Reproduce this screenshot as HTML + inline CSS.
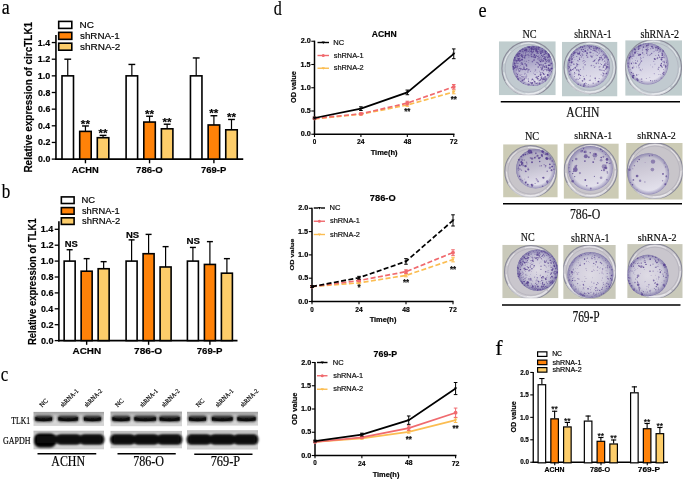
<!DOCTYPE html>
<html><head><meta charset="utf-8"><style>
html,body{margin:0;padding:0;background:#fff;width:685px;height:480px;overflow:hidden}
svg{display:block;will-change:transform}
text{white-space:pre;stroke:#000;stroke-width:0.22px;stroke-opacity:0.8}
</style></head><body>
<svg width="685" height="480" viewBox="0 0 685 480">
<defs>
<filter id="bl1" x="-20%" y="-50%" width="140%" height="200%"><feGaussianBlur stdDeviation="0.9"/></filter>
<filter id="bl2" x="-20%" y="-50%" width="140%" height="200%"><feGaussianBlur stdDeviation="0.5"/></filter>
<filter id="bl3" x="-5%" y="-5%" width="110%" height="110%"><feGaussianBlur stdDeviation="0.35"/></filter>
</defs>
<text x="1.72" y="14.34" font-family="'Liberation Serif', serif" font-weight="normal" font-size="20.83" textLength="7.98" lengthAdjust="spacingAndGlyphs" fill="#000" stroke="#000" stroke-width="0.3">a</text>
<text x="1.70" y="198.34" font-family="'Liberation Serif', serif" font-weight="normal" font-size="21.28" textLength="8.53" lengthAdjust="spacingAndGlyphs" fill="#000" stroke="#000" stroke-width="0.3">b</text>
<text x="0.68" y="381.45" font-family="'Liberation Serif', serif" font-weight="normal" font-size="20.42" textLength="7.46" lengthAdjust="spacingAndGlyphs" fill="#000" stroke="#000" stroke-width="0.3">c</text>
<text x="273.79" y="15.45" font-family="'Liberation Serif', serif" font-weight="normal" font-size="20.50" textLength="8.02" lengthAdjust="spacingAndGlyphs" fill="#000" stroke="#000" stroke-width="0.3">d</text>
<text x="478.47" y="16.53" font-family="'Liberation Serif', serif" font-weight="normal" font-size="21.67" textLength="8.10" lengthAdjust="spacingAndGlyphs" fill="#000" stroke="#000" stroke-width="0.3">e</text>
<text x="495.39" y="355.45" font-family="'Liberation Serif', serif" font-weight="normal" font-size="21.84" textLength="7.37" lengthAdjust="spacingAndGlyphs" fill="#000" stroke="#000" stroke-width="0.3">f</text>
<line x1="55.95" y1="35" x2="55.95" y2="159.9" stroke="#000" stroke-width="1.6"/>
<line x1="55.150000000000006" y1="159.1" x2="243.25" y2="159.1" stroke="#000" stroke-width="1.6"/>
<line x1="51.75" y1="159.10" x2="55.95" y2="159.10" stroke="#000" stroke-width="1.3"/>
<text x="38.05" y="162.11" font-family="'Liberation Sans', sans-serif" font-weight="bold" font-size="8.73" textLength="12.31" lengthAdjust="spacingAndGlyphs" fill="#000">0.0</text>
<line x1="51.75" y1="142.45" x2="55.95" y2="142.45" stroke="#000" stroke-width="1.3"/>
<text x="38.05" y="145.46" font-family="'Liberation Sans', sans-serif" font-weight="bold" font-size="8.73" textLength="12.31" lengthAdjust="spacingAndGlyphs" fill="#000">0.2</text>
<line x1="51.75" y1="125.80" x2="55.95" y2="125.80" stroke="#000" stroke-width="1.3"/>
<text x="38.06" y="128.81" font-family="'Liberation Sans', sans-serif" font-weight="bold" font-size="8.73" textLength="11.99" lengthAdjust="spacingAndGlyphs" fill="#000">0.4</text>
<line x1="51.75" y1="109.15" x2="55.95" y2="109.15" stroke="#000" stroke-width="1.3"/>
<text x="38.05" y="112.16" font-family="'Liberation Sans', sans-serif" font-weight="bold" font-size="8.73" textLength="12.26" lengthAdjust="spacingAndGlyphs" fill="#000">0.6</text>
<line x1="51.75" y1="92.50" x2="55.95" y2="92.50" stroke="#000" stroke-width="1.3"/>
<text x="38.05" y="95.51" font-family="'Liberation Sans', sans-serif" font-weight="bold" font-size="8.73" textLength="12.22" lengthAdjust="spacingAndGlyphs" fill="#000">0.8</text>
<line x1="51.75" y1="75.85" x2="55.95" y2="75.85" stroke="#000" stroke-width="1.3"/>
<text x="37.86" y="78.86" font-family="'Liberation Sans', sans-serif" font-weight="bold" font-size="8.73" textLength="12.50" lengthAdjust="spacingAndGlyphs" fill="#000">1.0</text>
<line x1="51.75" y1="59.20" x2="55.95" y2="59.20" stroke="#000" stroke-width="1.3"/>
<text x="37.86" y="62.30" font-family="'Liberation Sans', sans-serif" font-weight="bold" font-size="8.86" textLength="12.50" lengthAdjust="spacingAndGlyphs" fill="#000">1.2</text>
<line x1="51.75" y1="42.55" x2="55.95" y2="42.55" stroke="#000" stroke-width="1.3"/>
<text x="37.87" y="45.65" font-family="'Liberation Sans', sans-serif" font-weight="bold" font-size="8.99" textLength="12.17" lengthAdjust="spacingAndGlyphs" fill="#000">1.4</text>
<line x1="67.75" y1="75.85" x2="67.75" y2="59.20" stroke="#000" stroke-width="1.2"/>
<line x1="64.35" y1="59.20" x2="71.15" y2="59.20" stroke="#000" stroke-width="1.4"/>
<rect x="62.00" y="75.85" width="11.50" height="83.25" fill="#fff" stroke="#000" stroke-width="1.6"/>
<line x1="85.45" y1="131.38" x2="85.45" y2="125.97" stroke="#000" stroke-width="1.2"/>
<line x1="82.05" y1="125.97" x2="88.85" y2="125.97" stroke="#000" stroke-width="1.4"/>
<rect x="79.70" y="131.38" width="11.50" height="27.72" fill="#ff8208" stroke="#000" stroke-width="1.6"/>
<text x="80.89" y="127.70" font-family="'Liberation Sans', sans-serif" font-weight="bold" font-size="11.35" textLength="9.10" lengthAdjust="spacingAndGlyphs" fill="#000">**</text>
<line x1="103.05" y1="137.70" x2="103.05" y2="135.37" stroke="#000" stroke-width="1.2"/>
<line x1="99.65" y1="135.37" x2="106.45" y2="135.37" stroke="#000" stroke-width="1.4"/>
<rect x="97.30" y="137.70" width="11.50" height="21.40" fill="#fdcd6a" stroke="#000" stroke-width="1.6"/>
<text x="98.49" y="137.11" font-family="'Liberation Sans', sans-serif" font-weight="bold" font-size="11.35" textLength="9.10" lengthAdjust="spacingAndGlyphs" fill="#000">**</text>
<line x1="85.45" y1="159.1" x2="85.45" y2="163.29999999999998" stroke="#000" stroke-width="1.4"/>
<line x1="131.85" y1="75.85" x2="131.85" y2="64.44" stroke="#000" stroke-width="1.2"/>
<line x1="128.45" y1="64.44" x2="135.25" y2="64.44" stroke="#000" stroke-width="1.4"/>
<rect x="126.10" y="75.85" width="11.50" height="83.25" fill="#fff" stroke="#000" stroke-width="1.6"/>
<line x1="149.55" y1="122.05" x2="149.55" y2="116.23" stroke="#000" stroke-width="1.2"/>
<line x1="146.15" y1="116.23" x2="152.95" y2="116.23" stroke="#000" stroke-width="1.4"/>
<rect x="143.80" y="122.05" width="11.50" height="37.05" fill="#ff8208" stroke="#000" stroke-width="1.6"/>
<text x="144.99" y="117.96" font-family="'Liberation Sans', sans-serif" font-weight="bold" font-size="11.35" textLength="9.10" lengthAdjust="spacingAndGlyphs" fill="#000">**</text>
<line x1="167.15" y1="128.80" x2="167.15" y2="124.22" stroke="#000" stroke-width="1.2"/>
<line x1="163.75" y1="124.22" x2="170.55" y2="124.22" stroke="#000" stroke-width="1.4"/>
<rect x="161.40" y="128.80" width="11.50" height="30.30" fill="#fdcd6a" stroke="#000" stroke-width="1.6"/>
<text x="162.59" y="125.95" font-family="'Liberation Sans', sans-serif" font-weight="bold" font-size="11.35" textLength="9.10" lengthAdjust="spacingAndGlyphs" fill="#000">**</text>
<line x1="149.55" y1="159.1" x2="149.55" y2="163.29999999999998" stroke="#000" stroke-width="1.4"/>
<line x1="196.20" y1="75.85" x2="196.20" y2="57.95" stroke="#000" stroke-width="1.2"/>
<line x1="192.80" y1="57.95" x2="199.60" y2="57.95" stroke="#000" stroke-width="1.4"/>
<rect x="190.45" y="75.85" width="11.50" height="83.25" fill="#fff" stroke="#000" stroke-width="1.6"/>
<line x1="213.90" y1="124.97" x2="213.90" y2="115.73" stroke="#000" stroke-width="1.2"/>
<line x1="210.50" y1="115.73" x2="217.30" y2="115.73" stroke="#000" stroke-width="1.4"/>
<rect x="208.15" y="124.97" width="11.50" height="34.13" fill="#ff8208" stroke="#000" stroke-width="1.6"/>
<text x="209.34" y="117.46" font-family="'Liberation Sans', sans-serif" font-weight="bold" font-size="11.35" textLength="9.10" lengthAdjust="spacingAndGlyphs" fill="#000">**</text>
<line x1="231.50" y1="129.80" x2="231.50" y2="119.47" stroke="#000" stroke-width="1.2"/>
<line x1="228.10" y1="119.47" x2="234.90" y2="119.47" stroke="#000" stroke-width="1.4"/>
<rect x="225.75" y="129.80" width="11.50" height="29.30" fill="#fdcd6a" stroke="#000" stroke-width="1.6"/>
<text x="226.94" y="121.21" font-family="'Liberation Sans', sans-serif" font-weight="bold" font-size="11.35" textLength="9.10" lengthAdjust="spacingAndGlyphs" fill="#000">**</text>
<line x1="213.90" y1="159.1" x2="213.90" y2="163.29999999999998" stroke="#000" stroke-width="1.4"/>
<text x="71.74" y="172.69" font-family="'Liberation Sans', sans-serif" font-weight="bold" font-size="9.24" textLength="26.93" lengthAdjust="spacingAndGlyphs" fill="#000">ACHN</text>
<text x="136.09" y="172.68" font-family="'Liberation Sans', sans-serif" font-weight="bold" font-size="9.59" textLength="26.62" lengthAdjust="spacingAndGlyphs" fill="#000">786-O</text>
<text x="201.09" y="172.68" font-family="'Liberation Sans', sans-serif" font-weight="bold" font-size="9.59" textLength="25.26" lengthAdjust="spacingAndGlyphs" fill="#000">769-P</text>
<text transform="translate(31.90,172.55) rotate(-90)" font-family="'Liberation Sans', sans-serif" font-weight="bold" font-size="10.58" textLength="150.62" lengthAdjust="spacingAndGlyphs" fill="#000">Relative expression of circTLK1</text>
<rect x="58.699999999999996" y="21.40" width="13.10" height="7.00" fill="#fff" stroke="#000" stroke-width="1.6"/>
<rect x="58.699999999999996" y="32.35" width="13.10" height="7.00" fill="#ff8208" stroke="#000" stroke-width="1.6"/>
<rect x="58.699999999999996" y="43.20" width="13.10" height="7.00" fill="#fdcd6a" stroke="#000" stroke-width="1.6"/>
<text x="79.50" y="28.11" font-family="'Liberation Sans', sans-serif" font-weight="normal" font-size="9.30" textLength="14.39" lengthAdjust="spacingAndGlyphs" fill="#000">NC</text>
<text x="80.01" y="39.10" font-family="'Liberation Sans', sans-serif" font-weight="normal" font-size="9.52" textLength="39.75" lengthAdjust="spacingAndGlyphs" fill="#000">shRNA-1</text>
<text x="80.00" y="49.85" font-family="'Liberation Sans', sans-serif" font-weight="normal" font-size="9.59" textLength="40.41" lengthAdjust="spacingAndGlyphs" fill="#000">shRNA-2</text>
<line x1="58.9" y1="221.25" x2="58.9" y2="341.40000000000003" stroke="#000" stroke-width="1.6"/>
<line x1="58.1" y1="340.6" x2="237.5" y2="340.6" stroke="#000" stroke-width="1.6"/>
<line x1="54.699999999999996" y1="340.60" x2="58.9" y2="340.60" stroke="#000" stroke-width="1.3"/>
<text x="40.94" y="343.52" font-family="'Liberation Sans', sans-serif" font-weight="bold" font-size="8.45" textLength="12.63" lengthAdjust="spacingAndGlyphs" fill="#000">0.0</text>
<line x1="54.699999999999996" y1="324.70" x2="58.9" y2="324.70" stroke="#000" stroke-width="1.3"/>
<text x="40.94" y="327.62" font-family="'Liberation Sans', sans-serif" font-weight="bold" font-size="8.45" textLength="12.63" lengthAdjust="spacingAndGlyphs" fill="#000">0.2</text>
<line x1="54.699999999999996" y1="308.80" x2="58.9" y2="308.80" stroke="#000" stroke-width="1.3"/>
<text x="40.95" y="311.72" font-family="'Liberation Sans', sans-serif" font-weight="bold" font-size="8.45" textLength="12.30" lengthAdjust="spacingAndGlyphs" fill="#000">0.4</text>
<line x1="54.699999999999996" y1="292.90" x2="58.9" y2="292.90" stroke="#000" stroke-width="1.3"/>
<text x="40.94" y="295.82" font-family="'Liberation Sans', sans-serif" font-weight="bold" font-size="8.45" textLength="12.58" lengthAdjust="spacingAndGlyphs" fill="#000">0.6</text>
<line x1="54.699999999999996" y1="277.00" x2="58.9" y2="277.00" stroke="#000" stroke-width="1.3"/>
<text x="40.94" y="279.92" font-family="'Liberation Sans', sans-serif" font-weight="bold" font-size="8.45" textLength="12.53" lengthAdjust="spacingAndGlyphs" fill="#000">0.8</text>
<line x1="54.699999999999996" y1="261.10" x2="58.9" y2="261.10" stroke="#000" stroke-width="1.3"/>
<text x="40.75" y="264.02" font-family="'Liberation Sans', sans-serif" font-weight="bold" font-size="8.45" textLength="12.82" lengthAdjust="spacingAndGlyphs" fill="#000">1.0</text>
<line x1="54.699999999999996" y1="245.20" x2="58.9" y2="245.20" stroke="#000" stroke-width="1.3"/>
<text x="40.75" y="248.20" font-family="'Liberation Sans', sans-serif" font-weight="bold" font-size="8.57" textLength="12.82" lengthAdjust="spacingAndGlyphs" fill="#000">1.2</text>
<line x1="54.699999999999996" y1="229.30" x2="58.9" y2="229.30" stroke="#000" stroke-width="1.3"/>
<text x="40.76" y="232.30" font-family="'Liberation Sans', sans-serif" font-weight="bold" font-size="8.70" textLength="12.49" lengthAdjust="spacingAndGlyphs" fill="#000">1.4</text>
<line x1="69.65" y1="261.10" x2="69.65" y2="249.73" stroke="#000" stroke-width="1.2"/>
<line x1="66.65" y1="249.73" x2="72.65" y2="249.73" stroke="#000" stroke-width="1.4"/>
<rect x="64.15" y="261.10" width="11.00" height="79.50" fill="#fff" stroke="#000" stroke-width="1.6"/>
<line x1="86.65" y1="271.20" x2="86.65" y2="258.64" stroke="#000" stroke-width="1.2"/>
<line x1="83.65" y1="258.64" x2="89.65" y2="258.64" stroke="#000" stroke-width="1.4"/>
<rect x="81.15" y="271.20" width="11.00" height="69.40" fill="#ff8208" stroke="#000" stroke-width="1.6"/>
<line x1="103.65" y1="268.73" x2="103.65" y2="261.66" stroke="#000" stroke-width="1.2"/>
<line x1="100.65" y1="261.66" x2="106.65" y2="261.66" stroke="#000" stroke-width="1.4"/>
<rect x="98.15" y="268.73" width="11.00" height="71.87" fill="#fdcd6a" stroke="#000" stroke-width="1.6"/>
<line x1="86.65" y1="340.6" x2="86.65" y2="344.8" stroke="#000" stroke-width="1.4"/>
<line x1="131.60" y1="261.10" x2="131.60" y2="239.87" stroke="#000" stroke-width="1.2"/>
<line x1="128.60" y1="239.87" x2="134.60" y2="239.87" stroke="#000" stroke-width="1.4"/>
<rect x="126.10" y="261.10" width="11.00" height="79.50" fill="#fff" stroke="#000" stroke-width="1.6"/>
<line x1="148.60" y1="253.71" x2="148.60" y2="234.39" stroke="#000" stroke-width="1.2"/>
<line x1="145.60" y1="234.39" x2="151.60" y2="234.39" stroke="#000" stroke-width="1.4"/>
<rect x="143.10" y="253.71" width="11.00" height="86.89" fill="#ff8208" stroke="#000" stroke-width="1.6"/>
<line x1="165.60" y1="266.98" x2="165.60" y2="246.63" stroke="#000" stroke-width="1.2"/>
<line x1="162.60" y1="246.63" x2="168.60" y2="246.63" stroke="#000" stroke-width="1.4"/>
<rect x="160.10" y="266.98" width="11.00" height="73.62" fill="#fdcd6a" stroke="#000" stroke-width="1.6"/>
<line x1="148.60" y1="340.6" x2="148.60" y2="344.8" stroke="#000" stroke-width="1.4"/>
<line x1="192.90" y1="261.10" x2="192.90" y2="247.43" stroke="#000" stroke-width="1.2"/>
<line x1="189.90" y1="247.43" x2="195.90" y2="247.43" stroke="#000" stroke-width="1.4"/>
<rect x="187.40" y="261.10" width="11.00" height="79.50" fill="#fff" stroke="#000" stroke-width="1.6"/>
<line x1="209.90" y1="264.44" x2="209.90" y2="241.62" stroke="#000" stroke-width="1.2"/>
<line x1="206.90" y1="241.62" x2="212.90" y2="241.62" stroke="#000" stroke-width="1.4"/>
<rect x="204.40" y="264.44" width="11.00" height="76.16" fill="#ff8208" stroke="#000" stroke-width="1.6"/>
<line x1="226.90" y1="273.18" x2="226.90" y2="258.64" stroke="#000" stroke-width="1.2"/>
<line x1="223.90" y1="258.64" x2="229.90" y2="258.64" stroke="#000" stroke-width="1.4"/>
<rect x="221.40" y="273.18" width="11.00" height="67.42" fill="#fdcd6a" stroke="#000" stroke-width="1.6"/>
<line x1="209.90" y1="340.6" x2="209.90" y2="344.8" stroke="#000" stroke-width="1.4"/>
<text x="64.69" y="247.31" font-family="'Liberation Sans', sans-serif" font-weight="bold" font-size="8.59" textLength="13.08" lengthAdjust="spacingAndGlyphs" fill="#000">NS</text>
<text x="126.03" y="237.51" font-family="'Liberation Sans', sans-serif" font-weight="bold" font-size="9.44" textLength="13.19" lengthAdjust="spacingAndGlyphs" fill="#000">NS</text>
<text x="186.52" y="244.01" font-family="'Liberation Sans', sans-serif" font-weight="bold" font-size="9.44" textLength="13.46" lengthAdjust="spacingAndGlyphs" fill="#000">NS</text>
<text x="72.47" y="354.09" font-family="'Liberation Sans', sans-serif" font-weight="bold" font-size="9.38" textLength="28.74" lengthAdjust="spacingAndGlyphs" fill="#000">ACHN</text>
<text x="134.06" y="354.09" font-family="'Liberation Sans', sans-serif" font-weight="bold" font-size="9.38" textLength="28.17" lengthAdjust="spacingAndGlyphs" fill="#000">786-O</text>
<text x="196.73" y="354.09" font-family="'Liberation Sans', sans-serif" font-weight="bold" font-size="9.38" textLength="25.77" lengthAdjust="spacingAndGlyphs" fill="#000">769-P</text>
<text transform="translate(35.80,345.01) rotate(-90)" font-family="'Liberation Sans', sans-serif" font-weight="bold" font-size="10.43" textLength="126.68" lengthAdjust="spacingAndGlyphs" fill="#000">Relative expression of TLK1</text>
<rect x="61.349999999999994" y="196.90" width="12.75" height="6.60" fill="#fff" stroke="#000" stroke-width="1.6"/>
<rect x="61.349999999999994" y="207.60" width="12.75" height="6.60" fill="#ff8208" stroke="#000" stroke-width="1.6"/>
<rect x="61.349999999999994" y="217.80" width="12.75" height="6.60" fill="#fdcd6a" stroke="#000" stroke-width="1.6"/>
<text x="81.50" y="203.07" font-family="'Liberation Sans', sans-serif" font-weight="normal" font-size="8.17" textLength="13.63" lengthAdjust="spacingAndGlyphs" fill="#000">NC</text>
<text x="81.97" y="213.67" font-family="'Liberation Sans', sans-serif" font-weight="normal" font-size="8.44" textLength="37.71" lengthAdjust="spacingAndGlyphs" fill="#000">shRNA-1</text>
<text x="81.97" y="224.16" font-family="'Liberation Sans', sans-serif" font-weight="normal" font-size="8.84" textLength="38.27" lengthAdjust="spacingAndGlyphs" fill="#000">shRNA-2</text>
<defs><linearGradient id="gbt" x1="0" y1="0" x2="0" y2="1"><stop offset="0" stop-color="#9e9e9e"/><stop offset="0.3" stop-color="#c6c6c6"/><stop offset="0.7" stop-color="#d9d9d9"/><stop offset="1" stop-color="#d3d3d3"/></linearGradient><linearGradient id="gbg" x1="0" y1="0" x2="0" y2="1"><stop offset="0" stop-color="#bdbdbd"/><stop offset="0.25" stop-color="#d0d0d0"/><stop offset="0.8" stop-color="#d8d8d8"/><stop offset="1" stop-color="#cdcdcd"/></linearGradient><filter id="bb" x="-10%" y="-60%" width="120%" height="220%"><feGaussianBlur stdDeviation="0.8"/></filter><filter id="bb2" x="-10%" y="-60%" width="120%" height="220%"><feGaussianBlur stdDeviation="0.6"/></filter></defs>
<rect x="33.5" y="411.9" width="70.5" height="14.00" fill="url(#gbt)"/>
<rect x="33.5" y="430.7" width="70.5" height="18.60" fill="url(#gbg)"/>
<rect x="34.40" y="415.4" width="18.60" height="6.3" rx="3" fill="#2a2a2a" filter="url(#bb)"/>
<path d="M35.40,417.2 Q43.70,419.6 52.00,417.2 L52.00,420.6 Q43.70,422.0 35.40,420.6 Z" fill="#0c0c0c" filter="url(#bb2)"/>
<rect x="57.50" y="415.4" width="21.25" height="6.3" rx="3" fill="#2a2a2a" filter="url(#bb)"/>
<path d="M58.50,417.2 Q68.12,419.6 77.75,417.2 L77.75,420.6 Q68.12,422.0 58.50,420.6 Z" fill="#0c0c0c" filter="url(#bb2)"/>
<rect x="83.00" y="415.4" width="18.90" height="6.3" rx="3" fill="#2a2a2a" filter="url(#bb)"/>
<path d="M84.00,417.2 Q92.45,419.6 100.90,417.2 L100.90,420.6 Q92.45,422.0 84.00,420.6 Z" fill="#0c0c0c" filter="url(#bb2)"/>
<rect x="34.10" y="433.6" width="21.90" height="13.8" rx="5.5" fill="#050505" filter="url(#bb)"/>
<rect x="56.60" y="434.4" width="24.30" height="10.2" rx="4.5" fill="#080808" filter="url(#bb)"/>
<rect x="80.10" y="434.4" width="24.30" height="10.2" rx="4.5" fill="#080808" filter="url(#bb)"/>
<rect x="36.50" y="435.6" width="64.50" height="7.6" fill="#0a0a0a" filter="url(#bb)"/>
<rect x="110.5" y="411.6" width="71.5" height="14.60" fill="url(#gbt)"/>
<rect x="110.5" y="430.9" width="71.5" height="17.40" fill="url(#gbg)"/>
<rect x="111.50" y="415.4" width="19.10" height="6.3" rx="3" fill="#2a2a2a" filter="url(#bb)"/>
<path d="M112.50,417.2 Q121.05,419.6 129.60,417.2 L129.60,420.6 Q121.05,422.0 112.50,420.6 Z" fill="#0c0c0c" filter="url(#bb2)"/>
<rect x="133.50" y="415.4" width="23.40" height="6.3" rx="3" fill="#2a2a2a" filter="url(#bb)"/>
<path d="M134.50,417.2 Q145.20,419.6 155.90,417.2 L155.90,420.6 Q145.20,422.0 134.50,420.6 Z" fill="#0c0c0c" filter="url(#bb2)"/>
<rect x="158.75" y="415.4" width="21.85" height="6.3" rx="3" fill="#2a2a2a" filter="url(#bb)"/>
<path d="M159.75,417.2 Q169.68,419.6 179.60,417.2 L179.60,420.6 Q169.68,422.0 159.75,420.6 Z" fill="#0c0c0c" filter="url(#bb2)"/>
<rect x="110.10" y="434.4" width="24.63" height="10.2" rx="4.5" fill="#080808" filter="url(#bb)"/>
<rect x="133.93" y="434.4" width="24.63" height="10.2" rx="4.5" fill="#080808" filter="url(#bb)"/>
<rect x="157.77" y="434.4" width="24.63" height="10.2" rx="4.5" fill="#080808" filter="url(#bb)"/>
<rect x="113.50" y="435.6" width="65.50" height="7.6" fill="#0a0a0a" filter="url(#bb)"/>
<rect x="187.0" y="411.8" width="71.0" height="13.80" fill="url(#gbt)"/>
<rect x="187.0" y="430.2" width="71.0" height="19.30" fill="url(#gbg)"/>
<rect x="188.00" y="415.4" width="19.00" height="6.3" rx="3" fill="#2a2a2a" filter="url(#bb)"/>
<path d="M189.00,417.2 Q197.50,419.6 206.00,417.2 L206.00,420.6 Q197.50,422.0 189.00,420.6 Z" fill="#0c0c0c" filter="url(#bb2)"/>
<rect x="211.00" y="415.4" width="22.50" height="6.3" rx="3" fill="#2a2a2a" filter="url(#bb)"/>
<path d="M212.00,417.2 Q222.25,419.6 232.50,417.2 L232.50,420.6 Q222.25,422.0 212.00,420.6 Z" fill="#0c0c0c" filter="url(#bb2)"/>
<rect x="236.50" y="415.4" width="20.00" height="6.3" rx="3" fill="#2a2a2a" filter="url(#bb)"/>
<path d="M237.50,417.2 Q246.50,419.6 255.50,417.2 L255.50,420.6 Q246.50,422.0 237.50,420.6 Z" fill="#0c0c0c" filter="url(#bb2)"/>
<rect x="186.60" y="434.4" width="24.47" height="10.2" rx="4.5" fill="#080808" filter="url(#bb)"/>
<rect x="210.27" y="434.4" width="24.47" height="10.2" rx="4.5" fill="#080808" filter="url(#bb)"/>
<rect x="233.93" y="434.4" width="24.47" height="10.2" rx="4.5" fill="#080808" filter="url(#bb)"/>
<rect x="190.00" y="435.6" width="65.00" height="7.6" fill="#0a0a0a" filter="url(#bb)"/>
<text x="11.32" y="424.28" font-family="'Liberation Serif', serif" font-weight="normal" font-size="9.94" textLength="18.92" lengthAdjust="spacingAndGlyphs" fill="#000">TLK1</text>
<text x="2.90" y="444.07" font-family="'Liberation Serif', serif" font-weight="normal" font-size="10.99" textLength="27.58" lengthAdjust="spacingAndGlyphs" fill="#000">GAPDH</text>
<line x1="37.5" y1="453.75" x2="96.25" y2="453.75" stroke="#000" stroke-width="1.3"/>
<line x1="117.5" y1="453.75" x2="175.75" y2="453.75" stroke="#000" stroke-width="1.3"/>
<line x1="194.25" y1="454.25" x2="252.5" y2="454.25" stroke="#000" stroke-width="1.3"/>
<text x="51.35" y="465.89" font-family="'Liberation Serif', serif" font-weight="normal" font-size="14.27" textLength="33.71" lengthAdjust="spacingAndGlyphs" fill="#000">ACHN</text>
<text x="133.19" y="465.89" font-family="'Liberation Serif', serif" font-weight="normal" font-size="14.16" textLength="30.83" lengthAdjust="spacingAndGlyphs" fill="#000">786-O</text>
<text x="210.66" y="466.14" font-family="'Liberation Serif', serif" font-weight="normal" font-size="13.52" textLength="29.60" lengthAdjust="spacingAndGlyphs" fill="#000">769-P</text>
<text transform="translate(42.03,407.5) rotate(-45)" font-family="Liberation Serif, serif" font-size="6.5" textLength="9.0" lengthAdjust="spacingAndGlyphs" fill="#000" stroke="#000" stroke-width="0.18">NC</text>
<text transform="translate(62.87,407.5) rotate(-45)" font-family="Liberation Serif, serif" font-size="6.5" textLength="22.6" lengthAdjust="spacingAndGlyphs" fill="#000" stroke="#000" stroke-width="0.18">shRNA-1</text>
<text transform="translate(86.67,407.5) rotate(-45)" font-family="Liberation Serif, serif" font-size="6.5" textLength="22.6" lengthAdjust="spacingAndGlyphs" fill="#000" stroke="#000" stroke-width="0.18">shRNA-2</text>
<text transform="translate(117.73,407.5) rotate(-45)" font-family="Liberation Serif, serif" font-size="6.5" textLength="9.0" lengthAdjust="spacingAndGlyphs" fill="#000" stroke="#000" stroke-width="0.18">NC</text>
<text transform="translate(142.27,407.5) rotate(-45)" font-family="Liberation Serif, serif" font-size="6.5" textLength="22.6" lengthAdjust="spacingAndGlyphs" fill="#000" stroke="#000" stroke-width="0.18">shRNA-1</text>
<text transform="translate(164.07,407.5) rotate(-45)" font-family="Liberation Serif, serif" font-size="6.5" textLength="22.6" lengthAdjust="spacingAndGlyphs" fill="#000" stroke="#000" stroke-width="0.18">shRNA-2</text>
<text transform="translate(198.43,407.5) rotate(-45)" font-family="Liberation Serif, serif" font-size="6.5" textLength="9.0" lengthAdjust="spacingAndGlyphs" fill="#000" stroke="#000" stroke-width="0.18">NC</text>
<text transform="translate(217.87,407.5) rotate(-45)" font-family="Liberation Serif, serif" font-size="6.5" textLength="22.6" lengthAdjust="spacingAndGlyphs" fill="#000" stroke="#000" stroke-width="0.18">shRNA-1</text>
<text transform="translate(242.87,407.5) rotate(-45)" font-family="Liberation Serif, serif" font-size="6.5" textLength="22.6" lengthAdjust="spacingAndGlyphs" fill="#000" stroke="#000" stroke-width="0.18">shRNA-2</text>
<line x1="314.5" y1="40.65" x2="314.5" y2="135.0" stroke="#000" stroke-width="1.5"/>
<line x1="313.75" y1="134.25" x2="454.5" y2="134.25" stroke="#000" stroke-width="1.6"/>
<line x1="311.3" y1="134.25" x2="314.5" y2="134.25" stroke="#000" stroke-width="1.1"/>
<text x="300.66" y="136.39" font-family="'Liberation Sans', sans-serif" font-weight="bold" font-size="6.34" textLength="10.08" lengthAdjust="spacingAndGlyphs" fill="#000">0.0</text>
<line x1="311.3" y1="111.00" x2="314.5" y2="111.00" stroke="#000" stroke-width="1.1"/>
<text x="300.66" y="113.14" font-family="'Liberation Sans', sans-serif" font-weight="bold" font-size="6.34" textLength="9.97" lengthAdjust="spacingAndGlyphs" fill="#000">0.5</text>
<line x1="311.3" y1="87.75" x2="314.5" y2="87.75" stroke="#000" stroke-width="1.1"/>
<text x="300.51" y="89.89" font-family="'Liberation Sans', sans-serif" font-weight="bold" font-size="6.34" textLength="10.24" lengthAdjust="spacingAndGlyphs" fill="#000">1.0</text>
<line x1="311.3" y1="64.50" x2="314.5" y2="64.50" stroke="#000" stroke-width="1.1"/>
<text x="300.51" y="66.64" font-family="'Liberation Sans', sans-serif" font-weight="bold" font-size="6.43" textLength="10.12" lengthAdjust="spacingAndGlyphs" fill="#000">1.5</text>
<line x1="311.3" y1="41.25" x2="314.5" y2="41.25" stroke="#000" stroke-width="1.1"/>
<text x="300.70" y="43.39" font-family="'Liberation Sans', sans-serif" font-weight="bold" font-size="6.34" textLength="10.04" lengthAdjust="spacingAndGlyphs" fill="#000">2.0</text>
<line x1="314.50" y1="134.25" x2="314.50" y2="137.05" stroke="#000" stroke-width="1.1"/>
<text x="312.75" y="144.03" font-family="'Liberation Sans', sans-serif" font-weight="bold" font-size="6.76" textLength="3.51" lengthAdjust="spacingAndGlyphs" fill="#000">0</text>
<line x1="360.92" y1="134.25" x2="360.92" y2="137.05" stroke="#000" stroke-width="1.1"/>
<text x="357.08" y="144.10" font-family="'Liberation Sans', sans-serif" font-weight="bold" font-size="6.86" textLength="7.48" lengthAdjust="spacingAndGlyphs" fill="#000">24</text>
<line x1="407.33" y1="134.25" x2="407.33" y2="137.05" stroke="#000" stroke-width="1.1"/>
<text x="403.63" y="144.03" font-family="'Liberation Sans', sans-serif" font-weight="bold" font-size="6.76" textLength="7.52" lengthAdjust="spacingAndGlyphs" fill="#000">48</text>
<line x1="453.75" y1="134.25" x2="453.75" y2="137.05" stroke="#000" stroke-width="1.1"/>
<text x="449.87" y="144.10" font-family="'Liberation Sans', sans-serif" font-weight="bold" font-size="6.86" textLength="7.78" lengthAdjust="spacingAndGlyphs" fill="#000">72</text>
<text x="371.75" y="36.69" font-family="'Liberation Sans', sans-serif" font-weight="bold" font-size="9.24" textLength="24.87" lengthAdjust="spacingAndGlyphs" fill="#000">ACHN</text>
<text x="370.64" y="154.94" font-family="'Liberation Sans', sans-serif" font-weight="bold" font-size="7.55" textLength="26.99" lengthAdjust="spacingAndGlyphs" fill="#000">Time(h)</text>
<text transform="translate(296.46,103.07) rotate(-90)" font-family="'Liberation Sans', sans-serif" font-weight="bold" font-size="6.88" textLength="31.86" lengthAdjust="spacingAndGlyphs" fill="#000">OD value</text>
<polyline points="314.50,118.91 360.92,114.25 407.33,104.95 453.75,91.94" fill="none" stroke="#fbbd52" stroke-width="1.7" stroke-dasharray="5,2.4"/>
<path d="M312.90,117.91 L316.10,117.91 L314.50,120.31Z" fill="#fbbd52"/>
<line x1="360.92" y1="113.33" x2="360.92" y2="115.19" stroke="#fbbd52" stroke-width="1.0"/>
<line x1="359.12" y1="113.33" x2="362.72" y2="113.33" stroke="#fbbd52" stroke-width="1.0"/>
<line x1="359.12" y1="115.19" x2="362.72" y2="115.19" stroke="#fbbd52" stroke-width="1.0"/>
<path d="M359.32,113.25 L362.52,113.25 L360.92,115.66Z" fill="#fbbd52"/>
<line x1="407.33" y1="103.56" x2="407.33" y2="106.35" stroke="#fbbd52" stroke-width="1.0"/>
<line x1="405.53" y1="103.56" x2="409.13" y2="103.56" stroke="#fbbd52" stroke-width="1.0"/>
<line x1="405.53" y1="106.35" x2="409.13" y2="106.35" stroke="#fbbd52" stroke-width="1.0"/>
<path d="M405.73,103.95 L408.93,103.95 L407.33,106.36Z" fill="#fbbd52"/>
<line x1="453.75" y1="90.07" x2="453.75" y2="93.80" stroke="#fbbd52" stroke-width="1.0"/>
<line x1="451.95" y1="90.07" x2="455.55" y2="90.07" stroke="#fbbd52" stroke-width="1.0"/>
<line x1="451.95" y1="93.80" x2="455.55" y2="93.80" stroke="#fbbd52" stroke-width="1.0"/>
<path d="M452.15,90.94 L455.35,90.94 L453.75,93.34Z" fill="#fbbd52"/>
<polyline points="314.50,118.44 360.92,113.79 407.33,103.09 453.75,86.82" fill="none" stroke="#f06a6e" stroke-width="1.7" stroke-dasharray="5,2.4"/>
<circle cx="314.50" cy="118.44" r="1.9" fill="#f06a6e"/>
<line x1="360.92" y1="112.86" x2="360.92" y2="114.72" stroke="#f06a6e" stroke-width="1.0"/>
<line x1="359.12" y1="112.86" x2="362.72" y2="112.86" stroke="#f06a6e" stroke-width="1.0"/>
<line x1="359.12" y1="114.72" x2="362.72" y2="114.72" stroke="#f06a6e" stroke-width="1.0"/>
<circle cx="360.92" cy="113.79" r="1.9" fill="#f06a6e"/>
<line x1="407.33" y1="101.23" x2="407.33" y2="104.95" stroke="#f06a6e" stroke-width="1.0"/>
<line x1="405.53" y1="101.23" x2="409.13" y2="101.23" stroke="#f06a6e" stroke-width="1.0"/>
<line x1="405.53" y1="104.95" x2="409.13" y2="104.95" stroke="#f06a6e" stroke-width="1.0"/>
<circle cx="407.33" cy="103.09" r="1.9" fill="#f06a6e"/>
<line x1="453.75" y1="84.50" x2="453.75" y2="89.15" stroke="#f06a6e" stroke-width="1.0"/>
<line x1="451.95" y1="84.50" x2="455.55" y2="84.50" stroke="#f06a6e" stroke-width="1.0"/>
<line x1="451.95" y1="89.15" x2="455.55" y2="89.15" stroke="#f06a6e" stroke-width="1.0"/>
<circle cx="453.75" cy="86.82" r="1.9" fill="#f06a6e"/>
<polyline points="314.50,117.97 360.92,108.67 407.33,92.40 453.75,53.81" fill="none" stroke="#000" stroke-width="1.7"/>
<line x1="314.50" y1="117.05" x2="314.50" y2="118.91" stroke="#000" stroke-width="1.0"/>
<line x1="312.70" y1="117.05" x2="316.30" y2="117.05" stroke="#000" stroke-width="1.0"/>
<line x1="312.70" y1="118.91" x2="316.30" y2="118.91" stroke="#000" stroke-width="1.0"/>
<path d="M312.90,116.97 L316.10,116.97 L314.50,119.38Z" fill="#000"/>
<line x1="360.92" y1="106.81" x2="360.92" y2="110.53" stroke="#000" stroke-width="1.0"/>
<line x1="359.12" y1="106.81" x2="362.72" y2="106.81" stroke="#000" stroke-width="1.0"/>
<line x1="359.12" y1="110.53" x2="362.72" y2="110.53" stroke="#000" stroke-width="1.0"/>
<path d="M359.32,107.67 L362.52,107.67 L360.92,110.08Z" fill="#000"/>
<line x1="407.33" y1="90.07" x2="407.33" y2="94.72" stroke="#000" stroke-width="1.0"/>
<line x1="405.53" y1="90.07" x2="409.13" y2="90.07" stroke="#000" stroke-width="1.0"/>
<line x1="405.53" y1="94.72" x2="409.13" y2="94.72" stroke="#000" stroke-width="1.0"/>
<path d="M405.73,91.40 L408.93,91.40 L407.33,93.80Z" fill="#000"/>
<line x1="453.75" y1="48.92" x2="453.75" y2="58.69" stroke="#000" stroke-width="1.0"/>
<line x1="451.95" y1="48.92" x2="455.55" y2="48.92" stroke="#000" stroke-width="1.0"/>
<line x1="451.95" y1="58.69" x2="455.55" y2="58.69" stroke="#000" stroke-width="1.0"/>
<path d="M452.15,52.81 L455.35,52.81 L453.75,55.21Z" fill="#000"/>
<text x="404.24" y="113.93" font-family="'Liberation Sans', sans-serif" font-weight="bold" font-size="8.38" textLength="6.17" lengthAdjust="spacingAndGlyphs" fill="#111">**</text>
<text x="450.66" y="101.68" font-family="'Liberation Sans', sans-serif" font-weight="bold" font-size="8.38" textLength="6.17" lengthAdjust="spacingAndGlyphs" fill="#111">**</text>
<line x1="317.5" y1="42.5" x2="329.0" y2="42.5" stroke="#000" stroke-width="1.4"/>
<path d="M321.65,41.50 L324.85,41.50 L323.25,43.90Z" fill="#000"/>
<text x="333.35" y="44.63" font-family="'Liberation Sans', sans-serif" font-weight="normal" font-size="7.46" textLength="10.90" lengthAdjust="spacingAndGlyphs" fill="#111">NC</text>
<line x1="317.5" y1="55.5" x2="329.0" y2="55.5" stroke="#f06a6e" stroke-width="1.4"/>
<circle cx="323.25" cy="55.5" r="1.5" fill="#f06a6e"/>
<text x="333.73" y="57.63" font-family="'Liberation Sans', sans-serif" font-weight="normal" font-size="7.21" textLength="29.97" lengthAdjust="spacingAndGlyphs" fill="#111">shRNA-1</text>
<line x1="317.5" y1="68.25" x2="329.0" y2="68.25" stroke="#fbbd52" stroke-width="1.4"/>
<path d="M321.65,67.25 L324.85,67.25 L323.25,69.65Z" fill="#fbbd52"/>
<text x="333.73" y="70.38" font-family="'Liberation Sans', sans-serif" font-weight="normal" font-size="7.21" textLength="30.00" lengthAdjust="spacingAndGlyphs" fill="#111">shRNA-2</text>
<line x1="312.0" y1="207.70" x2="312.0" y2="302.25" stroke="#000" stroke-width="1.5"/>
<line x1="311.25" y1="301.5" x2="453.5" y2="301.5" stroke="#000" stroke-width="1.6"/>
<line x1="308.8" y1="301.50" x2="312.0" y2="301.50" stroke="#000" stroke-width="1.1"/>
<text x="298.16" y="303.64" font-family="'Liberation Sans', sans-serif" font-weight="bold" font-size="6.34" textLength="10.08" lengthAdjust="spacingAndGlyphs" fill="#000">0.0</text>
<line x1="308.8" y1="278.20" x2="312.0" y2="278.20" stroke="#000" stroke-width="1.1"/>
<text x="298.16" y="280.34" font-family="'Liberation Sans', sans-serif" font-weight="bold" font-size="6.34" textLength="9.97" lengthAdjust="spacingAndGlyphs" fill="#000">0.5</text>
<line x1="308.8" y1="254.90" x2="312.0" y2="254.90" stroke="#000" stroke-width="1.1"/>
<text x="298.01" y="257.04" font-family="'Liberation Sans', sans-serif" font-weight="bold" font-size="6.34" textLength="10.24" lengthAdjust="spacingAndGlyphs" fill="#000">1.0</text>
<line x1="308.8" y1="231.60" x2="312.0" y2="231.60" stroke="#000" stroke-width="1.1"/>
<text x="298.01" y="233.74" font-family="'Liberation Sans', sans-serif" font-weight="bold" font-size="6.43" textLength="10.12" lengthAdjust="spacingAndGlyphs" fill="#000">1.5</text>
<line x1="308.8" y1="208.30" x2="312.0" y2="208.30" stroke="#000" stroke-width="1.1"/>
<text x="298.20" y="210.44" font-family="'Liberation Sans', sans-serif" font-weight="bold" font-size="6.34" textLength="10.04" lengthAdjust="spacingAndGlyphs" fill="#000">2.0</text>
<line x1="312.00" y1="301.5" x2="312.00" y2="304.3" stroke="#000" stroke-width="1.1"/>
<text x="310.25" y="311.63" font-family="'Liberation Sans', sans-serif" font-weight="bold" font-size="6.76" textLength="3.51" lengthAdjust="spacingAndGlyphs" fill="#000">0</text>
<line x1="359.00" y1="301.5" x2="359.00" y2="304.3" stroke="#000" stroke-width="1.1"/>
<text x="355.16" y="311.70" font-family="'Liberation Sans', sans-serif" font-weight="bold" font-size="6.86" textLength="7.48" lengthAdjust="spacingAndGlyphs" fill="#000">24</text>
<line x1="406.00" y1="301.5" x2="406.00" y2="304.3" stroke="#000" stroke-width="1.1"/>
<text x="402.30" y="311.63" font-family="'Liberation Sans', sans-serif" font-weight="bold" font-size="6.76" textLength="7.52" lengthAdjust="spacingAndGlyphs" fill="#000">48</text>
<line x1="453.00" y1="301.5" x2="453.00" y2="304.3" stroke="#000" stroke-width="1.1"/>
<text x="449.12" y="311.70" font-family="'Liberation Sans', sans-serif" font-weight="bold" font-size="6.86" textLength="7.78" lengthAdjust="spacingAndGlyphs" fill="#000">72</text>
<text x="369.85" y="201.19" font-family="'Liberation Sans', sans-serif" font-weight="bold" font-size="8.54" textLength="25.84" lengthAdjust="spacingAndGlyphs" fill="#000">786-O</text>
<text x="369.65" y="322.11" font-family="'Liberation Sans', sans-serif" font-weight="bold" font-size="6.75" textLength="26.74" lengthAdjust="spacingAndGlyphs" fill="#000">Time(h)</text>
<text transform="translate(294.22,270.57) rotate(-90)" font-family="'Liberation Sans', sans-serif" font-weight="bold" font-size="6.20" textLength="31.86" lengthAdjust="spacingAndGlyphs" fill="#000">OD value</text>
<polyline points="312.00,286.59 359.00,282.86 406.00,275.40 453.00,259.56" fill="none" stroke="#fbbd52" stroke-width="1.7" stroke-dasharray="5,2.4"/>
<path d="M310.40,285.59 L313.60,285.59 L312.00,287.99Z" fill="#fbbd52"/>
<line x1="359.00" y1="281.93" x2="359.00" y2="283.79" stroke="#fbbd52" stroke-width="1.0"/>
<line x1="357.20" y1="281.93" x2="360.80" y2="281.93" stroke="#fbbd52" stroke-width="1.0"/>
<line x1="357.20" y1="283.79" x2="360.80" y2="283.79" stroke="#fbbd52" stroke-width="1.0"/>
<path d="M357.40,281.86 L360.60,281.86 L359.00,284.26Z" fill="#fbbd52"/>
<line x1="406.00" y1="274.01" x2="406.00" y2="276.80" stroke="#fbbd52" stroke-width="1.0"/>
<line x1="404.20" y1="274.01" x2="407.80" y2="274.01" stroke="#fbbd52" stroke-width="1.0"/>
<line x1="404.20" y1="276.80" x2="407.80" y2="276.80" stroke="#fbbd52" stroke-width="1.0"/>
<path d="M404.40,274.40 L407.60,274.40 L406.00,276.80Z" fill="#fbbd52"/>
<line x1="453.00" y1="257.23" x2="453.00" y2="261.89" stroke="#fbbd52" stroke-width="1.0"/>
<line x1="451.20" y1="257.23" x2="454.80" y2="257.23" stroke="#fbbd52" stroke-width="1.0"/>
<line x1="451.20" y1="261.89" x2="454.80" y2="261.89" stroke="#fbbd52" stroke-width="1.0"/>
<path d="M451.40,258.56 L454.60,258.56 L453.00,260.96Z" fill="#fbbd52"/>
<polyline points="312.00,286.59 359.00,280.53 406.00,271.68 453.00,252.57" fill="none" stroke="#f06a6e" stroke-width="1.7" stroke-dasharray="5,2.4"/>
<circle cx="312.00" cy="286.59" r="1.9" fill="#f06a6e"/>
<line x1="359.00" y1="279.60" x2="359.00" y2="281.46" stroke="#f06a6e" stroke-width="1.0"/>
<line x1="357.20" y1="279.60" x2="360.80" y2="279.60" stroke="#f06a6e" stroke-width="1.0"/>
<line x1="357.20" y1="281.46" x2="360.80" y2="281.46" stroke="#f06a6e" stroke-width="1.0"/>
<circle cx="359.00" cy="280.53" r="1.9" fill="#f06a6e"/>
<line x1="406.00" y1="269.81" x2="406.00" y2="273.54" stroke="#f06a6e" stroke-width="1.0"/>
<line x1="404.20" y1="269.81" x2="407.80" y2="269.81" stroke="#f06a6e" stroke-width="1.0"/>
<line x1="404.20" y1="273.54" x2="407.80" y2="273.54" stroke="#f06a6e" stroke-width="1.0"/>
<circle cx="406.00" cy="271.68" r="1.9" fill="#f06a6e"/>
<line x1="453.00" y1="249.77" x2="453.00" y2="255.37" stroke="#f06a6e" stroke-width="1.0"/>
<line x1="451.20" y1="249.77" x2="454.80" y2="249.77" stroke="#f06a6e" stroke-width="1.0"/>
<line x1="451.20" y1="255.37" x2="454.80" y2="255.37" stroke="#f06a6e" stroke-width="1.0"/>
<circle cx="453.00" cy="252.57" r="1.9" fill="#f06a6e"/>
<polyline points="312.00,286.59 359.00,277.73 406.00,261.42 453.00,220.42" fill="none" stroke="#000" stroke-width="1.7" stroke-dasharray="5,2.4"/>
<line x1="312.00" y1="285.66" x2="312.00" y2="287.52" stroke="#000" stroke-width="1.0"/>
<line x1="310.20" y1="285.66" x2="313.80" y2="285.66" stroke="#000" stroke-width="1.0"/>
<line x1="310.20" y1="287.52" x2="313.80" y2="287.52" stroke="#000" stroke-width="1.0"/>
<path d="M310.40,285.59 L313.60,285.59 L312.00,287.99Z" fill="#000"/>
<line x1="359.00" y1="276.34" x2="359.00" y2="279.13" stroke="#000" stroke-width="1.0"/>
<line x1="357.20" y1="276.34" x2="360.80" y2="276.34" stroke="#000" stroke-width="1.0"/>
<line x1="357.20" y1="279.13" x2="360.80" y2="279.13" stroke="#000" stroke-width="1.0"/>
<path d="M357.40,276.73 L360.60,276.73 L359.00,279.13Z" fill="#000"/>
<line x1="406.00" y1="258.63" x2="406.00" y2="264.22" stroke="#000" stroke-width="1.0"/>
<line x1="404.20" y1="258.63" x2="407.80" y2="258.63" stroke="#000" stroke-width="1.0"/>
<line x1="404.20" y1="264.22" x2="407.80" y2="264.22" stroke="#000" stroke-width="1.0"/>
<path d="M404.40,260.42 L407.60,260.42 L406.00,262.82Z" fill="#000"/>
<line x1="453.00" y1="214.82" x2="453.00" y2="226.01" stroke="#000" stroke-width="1.0"/>
<line x1="451.20" y1="214.82" x2="454.80" y2="214.82" stroke="#000" stroke-width="1.0"/>
<line x1="451.20" y1="226.01" x2="454.80" y2="226.01" stroke="#000" stroke-width="1.0"/>
<path d="M451.40,219.42 L454.60,219.42 L453.00,221.82Z" fill="#000"/>
<text x="357.41" y="289.53" font-family="'Liberation Sans', sans-serif" font-weight="bold" font-size="8.38" textLength="3.17" lengthAdjust="spacingAndGlyphs" fill="#111">*</text>
<text x="402.91" y="284.68" font-family="'Liberation Sans', sans-serif" font-weight="bold" font-size="8.38" textLength="6.17" lengthAdjust="spacingAndGlyphs" fill="#111">**</text>
<text x="449.91" y="272.18" font-family="'Liberation Sans', sans-serif" font-weight="bold" font-size="8.38" textLength="6.17" lengthAdjust="spacingAndGlyphs" fill="#111">**</text>
<line x1="313.75" y1="208" x2="318.18" y2="208" stroke="#000" stroke-width="1.4"/>
<line x1="320.57" y1="208" x2="325.0" y2="208" stroke="#000" stroke-width="1.4"/>
<path d="M317.77,207.00 L320.98,207.00 L319.38,209.40Z" fill="#000"/>
<text x="329.60" y="210.13" font-family="'Liberation Sans', sans-serif" font-weight="normal" font-size="7.46" textLength="10.90" lengthAdjust="spacingAndGlyphs" fill="#111">NC</text>
<line x1="313.75" y1="221.25" x2="325.0" y2="221.25" stroke="#f06a6e" stroke-width="1.4"/>
<circle cx="319.38" cy="221.25" r="1.5" fill="#f06a6e"/>
<text x="329.98" y="223.38" font-family="'Liberation Sans', sans-serif" font-weight="normal" font-size="7.21" textLength="29.97" lengthAdjust="spacingAndGlyphs" fill="#111">shRNA-1</text>
<line x1="313.75" y1="234.5" x2="325.0" y2="234.5" stroke="#fbbd52" stroke-width="1.4"/>
<path d="M317.77,233.50 L320.98,233.50 L319.38,235.90Z" fill="#fbbd52"/>
<text x="329.98" y="236.63" font-family="'Liberation Sans', sans-serif" font-weight="normal" font-size="7.21" textLength="30.00" lengthAdjust="spacingAndGlyphs" fill="#111">shRNA-2</text>
<line x1="315.0" y1="361.90" x2="315.0" y2="456.25" stroke="#000" stroke-width="1.5"/>
<line x1="314.25" y1="455.5" x2="456.5" y2="455.5" stroke="#000" stroke-width="1.6"/>
<line x1="311.8" y1="455.50" x2="315.0" y2="455.50" stroke="#000" stroke-width="1.1"/>
<text x="301.16" y="457.64" font-family="'Liberation Sans', sans-serif" font-weight="bold" font-size="6.34" textLength="10.08" lengthAdjust="spacingAndGlyphs" fill="#000">0.0</text>
<line x1="311.8" y1="432.25" x2="315.0" y2="432.25" stroke="#000" stroke-width="1.1"/>
<text x="301.16" y="434.39" font-family="'Liberation Sans', sans-serif" font-weight="bold" font-size="6.34" textLength="9.97" lengthAdjust="spacingAndGlyphs" fill="#000">0.5</text>
<line x1="311.8" y1="409.00" x2="315.0" y2="409.00" stroke="#000" stroke-width="1.1"/>
<text x="301.01" y="411.14" font-family="'Liberation Sans', sans-serif" font-weight="bold" font-size="6.34" textLength="10.24" lengthAdjust="spacingAndGlyphs" fill="#000">1.0</text>
<line x1="311.8" y1="385.75" x2="315.0" y2="385.75" stroke="#000" stroke-width="1.1"/>
<text x="301.01" y="387.89" font-family="'Liberation Sans', sans-serif" font-weight="bold" font-size="6.43" textLength="10.12" lengthAdjust="spacingAndGlyphs" fill="#000">1.5</text>
<line x1="311.8" y1="362.50" x2="315.0" y2="362.50" stroke="#000" stroke-width="1.1"/>
<text x="301.20" y="364.64" font-family="'Liberation Sans', sans-serif" font-weight="bold" font-size="6.34" textLength="10.04" lengthAdjust="spacingAndGlyphs" fill="#000">2.0</text>
<line x1="315.00" y1="455.5" x2="315.00" y2="458.3" stroke="#000" stroke-width="1.1"/>
<text x="313.25" y="465.43" font-family="'Liberation Sans', sans-serif" font-weight="bold" font-size="6.76" textLength="3.51" lengthAdjust="spacingAndGlyphs" fill="#000">0</text>
<line x1="361.87" y1="455.5" x2="361.87" y2="458.3" stroke="#000" stroke-width="1.1"/>
<text x="358.03" y="465.50" font-family="'Liberation Sans', sans-serif" font-weight="bold" font-size="6.86" textLength="7.48" lengthAdjust="spacingAndGlyphs" fill="#000">24</text>
<line x1="408.73" y1="455.5" x2="408.73" y2="458.3" stroke="#000" stroke-width="1.1"/>
<text x="405.03" y="465.43" font-family="'Liberation Sans', sans-serif" font-weight="bold" font-size="6.76" textLength="7.52" lengthAdjust="spacingAndGlyphs" fill="#000">48</text>
<line x1="455.60" y1="455.5" x2="455.60" y2="458.3" stroke="#000" stroke-width="1.1"/>
<text x="451.72" y="465.50" font-family="'Liberation Sans', sans-serif" font-weight="bold" font-size="6.86" textLength="7.78" lengthAdjust="spacingAndGlyphs" fill="#000">72</text>
<text x="373.62" y="357.20" font-family="'Liberation Sans', sans-serif" font-weight="bold" font-size="8.18" textLength="23.46" lengthAdjust="spacingAndGlyphs" fill="#000">769-P</text>
<text x="372.65" y="476.67" font-family="'Liberation Sans', sans-serif" font-weight="bold" font-size="6.48" textLength="26.74" lengthAdjust="spacingAndGlyphs" fill="#000">Time(h)</text>
<text transform="translate(297.21,425.08) rotate(-90)" font-family="'Liberation Sans', sans-serif" font-weight="bold" font-size="6.88" textLength="32.62" lengthAdjust="spacingAndGlyphs" fill="#000">OD value</text>
<polyline points="315.00,442.01 361.87,438.30 408.73,431.79 455.60,420.16" fill="none" stroke="#fbbd52" stroke-width="1.7"/>
<path d="M313.40,441.01 L316.60,441.01 L315.00,443.41Z" fill="#fbbd52"/>
<line x1="361.87" y1="437.37" x2="361.87" y2="439.23" stroke="#fbbd52" stroke-width="1.0"/>
<line x1="360.07" y1="437.37" x2="363.67" y2="437.37" stroke="#fbbd52" stroke-width="1.0"/>
<line x1="360.07" y1="439.23" x2="363.67" y2="439.23" stroke="#fbbd52" stroke-width="1.0"/>
<path d="M360.27,437.30 L363.47,437.30 L361.87,439.69Z" fill="#fbbd52"/>
<line x1="408.73" y1="430.39" x2="408.73" y2="433.18" stroke="#fbbd52" stroke-width="1.0"/>
<line x1="406.93" y1="430.39" x2="410.53" y2="430.39" stroke="#fbbd52" stroke-width="1.0"/>
<line x1="406.93" y1="433.18" x2="410.53" y2="433.18" stroke="#fbbd52" stroke-width="1.0"/>
<path d="M407.13,430.79 L410.33,430.79 L408.73,433.19Z" fill="#fbbd52"/>
<line x1="455.60" y1="417.83" x2="455.60" y2="422.49" stroke="#fbbd52" stroke-width="1.0"/>
<line x1="453.80" y1="417.83" x2="457.40" y2="417.83" stroke="#fbbd52" stroke-width="1.0"/>
<line x1="453.80" y1="422.49" x2="457.40" y2="422.49" stroke="#fbbd52" stroke-width="1.0"/>
<path d="M454.00,419.16 L457.20,419.16 L455.60,421.56Z" fill="#fbbd52"/>
<polyline points="315.00,442.01 361.87,437.37 408.73,428.06 455.60,412.72" fill="none" stroke="#f06a6e" stroke-width="1.7"/>
<circle cx="315.00" cy="442.01" r="1.9" fill="#f06a6e"/>
<line x1="361.87" y1="436.44" x2="361.87" y2="438.30" stroke="#f06a6e" stroke-width="1.0"/>
<line x1="360.07" y1="436.44" x2="363.67" y2="436.44" stroke="#f06a6e" stroke-width="1.0"/>
<line x1="360.07" y1="438.30" x2="363.67" y2="438.30" stroke="#f06a6e" stroke-width="1.0"/>
<circle cx="361.87" cy="437.37" r="1.9" fill="#f06a6e"/>
<line x1="408.73" y1="425.74" x2="408.73" y2="430.39" stroke="#f06a6e" stroke-width="1.0"/>
<line x1="406.93" y1="425.74" x2="410.53" y2="425.74" stroke="#f06a6e" stroke-width="1.0"/>
<line x1="406.93" y1="430.39" x2="410.53" y2="430.39" stroke="#f06a6e" stroke-width="1.0"/>
<circle cx="408.73" cy="428.06" r="1.9" fill="#f06a6e"/>
<line x1="455.60" y1="408.07" x2="455.60" y2="417.37" stroke="#f06a6e" stroke-width="1.0"/>
<line x1="453.80" y1="408.07" x2="457.40" y2="408.07" stroke="#f06a6e" stroke-width="1.0"/>
<line x1="453.80" y1="417.37" x2="457.40" y2="417.37" stroke="#f06a6e" stroke-width="1.0"/>
<circle cx="455.60" cy="412.72" r="1.9" fill="#f06a6e"/>
<polyline points="315.00,441.08 361.87,434.57 408.73,420.16 455.60,388.54" fill="none" stroke="#000" stroke-width="1.7"/>
<line x1="315.00" y1="440.15" x2="315.00" y2="442.01" stroke="#000" stroke-width="1.0"/>
<line x1="313.20" y1="440.15" x2="316.80" y2="440.15" stroke="#000" stroke-width="1.0"/>
<line x1="313.20" y1="442.01" x2="316.80" y2="442.01" stroke="#000" stroke-width="1.0"/>
<path d="M313.40,440.08 L316.60,440.08 L315.00,442.48Z" fill="#000"/>
<line x1="361.87" y1="433.18" x2="361.87" y2="435.97" stroke="#000" stroke-width="1.0"/>
<line x1="360.07" y1="433.18" x2="363.67" y2="433.18" stroke="#000" stroke-width="1.0"/>
<line x1="360.07" y1="435.97" x2="363.67" y2="435.97" stroke="#000" stroke-width="1.0"/>
<path d="M360.27,433.57 L363.47,433.57 L361.87,435.97Z" fill="#000"/>
<line x1="408.73" y1="415.98" x2="408.73" y2="424.35" stroke="#000" stroke-width="1.0"/>
<line x1="406.93" y1="415.98" x2="410.53" y2="415.98" stroke="#000" stroke-width="1.0"/>
<line x1="406.93" y1="424.35" x2="410.53" y2="424.35" stroke="#000" stroke-width="1.0"/>
<path d="M407.13,419.16 L410.33,419.16 L408.73,421.56Z" fill="#000"/>
<line x1="455.60" y1="382.50" x2="455.60" y2="394.58" stroke="#000" stroke-width="1.0"/>
<line x1="453.80" y1="382.50" x2="457.40" y2="382.50" stroke="#000" stroke-width="1.0"/>
<line x1="453.80" y1="394.58" x2="457.40" y2="394.58" stroke="#000" stroke-width="1.0"/>
<path d="M454.00,387.54 L457.20,387.54 L455.60,389.94Z" fill="#000"/>
<text x="405.64" y="441.93" font-family="'Liberation Sans', sans-serif" font-weight="bold" font-size="8.38" textLength="6.17" lengthAdjust="spacingAndGlyphs" fill="#111">**</text>
<text x="452.51" y="431.03" font-family="'Liberation Sans', sans-serif" font-weight="bold" font-size="8.38" textLength="6.17" lengthAdjust="spacingAndGlyphs" fill="#111">**</text>
<line x1="317.0" y1="362.5" x2="327.5" y2="362.5" stroke="#000" stroke-width="1.4"/>
<path d="M320.65,361.50 L323.85,361.50 L322.25,363.90Z" fill="#000"/>
<text x="332.85" y="364.63" font-family="'Liberation Sans', sans-serif" font-weight="normal" font-size="7.46" textLength="10.90" lengthAdjust="spacingAndGlyphs" fill="#111">NC</text>
<line x1="317.0" y1="375.75" x2="327.5" y2="375.75" stroke="#f06a6e" stroke-width="1.4"/>
<circle cx="322.25" cy="375.75" r="1.5" fill="#f06a6e"/>
<text x="333.23" y="377.88" font-family="'Liberation Sans', sans-serif" font-weight="normal" font-size="7.21" textLength="29.97" lengthAdjust="spacingAndGlyphs" fill="#111">shRNA-1</text>
<line x1="317.0" y1="389.25" x2="327.5" y2="389.25" stroke="#fbbd52" stroke-width="1.4"/>
<path d="M320.65,388.25 L323.85,388.25 L322.25,390.65Z" fill="#fbbd52"/>
<text x="333.23" y="391.38" font-family="'Liberation Sans', sans-serif" font-weight="normal" font-size="7.21" textLength="30.00" lengthAdjust="spacingAndGlyphs" fill="#111">shRNA-2</text>
<defs><filter id="sat" x="0" y="0" width="100%" height="100%"><feColorMatrix type="saturate" values="0.78"/></filter></defs>
<clipPath id="cp0"><rect x="498.9" y="41.25" width="56.85" height="54.00"/></clipPath>
<linearGradient id="dg0" x1="0" y1="0" x2="0.25" y2="1"><stop offset="0" stop-color="#8a80bc"/><stop offset="0.5" stop-color="#aca6d0"/><stop offset="1" stop-color="#e4e2f0"/></linearGradient>
<radialGradient id="dr0" cx="0.5" cy="0.5" r="0.5"><stop offset="0.8" stop-color="#7a6fb0" stop-opacity="0"/><stop offset="0.96" stop-color="#7a6fb0" stop-opacity="0.55"/><stop offset="1" stop-color="#6a5fa4" stop-opacity="0.8"/></radialGradient>
<g clip-path="url(#cp0)" filter="url(#sat)">
<rect x="498.9" y="41.25" width="56.85" height="54.00" fill="#bdcecf"/>
<circle cx="528.90" cy="68.40" r="27.0" fill="#bfcad2" stroke="#8a8a9c" stroke-width="1.1"/>
<circle cx="528.90" cy="68.40" r="25.3" fill="none" stroke="#f0f0f4" stroke-width="1.0" opacity="0.75" stroke-dasharray="20,9,14,12"/>
<circle cx="528.90" cy="68.40" r="23.8" fill="none" stroke="#9a98aa" stroke-width="0.6" opacity="0.6"/>
<path d="M505.95,80.55 A24.5,24.5 0 0 0 545.10,87.84" fill="none" stroke="#f4f4f8" stroke-width="2.2" opacity="0.55" filter="url(#bl2)"/>
<circle cx="532.60" cy="65.90" r="20.2" fill="url(#dg0)"/>
<circle cx="532.60" cy="65.90" r="20.2" fill="url(#dr0)"/>
<g fill="#54369a" filter="url(#bl3)"><circle cx="518.1" cy="60.2" r="0.90" fill-opacity="0.65"/><circle cx="539.6" cy="83.5" r="0.90" fill-opacity="0.73"/><circle cx="536.1" cy="56.9" r="0.35" fill-opacity="0.72"/><circle cx="518.3" cy="70.3" r="0.45" fill-opacity="0.73"/><circle cx="517.2" cy="54.7" r="0.90" fill-opacity="0.60"/><circle cx="546.3" cy="66.3" r="0.40" fill-opacity="0.66"/><circle cx="546.1" cy="65.7" r="0.40" fill-opacity="0.77"/><circle cx="533.5" cy="57.0" r="0.75" fill-opacity="0.50"/><circle cx="536.6" cy="83.1" r="0.35" fill-opacity="0.66"/><circle cx="535.7" cy="48.9" r="0.55" fill-opacity="0.60"/><circle cx="546.5" cy="67.2" r="0.75" fill-opacity="0.79"/><circle cx="535.1" cy="57.8" r="0.45" fill-opacity="0.76"/><circle cx="520.6" cy="65.2" r="0.45" fill-opacity="0.64"/><circle cx="520.9" cy="75.0" r="0.35" fill-opacity="0.57"/><circle cx="539.1" cy="47.4" r="0.55" fill-opacity="0.90"/><circle cx="534.9" cy="71.5" r="0.40" fill-opacity="0.47"/><circle cx="522.2" cy="69.9" r="0.35" fill-opacity="0.80"/><circle cx="524.3" cy="61.1" r="0.50" fill-opacity="0.46"/><circle cx="522.0" cy="55.7" r="0.45" fill-opacity="0.88"/><circle cx="518.4" cy="58.7" r="0.75" fill-opacity="0.53"/><circle cx="542.1" cy="59.8" r="0.50" fill-opacity="0.78"/><circle cx="524.7" cy="57.6" r="0.50" fill-opacity="0.76"/><circle cx="517.8" cy="67.5" r="0.40" fill-opacity="0.64"/><circle cx="542.3" cy="68.3" r="0.55" fill-opacity="0.56"/><circle cx="531.8" cy="83.7" r="0.90" fill-opacity="0.58"/><circle cx="530.4" cy="54.4" r="0.40" fill-opacity="0.51"/><circle cx="523.6" cy="52.9" r="0.40" fill-opacity="0.58"/><circle cx="524.6" cy="74.5" r="0.45" fill-opacity="0.49"/><circle cx="522.2" cy="69.3" r="0.65" fill-opacity="0.75"/><circle cx="517.3" cy="56.9" r="0.45" fill-opacity="0.72"/><circle cx="513.5" cy="68.9" r="0.65" fill-opacity="0.77"/><circle cx="552.0" cy="68.5" r="0.40" fill-opacity="0.67"/><circle cx="525.0" cy="82.3" r="0.40" fill-opacity="0.65"/><circle cx="546.7" cy="69.9" r="0.45" fill-opacity="0.81"/><circle cx="521.1" cy="81.4" r="0.40" fill-opacity="0.84"/><circle cx="536.4" cy="51.2" r="0.90" fill-opacity="0.71"/><circle cx="519.9" cy="77.5" r="0.40" fill-opacity="0.49"/><circle cx="549.9" cy="65.2" r="0.75" fill-opacity="0.78"/><circle cx="531.2" cy="51.1" r="0.90" fill-opacity="0.65"/><circle cx="548.8" cy="75.3" r="0.35" fill-opacity="0.59"/><circle cx="542.0" cy="67.2" r="0.40" fill-opacity="0.67"/><circle cx="547.6" cy="57.7" r="0.55" fill-opacity="0.85"/><circle cx="541.7" cy="77.4" r="0.45" fill-opacity="0.79"/><circle cx="545.6" cy="59.8" r="0.90" fill-opacity="0.85"/><circle cx="525.5" cy="53.7" r="0.50" fill-opacity="0.74"/><circle cx="533.1" cy="47.4" r="0.50" fill-opacity="0.85"/><circle cx="519.7" cy="58.5" r="0.65" fill-opacity="0.54"/><circle cx="526.2" cy="74.6" r="0.35" fill-opacity="0.77"/><circle cx="521.9" cy="55.1" r="0.90" fill-opacity="0.75"/><circle cx="542.4" cy="50.9" r="0.90" fill-opacity="0.59"/><circle cx="529.3" cy="84.3" r="0.55" fill-opacity="0.71"/><circle cx="536.2" cy="52.5" r="0.35" fill-opacity="0.74"/><circle cx="538.2" cy="79.9" r="0.55" fill-opacity="0.56"/><circle cx="543.1" cy="69.1" r="0.40" fill-opacity="0.65"/><circle cx="522.9" cy="51.6" r="0.65" fill-opacity="0.88"/><circle cx="544.4" cy="66.7" r="0.90" fill-opacity="0.69"/><circle cx="533.7" cy="73.1" r="0.45" fill-opacity="0.63"/><circle cx="547.9" cy="55.6" r="0.40" fill-opacity="0.63"/><circle cx="541.8" cy="58.0" r="0.35" fill-opacity="0.62"/><circle cx="544.7" cy="54.4" r="0.65" fill-opacity="0.66"/><circle cx="537.5" cy="82.6" r="0.40" fill-opacity="0.55"/><circle cx="551.6" cy="63.6" r="0.55" fill-opacity="0.69"/><circle cx="524.7" cy="82.6" r="0.35" fill-opacity="0.61"/><circle cx="523.9" cy="69.3" r="0.75" fill-opacity="0.80"/><circle cx="548.3" cy="68.7" r="0.40" fill-opacity="0.64"/><circle cx="525.5" cy="64.4" r="0.45" fill-opacity="0.66"/><circle cx="548.7" cy="54.3" r="0.90" fill-opacity="0.88"/><circle cx="547.8" cy="60.9" r="0.40" fill-opacity="0.79"/><circle cx="518.2" cy="60.3" r="0.45" fill-opacity="0.69"/><circle cx="515.1" cy="59.0" r="0.55" fill-opacity="0.75"/><circle cx="546.0" cy="51.7" r="0.50" fill-opacity="0.59"/><circle cx="522.0" cy="62.8" r="0.55" fill-opacity="0.71"/><circle cx="520.7" cy="63.2" r="0.35" fill-opacity="0.72"/><circle cx="539.2" cy="64.6" r="0.75" fill-opacity="0.69"/><circle cx="543.1" cy="61.0" r="0.90" fill-opacity="0.64"/><circle cx="549.9" cy="56.9" r="0.55" fill-opacity="0.56"/><circle cx="524.0" cy="79.4" r="0.90" fill-opacity="0.69"/><circle cx="528.7" cy="53.3" r="0.35" fill-opacity="0.47"/><circle cx="543.9" cy="66.7" r="0.55" fill-opacity="0.59"/><circle cx="522.0" cy="56.0" r="0.40" fill-opacity="0.67"/><circle cx="542.7" cy="52.4" r="0.55" fill-opacity="0.77"/><circle cx="545.5" cy="53.6" r="0.35" fill-opacity="0.62"/><circle cx="517.7" cy="63.1" r="0.45" fill-opacity="0.69"/><circle cx="514.1" cy="61.9" r="0.50" fill-opacity="0.69"/><circle cx="518.2" cy="53.7" r="0.45" fill-opacity="0.55"/><circle cx="539.3" cy="49.1" r="0.45" fill-opacity="0.59"/><circle cx="545.0" cy="59.4" r="0.50" fill-opacity="0.80"/><circle cx="542.5" cy="72.8" r="0.45" fill-opacity="0.78"/><circle cx="543.4" cy="73.5" r="0.75" fill-opacity="0.69"/><circle cx="538.0" cy="82.9" r="0.35" fill-opacity="0.49"/><circle cx="522.1" cy="78.9" r="0.65" fill-opacity="0.50"/><circle cx="533.4" cy="49.8" r="0.50" fill-opacity="0.81"/><circle cx="548.3" cy="68.3" r="0.90" fill-opacity="0.52"/><circle cx="536.0" cy="77.3" r="0.55" fill-opacity="0.87"/><circle cx="541.6" cy="69.6" r="0.90" fill-opacity="0.48"/><circle cx="517.3" cy="54.1" r="0.40" fill-opacity="0.68"/><circle cx="537.0" cy="62.4" r="0.75" fill-opacity="0.71"/><circle cx="522.2" cy="59.8" r="0.65" fill-opacity="0.81"/><circle cx="543.8" cy="58.9" r="0.45" fill-opacity="0.82"/><circle cx="544.6" cy="56.8" r="0.65" fill-opacity="0.80"/><circle cx="517.4" cy="76.1" r="0.40" fill-opacity="0.81"/><circle cx="543.7" cy="74.1" r="0.35" fill-opacity="0.55"/><circle cx="522.8" cy="49.1" r="0.65" fill-opacity="0.55"/><circle cx="516.4" cy="66.1" r="0.50" fill-opacity="0.77"/><circle cx="550.7" cy="63.6" r="0.35" fill-opacity="0.50"/><circle cx="533.7" cy="49.8" r="0.75" fill-opacity="0.45"/><circle cx="516.1" cy="60.6" r="0.35" fill-opacity="0.62"/><circle cx="518.0" cy="78.7" r="0.90" fill-opacity="0.69"/><circle cx="516.3" cy="67.6" r="0.55" fill-opacity="0.70"/><circle cx="529.8" cy="52.6" r="0.55" fill-opacity="0.46"/><circle cx="516.9" cy="56.5" r="0.45" fill-opacity="0.63"/><circle cx="519.5" cy="58.5" r="0.65" fill-opacity="0.48"/><circle cx="529.3" cy="46.8" r="0.90" fill-opacity="0.51"/><circle cx="533.2" cy="85.4" r="0.35" fill-opacity="0.73"/><circle cx="517.9" cy="74.1" r="0.45" fill-opacity="0.88"/><circle cx="536.7" cy="47.2" r="0.65" fill-opacity="0.57"/><circle cx="529.9" cy="49.0" r="0.50" fill-opacity="0.73"/><circle cx="549.6" cy="56.0" r="0.35" fill-opacity="0.73"/><circle cx="548.1" cy="56.4" r="0.45" fill-opacity="0.70"/><circle cx="525.7" cy="76.2" r="0.40" fill-opacity="0.81"/><circle cx="539.4" cy="51.9" r="0.50" fill-opacity="0.65"/><circle cx="538.4" cy="56.2" r="0.65" fill-opacity="0.58"/><circle cx="541.0" cy="49.7" r="0.45" fill-opacity="0.64"/><circle cx="544.6" cy="74.3" r="0.40" fill-opacity="0.69"/><circle cx="518.6" cy="59.5" r="0.90" fill-opacity="0.58"/><circle cx="526.4" cy="49.0" r="0.55" fill-opacity="0.85"/><circle cx="525.7" cy="55.4" r="0.65" fill-opacity="0.61"/><circle cx="530.0" cy="55.8" r="0.55" fill-opacity="0.65"/><circle cx="546.4" cy="59.9" r="0.50" fill-opacity="0.49"/><circle cx="551.1" cy="68.7" r="0.75" fill-opacity="0.71"/><circle cx="531.3" cy="47.5" r="0.65" fill-opacity="0.81"/><circle cx="541.1" cy="51.8" r="0.45" fill-opacity="0.53"/><circle cx="546.0" cy="53.5" r="0.55" fill-opacity="0.82"/><circle cx="546.2" cy="67.8" r="0.75" fill-opacity="0.48"/><circle cx="536.5" cy="49.9" r="0.40" fill-opacity="0.60"/><circle cx="528.8" cy="60.5" r="0.40" fill-opacity="0.79"/><circle cx="514.5" cy="63.4" r="0.90" fill-opacity="0.63"/><circle cx="546.6" cy="63.1" r="0.45" fill-opacity="0.67"/><circle cx="529.6" cy="49.7" r="0.35" fill-opacity="0.63"/><circle cx="523.3" cy="49.7" r="0.35" fill-opacity="0.81"/><circle cx="546.9" cy="53.8" r="0.35" fill-opacity="0.69"/><circle cx="538.4" cy="49.0" r="0.75" fill-opacity="0.87"/><circle cx="525.6" cy="50.1" r="0.65" fill-opacity="0.54"/><circle cx="528.6" cy="80.7" r="0.35" fill-opacity="0.66"/><circle cx="549.0" cy="55.8" r="0.90" fill-opacity="0.46"/><circle cx="537.5" cy="50.8" r="0.65" fill-opacity="0.50"/><circle cx="517.8" cy="55.8" r="0.50" fill-opacity="0.65"/><circle cx="516.9" cy="76.9" r="0.55" fill-opacity="0.73"/><circle cx="514.1" cy="59.8" r="0.55" fill-opacity="0.67"/><circle cx="547.1" cy="61.8" r="0.40" fill-opacity="0.67"/><circle cx="544.6" cy="69.8" r="0.45" fill-opacity="0.81"/><circle cx="518.0" cy="63.3" r="0.55" fill-opacity="0.80"/><circle cx="540.1" cy="62.0" r="0.35" fill-opacity="0.84"/><circle cx="543.4" cy="55.1" r="0.75" fill-opacity="0.52"/><circle cx="531.8" cy="80.0" r="0.45" fill-opacity="0.74"/><circle cx="534.0" cy="54.8" r="0.35" fill-opacity="0.54"/><circle cx="521.7" cy="56.3" r="0.40" fill-opacity="0.85"/><circle cx="548.0" cy="74.7" r="0.55" fill-opacity="0.46"/><circle cx="536.8" cy="77.1" r="0.90" fill-opacity="0.54"/><circle cx="516.3" cy="63.3" r="0.45" fill-opacity="0.88"/><circle cx="549.2" cy="65.6" r="0.40" fill-opacity="0.61"/><circle cx="548.0" cy="62.7" r="0.40" fill-opacity="0.74"/><circle cx="528.8" cy="69.6" r="0.90" fill-opacity="0.56"/><circle cx="538.6" cy="47.1" r="0.50" fill-opacity="0.86"/><circle cx="524.8" cy="57.8" r="0.55" fill-opacity="0.88"/><circle cx="515.5" cy="59.7" r="0.40" fill-opacity="0.57"/><circle cx="531.2" cy="53.8" r="0.65" fill-opacity="0.59"/><circle cx="519.4" cy="68.4" r="0.65" fill-opacity="0.65"/><circle cx="544.5" cy="74.8" r="0.45" fill-opacity="0.75"/><circle cx="516.9" cy="55.6" r="0.40" fill-opacity="0.50"/><circle cx="539.7" cy="65.3" r="0.75" fill-opacity="0.63"/><circle cx="540.5" cy="61.6" r="0.75" fill-opacity="0.87"/><circle cx="515.0" cy="67.8" r="0.75" fill-opacity="0.73"/><circle cx="519.0" cy="54.2" r="0.65" fill-opacity="0.89"/><circle cx="522.7" cy="50.3" r="0.35" fill-opacity="0.57"/><circle cx="543.6" cy="74.1" r="0.55" fill-opacity="0.79"/><circle cx="514.3" cy="60.2" r="0.65" fill-opacity="0.73"/><circle cx="518.1" cy="58.6" r="0.50" fill-opacity="0.89"/><circle cx="529.1" cy="50.1" r="0.50" fill-opacity="0.71"/><circle cx="529.0" cy="60.3" r="0.40" fill-opacity="0.51"/><circle cx="539.3" cy="59.0" r="0.55" fill-opacity="0.66"/><circle cx="543.0" cy="64.2" r="0.45" fill-opacity="0.56"/><circle cx="516.6" cy="61.1" r="0.40" fill-opacity="0.70"/><circle cx="543.8" cy="58.7" r="0.65" fill-opacity="0.72"/><circle cx="537.4" cy="56.5" r="0.55" fill-opacity="0.76"/><circle cx="533.4" cy="51.3" r="0.65" fill-opacity="0.82"/><circle cx="521.2" cy="62.4" r="0.40" fill-opacity="0.65"/><circle cx="535.7" cy="51.1" r="0.45" fill-opacity="0.59"/><circle cx="531.2" cy="48.4" r="0.75" fill-opacity="0.73"/><circle cx="534.0" cy="48.6" r="0.45" fill-opacity="0.54"/><circle cx="520.5" cy="60.4" r="0.65" fill-opacity="0.47"/><circle cx="529.3" cy="47.8" r="0.45" fill-opacity="0.63"/><circle cx="549.0" cy="55.9" r="0.75" fill-opacity="0.79"/><circle cx="548.5" cy="65.4" r="0.75" fill-opacity="0.82"/><circle cx="540.4" cy="72.8" r="0.65" fill-opacity="0.69"/><circle cx="545.3" cy="57.2" r="0.65" fill-opacity="0.86"/><circle cx="522.4" cy="56.7" r="0.75" fill-opacity="0.78"/><circle cx="532.8" cy="48.9" r="0.55" fill-opacity="0.85"/><circle cx="533.3" cy="84.9" r="0.50" fill-opacity="0.68"/><circle cx="546.8" cy="70.7" r="0.50" fill-opacity="0.70"/><circle cx="548.8" cy="59.5" r="0.40" fill-opacity="0.90"/><circle cx="545.1" cy="52.9" r="0.65" fill-opacity="0.84"/><circle cx="537.8" cy="51.5" r="0.50" fill-opacity="0.74"/><circle cx="543.7" cy="77.8" r="0.90" fill-opacity="0.45"/><circle cx="539.4" cy="60.6" r="0.75" fill-opacity="0.51"/><circle cx="534.4" cy="55.0" r="0.90" fill-opacity="0.85"/><circle cx="540.4" cy="56.4" r="0.35" fill-opacity="0.54"/><circle cx="541.1" cy="57.9" r="0.50" fill-opacity="0.69"/><circle cx="544.8" cy="61.9" r="0.35" fill-opacity="0.74"/><circle cx="538.3" cy="53.3" r="0.55" fill-opacity="0.84"/><circle cx="544.4" cy="79.3" r="0.90" fill-opacity="0.64"/><circle cx="540.1" cy="57.0" r="0.40" fill-opacity="0.77"/><circle cx="537.0" cy="49.0" r="0.65" fill-opacity="0.81"/><circle cx="548.2" cy="53.9" r="0.45" fill-opacity="0.75"/><circle cx="524.0" cy="55.5" r="0.40" fill-opacity="0.66"/><circle cx="540.5" cy="61.4" r="0.40" fill-opacity="0.69"/><circle cx="526.3" cy="61.3" r="0.55" fill-opacity="0.69"/><circle cx="518.7" cy="59.5" r="0.45" fill-opacity="0.58"/><circle cx="539.0" cy="81.1" r="0.35" fill-opacity="0.73"/><circle cx="516.0" cy="56.1" r="0.35" fill-opacity="0.87"/><circle cx="539.5" cy="80.4" r="0.65" fill-opacity="0.59"/><circle cx="548.2" cy="69.1" r="0.55" fill-opacity="0.68"/><circle cx="525.0" cy="48.7" r="0.45" fill-opacity="0.72"/><circle cx="515.8" cy="60.7" r="0.55" fill-opacity="0.80"/><circle cx="521.6" cy="59.8" r="0.90" fill-opacity="0.57"/><circle cx="544.7" cy="63.7" r="0.35" fill-opacity="0.71"/><circle cx="526.7" cy="66.0" r="0.75" fill-opacity="0.68"/><circle cx="543.8" cy="51.8" r="0.35" fill-opacity="0.48"/><circle cx="515.1" cy="57.8" r="0.50" fill-opacity="0.73"/><circle cx="525.2" cy="69.6" r="0.65" fill-opacity="0.82"/><circle cx="536.1" cy="48.2" r="0.90" fill-opacity="0.49"/><circle cx="528.4" cy="55.3" r="0.90" fill-opacity="0.48"/><circle cx="550.8" cy="64.3" r="0.45" fill-opacity="0.79"/><circle cx="548.8" cy="64.4" r="0.35" fill-opacity="0.56"/><circle cx="539.8" cy="65.7" r="0.50" fill-opacity="0.58"/><circle cx="539.0" cy="57.7" r="0.75" fill-opacity="0.66"/><circle cx="517.5" cy="53.3" r="0.35" fill-opacity="0.52"/><circle cx="549.4" cy="65.3" r="0.65" fill-opacity="0.71"/><circle cx="547.0" cy="53.1" r="0.45" fill-opacity="0.66"/><circle cx="540.9" cy="53.4" r="0.75" fill-opacity="0.62"/><circle cx="525.6" cy="69.8" r="0.50" fill-opacity="0.53"/><circle cx="520.4" cy="68.4" r="0.55" fill-opacity="0.66"/><circle cx="521.4" cy="54.5" r="0.45" fill-opacity="0.84"/><circle cx="545.9" cy="59.0" r="0.50" fill-opacity="0.57"/><circle cx="540.9" cy="77.9" r="0.65" fill-opacity="0.51"/><circle cx="539.5" cy="55.0" r="0.40" fill-opacity="0.46"/><circle cx="523.9" cy="82.9" r="0.35" fill-opacity="0.59"/><circle cx="515.6" cy="67.1" r="0.50" fill-opacity="0.52"/><circle cx="549.2" cy="69.3" r="0.55" fill-opacity="0.63"/><circle cx="527.1" cy="51.0" r="0.55" fill-opacity="0.59"/><circle cx="521.4" cy="76.8" r="0.55" fill-opacity="0.69"/><circle cx="543.5" cy="79.1" r="0.90" fill-opacity="0.70"/><circle cx="551.0" cy="63.1" r="0.55" fill-opacity="0.75"/><circle cx="537.9" cy="58.9" r="0.65" fill-opacity="0.75"/><circle cx="545.8" cy="51.5" r="0.50" fill-opacity="0.80"/><circle cx="536.6" cy="53.3" r="0.40" fill-opacity="0.63"/><circle cx="517.7" cy="68.2" r="0.45" fill-opacity="0.61"/><circle cx="514.9" cy="63.6" r="0.65" fill-opacity="0.86"/><circle cx="514.2" cy="68.4" r="0.55" fill-opacity="0.77"/><circle cx="527.5" cy="50.1" r="0.35" fill-opacity="0.86"/><circle cx="541.4" cy="60.3" r="0.75" fill-opacity="0.57"/><circle cx="541.0" cy="53.8" r="0.55" fill-opacity="0.66"/><circle cx="543.8" cy="56.8" r="0.55" fill-opacity="0.57"/><circle cx="549.0" cy="61.1" r="0.65" fill-opacity="0.46"/><circle cx="524.9" cy="63.8" r="0.75" fill-opacity="0.48"/><circle cx="524.0" cy="67.9" r="0.90" fill-opacity="0.62"/><circle cx="527.2" cy="54.4" r="0.50" fill-opacity="0.68"/><circle cx="551.8" cy="63.5" r="0.35" fill-opacity="0.56"/><circle cx="523.2" cy="52.9" r="0.40" fill-opacity="0.73"/><circle cx="540.7" cy="51.4" r="0.65" fill-opacity="0.57"/><circle cx="542.6" cy="67.1" r="0.50" fill-opacity="0.76"/><circle cx="549.8" cy="61.9" r="0.45" fill-opacity="0.52"/><circle cx="515.5" cy="66.9" r="0.55" fill-opacity="0.62"/><circle cx="532.5" cy="52.3" r="0.90" fill-opacity="0.56"/><circle cx="539.7" cy="71.2" r="0.40" fill-opacity="0.83"/><circle cx="525.6" cy="51.3" r="0.35" fill-opacity="0.52"/><circle cx="545.6" cy="52.1" r="0.35" fill-opacity="0.61"/><circle cx="531.6" cy="50.9" r="0.75" fill-opacity="0.56"/><circle cx="521.0" cy="78.7" r="0.45" fill-opacity="0.60"/><circle cx="542.6" cy="50.7" r="0.45" fill-opacity="0.71"/><circle cx="528.5" cy="51.2" r="0.55" fill-opacity="0.81"/><circle cx="525.0" cy="73.3" r="0.50" fill-opacity="0.74"/><circle cx="513.3" cy="69.4" r="0.45" fill-opacity="0.57"/><circle cx="532.4" cy="79.3" r="0.75" fill-opacity="0.87"/><circle cx="551.4" cy="71.8" r="0.40" fill-opacity="0.84"/><circle cx="517.3" cy="76.4" r="0.90" fill-opacity="0.53"/><circle cx="524.4" cy="69.2" r="0.55" fill-opacity="0.55"/><circle cx="525.0" cy="51.0" r="0.50" fill-opacity="0.70"/><circle cx="541.9" cy="61.8" r="0.55" fill-opacity="0.85"/><circle cx="541.5" cy="78.5" r="0.55" fill-opacity="0.70"/><circle cx="524.8" cy="58.1" r="0.55" fill-opacity="0.59"/><circle cx="535.4" cy="74.8" r="0.35" fill-opacity="0.52"/><circle cx="532.9" cy="61.4" r="0.40" fill-opacity="0.45"/><circle cx="541.7" cy="76.9" r="0.75" fill-opacity="0.67"/><circle cx="537.9" cy="51.7" r="0.75" fill-opacity="0.70"/><circle cx="523.3" cy="57.5" r="0.55" fill-opacity="0.57"/><circle cx="545.4" cy="51.3" r="0.90" fill-opacity="0.71"/><circle cx="551.2" cy="71.6" r="0.45" fill-opacity="0.69"/><circle cx="513.3" cy="66.5" r="0.55" fill-opacity="0.81"/><circle cx="534.7" cy="47.3" r="0.40" fill-opacity="0.87"/><circle cx="541.1" cy="52.5" r="0.75" fill-opacity="0.56"/><circle cx="551.6" cy="68.7" r="0.45" fill-opacity="0.55"/><circle cx="522.4" cy="76.8" r="0.65" fill-opacity="0.73"/><circle cx="518.1" cy="56.2" r="0.55" fill-opacity="0.60"/><circle cx="537.0" cy="83.5" r="0.55" fill-opacity="0.76"/><circle cx="548.3" cy="61.0" r="0.50" fill-opacity="0.46"/><circle cx="543.3" cy="70.7" r="0.65" fill-opacity="0.64"/><circle cx="549.3" cy="60.2" r="0.65" fill-opacity="0.85"/><circle cx="514.5" cy="63.0" r="0.35" fill-opacity="0.52"/><circle cx="520.1" cy="77.9" r="0.50" fill-opacity="0.73"/><circle cx="519.2" cy="71.2" r="0.75" fill-opacity="0.68"/><circle cx="545.2" cy="76.9" r="0.90" fill-opacity="0.65"/><circle cx="540.8" cy="52.4" r="0.50" fill-opacity="0.62"/><circle cx="548.5" cy="70.3" r="0.90" fill-opacity="0.65"/><circle cx="518.6" cy="56.4" r="0.65" fill-opacity="0.52"/><circle cx="548.4" cy="65.2" r="0.65" fill-opacity="0.53"/><circle cx="517.7" cy="60.9" r="0.35" fill-opacity="0.84"/><circle cx="543.2" cy="65.2" r="0.90" fill-opacity="0.50"/><circle cx="543.2" cy="60.4" r="0.45" fill-opacity="0.82"/><circle cx="514.2" cy="64.6" r="0.55" fill-opacity="0.48"/><circle cx="528.1" cy="47.5" r="0.55" fill-opacity="0.68"/><circle cx="517.3" cy="67.0" r="0.50" fill-opacity="0.48"/><circle cx="536.4" cy="49.8" r="0.90" fill-opacity="0.84"/><circle cx="523.6" cy="66.1" r="0.35" fill-opacity="0.80"/><circle cx="546.3" cy="56.7" r="0.45" fill-opacity="0.82"/><circle cx="526.7" cy="76.1" r="0.50" fill-opacity="0.83"/><circle cx="518.6" cy="53.3" r="0.90" fill-opacity="0.48"/><circle cx="537.9" cy="84.9" r="0.50" fill-opacity="0.70"/><circle cx="518.3" cy="79.6" r="0.65" fill-opacity="0.83"/><circle cx="522.0" cy="49.6" r="0.50" fill-opacity="0.76"/><circle cx="540.8" cy="74.4" r="0.90" fill-opacity="0.47"/><circle cx="535.0" cy="74.4" r="0.55" fill-opacity="0.80"/><circle cx="521.4" cy="56.3" r="0.55" fill-opacity="0.66"/><circle cx="547.7" cy="60.1" r="0.65" fill-opacity="0.68"/><circle cx="517.4" cy="66.6" r="0.40" fill-opacity="0.58"/><circle cx="528.3" cy="84.4" r="0.90" fill-opacity="0.55"/><circle cx="524.6" cy="56.2" r="0.65" fill-opacity="0.64"/><circle cx="520.0" cy="70.8" r="0.55" fill-opacity="0.75"/><circle cx="528.5" cy="62.5" r="0.35" fill-opacity="0.64"/><circle cx="541.1" cy="59.3" r="0.55" fill-opacity="0.62"/><circle cx="543.4" cy="74.0" r="0.40" fill-opacity="0.70"/><circle cx="540.5" cy="59.9" r="0.40" fill-opacity="0.81"/><circle cx="538.2" cy="67.0" r="0.65" fill-opacity="0.90"/><circle cx="545.6" cy="52.6" r="0.45" fill-opacity="0.66"/><circle cx="518.4" cy="69.1" r="0.65" fill-opacity="0.67"/><circle cx="534.1" cy="59.9" r="0.75" fill-opacity="0.82"/><circle cx="527.3" cy="49.3" r="0.35" fill-opacity="0.48"/><circle cx="519.8" cy="75.0" r="0.50" fill-opacity="0.68"/><circle cx="515.8" cy="66.2" r="0.45" fill-opacity="0.68"/><circle cx="535.3" cy="56.5" r="0.35" fill-opacity="0.53"/><circle cx="520.2" cy="53.8" r="0.55" fill-opacity="0.75"/><circle cx="513.3" cy="69.1" r="0.40" fill-opacity="0.64"/><circle cx="546.4" cy="53.3" r="0.40" fill-opacity="0.61"/><circle cx="516.5" cy="62.5" r="0.40" fill-opacity="0.80"/><circle cx="542.3" cy="65.8" r="0.40" fill-opacity="0.48"/><circle cx="525.9" cy="54.9" r="0.55" fill-opacity="0.58"/><circle cx="516.5" cy="70.1" r="0.40" fill-opacity="0.81"/><circle cx="542.6" cy="78.6" r="0.45" fill-opacity="0.63"/><circle cx="543.8" cy="53.0" r="0.40" fill-opacity="0.64"/><circle cx="535.5" cy="70.1" r="0.75" fill-opacity="0.52"/><circle cx="548.7" cy="68.8" r="0.40" fill-opacity="0.67"/><circle cx="514.0" cy="60.7" r="0.35" fill-opacity="0.63"/><circle cx="517.3" cy="74.4" r="0.50" fill-opacity="0.74"/><circle cx="550.6" cy="59.6" r="0.40" fill-opacity="0.63"/><circle cx="531.7" cy="52.1" r="0.55" fill-opacity="0.55"/><circle cx="535.0" cy="56.8" r="0.75" fill-opacity="0.61"/><circle cx="534.6" cy="81.7" r="0.90" fill-opacity="0.78"/><circle cx="520.3" cy="57.8" r="0.40" fill-opacity="0.45"/><circle cx="549.0" cy="61.8" r="0.65" fill-opacity="0.88"/><circle cx="542.1" cy="50.9" r="0.50" fill-opacity="0.72"/><circle cx="533.0" cy="49.7" r="0.35" fill-opacity="0.84"/><circle cx="522.1" cy="59.3" r="0.75" fill-opacity="0.74"/><circle cx="545.0" cy="73.8" r="0.40" fill-opacity="0.49"/><circle cx="542.3" cy="48.7" r="0.65" fill-opacity="0.46"/><circle cx="546.1" cy="65.9" r="0.90" fill-opacity="0.47"/><circle cx="516.3" cy="60.4" r="0.65" fill-opacity="0.74"/><circle cx="538.4" cy="63.4" r="0.50" fill-opacity="0.71"/><circle cx="532.3" cy="61.7" r="0.75" fill-opacity="0.60"/><circle cx="547.3" cy="57.0" r="0.40" fill-opacity="0.53"/><circle cx="528.9" cy="57.3" r="0.45" fill-opacity="0.62"/><circle cx="531.2" cy="51.9" r="0.40" fill-opacity="0.83"/><circle cx="520.5" cy="81.3" r="0.40" fill-opacity="0.77"/><circle cx="527.2" cy="51.9" r="0.40" fill-opacity="0.87"/><circle cx="546.0" cy="79.0" r="0.90" fill-opacity="0.63"/><circle cx="550.0" cy="57.8" r="0.50" fill-opacity="0.75"/><circle cx="513.3" cy="66.7" r="0.75" fill-opacity="0.68"/><circle cx="517.5" cy="61.0" r="0.45" fill-opacity="0.80"/><circle cx="546.7" cy="67.2" r="0.45" fill-opacity="0.74"/><circle cx="537.4" cy="51.9" r="0.75" fill-opacity="0.65"/><circle cx="516.2" cy="69.9" r="0.45" fill-opacity="0.67"/><circle cx="523.3" cy="83.3" r="0.50" fill-opacity="0.73"/><circle cx="538.9" cy="47.6" r="0.55" fill-opacity="0.62"/><circle cx="516.3" cy="73.2" r="0.45" fill-opacity="0.89"/><circle cx="532.9" cy="53.1" r="0.40" fill-opacity="0.76"/><circle cx="542.0" cy="78.9" r="0.65" fill-opacity="0.71"/><circle cx="534.4" cy="46.5" r="0.55" fill-opacity="0.49"/><circle cx="519.9" cy="55.5" r="0.40" fill-opacity="0.52"/><circle cx="538.5" cy="76.4" r="0.65" fill-opacity="0.76"/><circle cx="546.5" cy="61.5" r="0.55" fill-opacity="0.72"/><circle cx="551.2" cy="63.8" r="0.40" fill-opacity="0.56"/><circle cx="526.6" cy="64.5" r="0.55" fill-opacity="0.75"/><circle cx="520.0" cy="60.8" r="0.55" fill-opacity="0.67"/><circle cx="543.9" cy="54.4" r="0.45" fill-opacity="0.82"/><circle cx="542.2" cy="81.7" r="0.55" fill-opacity="0.59"/><circle cx="535.5" cy="50.8" r="0.50" fill-opacity="0.67"/><circle cx="530.4" cy="83.1" r="0.50" fill-opacity="0.48"/><circle cx="517.9" cy="58.4" r="0.40" fill-opacity="0.59"/><circle cx="535.7" cy="64.5" r="0.40" fill-opacity="0.54"/><circle cx="522.7" cy="49.1" r="0.45" fill-opacity="0.46"/><circle cx="549.2" cy="64.1" r="0.40" fill-opacity="0.65"/><circle cx="547.7" cy="75.0" r="0.90" fill-opacity="0.87"/><circle cx="528.4" cy="54.6" r="0.35" fill-opacity="0.70"/><circle cx="514.4" cy="58.5" r="0.45" fill-opacity="0.85"/><circle cx="521.7" cy="63.0" r="0.45" fill-opacity="0.84"/><circle cx="551.8" cy="68.4" r="0.90" fill-opacity="0.81"/><circle cx="514.8" cy="57.3" r="0.65" fill-opacity="0.87"/><circle cx="523.2" cy="64.8" r="0.35" fill-opacity="0.50"/><circle cx="528.3" cy="79.0" r="0.75" fill-opacity="0.46"/><circle cx="525.5" cy="48.6" r="0.40" fill-opacity="0.45"/><circle cx="535.0" cy="57.4" r="0.75" fill-opacity="0.83"/><circle cx="533.3" cy="60.3" r="0.55" fill-opacity="0.47"/><circle cx="530.1" cy="51.4" r="0.65" fill-opacity="0.65"/><circle cx="542.0" cy="57.2" r="0.45" fill-opacity="0.54"/><circle cx="520.8" cy="69.6" r="0.50" fill-opacity="0.80"/><circle cx="533.6" cy="80.1" r="0.55" fill-opacity="0.72"/><circle cx="517.6" cy="58.4" r="0.35" fill-opacity="0.53"/><circle cx="524.3" cy="49.9" r="0.50" fill-opacity="0.69"/><circle cx="533.4" cy="56.7" r="0.50" fill-opacity="0.65"/><circle cx="525.3" cy="63.2" r="0.45" fill-opacity="0.62"/><circle cx="544.9" cy="58.2" r="0.75" fill-opacity="0.90"/><circle cx="525.3" cy="52.5" r="0.50" fill-opacity="0.60"/><circle cx="531.7" cy="49.0" r="0.90" fill-opacity="0.89"/><circle cx="536.2" cy="55.6" r="0.65" fill-opacity="0.88"/><circle cx="540.5" cy="75.0" r="0.90" fill-opacity="0.62"/><circle cx="548.6" cy="57.6" r="0.45" fill-opacity="0.87"/><circle cx="522.2" cy="64.1" r="0.90" fill-opacity="0.79"/><circle cx="548.0" cy="60.6" r="0.40" fill-opacity="0.74"/><circle cx="537.7" cy="63.2" r="0.45" fill-opacity="0.52"/><circle cx="519.7" cy="60.0" r="0.55" fill-opacity="0.67"/><circle cx="517.0" cy="54.9" r="0.65" fill-opacity="0.72"/><circle cx="551.9" cy="63.2" r="0.35" fill-opacity="0.65"/><circle cx="516.4" cy="61.4" r="0.55" fill-opacity="0.52"/><circle cx="531.6" cy="54.2" r="0.50" fill-opacity="0.88"/><circle cx="526.8" cy="68.9" r="0.90" fill-opacity="0.73"/><circle cx="541.1" cy="67.2" r="0.65" fill-opacity="0.46"/><circle cx="546.0" cy="69.5" r="0.55" fill-opacity="0.83"/><circle cx="526.3" cy="50.5" r="0.55" fill-opacity="0.73"/><circle cx="523.9" cy="76.9" r="0.75" fill-opacity="0.64"/><circle cx="531.9" cy="82.8" r="0.90" fill-opacity="0.56"/><circle cx="544.3" cy="50.4" r="0.45" fill-opacity="0.66"/><circle cx="547.2" cy="57.8" r="0.45" fill-opacity="0.87"/><circle cx="519.4" cy="61.2" r="0.75" fill-opacity="0.52"/><circle cx="522.5" cy="80.4" r="0.90" fill-opacity="0.79"/><circle cx="521.8" cy="50.9" r="0.35" fill-opacity="0.75"/><circle cx="517.6" cy="66.1" r="0.90" fill-opacity="0.48"/><circle cx="523.6" cy="55.1" r="0.35" fill-opacity="0.74"/><circle cx="535.5" cy="56.9" r="0.50" fill-opacity="0.71"/><circle cx="547.1" cy="69.8" r="0.50" fill-opacity="0.86"/><circle cx="518.2" cy="73.1" r="0.40" fill-opacity="0.67"/><circle cx="528.6" cy="81.3" r="0.65" fill-opacity="0.87"/><circle cx="526.2" cy="49.8" r="0.90" fill-opacity="0.81"/><circle cx="549.7" cy="56.1" r="0.50" fill-opacity="0.81"/><circle cx="539.1" cy="49.3" r="0.45" fill-opacity="0.50"/><circle cx="529.1" cy="50.5" r="0.35" fill-opacity="0.86"/><circle cx="526.2" cy="65.4" r="0.65" fill-opacity="0.66"/><circle cx="524.8" cy="50.4" r="0.75" fill-opacity="0.87"/><circle cx="548.5" cy="72.7" r="0.40" fill-opacity="0.57"/><circle cx="535.3" cy="49.0" r="0.55" fill-opacity="0.89"/><circle cx="544.7" cy="78.1" r="0.35" fill-opacity="0.65"/><circle cx="520.7" cy="75.2" r="0.35" fill-opacity="0.71"/><circle cx="520.1" cy="51.0" r="0.90" fill-opacity="0.55"/><circle cx="549.9" cy="70.2" r="0.90" fill-opacity="0.81"/><circle cx="525.4" cy="55.4" r="0.40" fill-opacity="0.76"/><circle cx="525.4" cy="56.3" r="0.40" fill-opacity="0.60"/><circle cx="549.0" cy="55.7" r="0.55" fill-opacity="0.69"/><circle cx="549.5" cy="71.4" r="0.50" fill-opacity="0.58"/><circle cx="524.6" cy="78.6" r="0.55" fill-opacity="0.69"/><circle cx="520.1" cy="50.9" r="0.75" fill-opacity="0.55"/><circle cx="537.4" cy="47.2" r="0.40" fill-opacity="0.50"/><circle cx="526.5" cy="51.7" r="0.55" fill-opacity="0.71"/><circle cx="547.8" cy="67.1" r="0.40" fill-opacity="0.54"/><circle cx="530.3" cy="82.3" r="0.65" fill-opacity="0.57"/><circle cx="541.0" cy="64.6" r="0.90" fill-opacity="0.54"/><circle cx="543.4" cy="58.5" r="0.40" fill-opacity="0.45"/><circle cx="520.8" cy="55.5" r="0.45" fill-opacity="0.90"/><circle cx="536.1" cy="50.2" r="0.50" fill-opacity="0.63"/><circle cx="525.3" cy="50.1" r="0.75" fill-opacity="0.47"/><circle cx="548.3" cy="67.6" r="0.40" fill-opacity="0.78"/><circle cx="519.4" cy="53.6" r="0.50" fill-opacity="0.88"/><circle cx="513.8" cy="67.5" r="0.65" fill-opacity="0.87"/><circle cx="529.2" cy="47.5" r="0.75" fill-opacity="0.78"/><circle cx="544.9" cy="67.7" r="0.55" fill-opacity="0.73"/><circle cx="531.7" cy="56.4" r="0.90" fill-opacity="0.75"/><circle cx="515.0" cy="65.4" r="0.75" fill-opacity="0.85"/><circle cx="518.7" cy="56.1" r="0.90" fill-opacity="0.65"/><circle cx="535.2" cy="83.1" r="0.65" fill-opacity="0.70"/><circle cx="540.6" cy="53.3" r="0.65" fill-opacity="0.79"/><circle cx="522.6" cy="57.3" r="0.50" fill-opacity="0.84"/><circle cx="545.9" cy="62.1" r="0.75" fill-opacity="0.48"/><circle cx="539.9" cy="50.7" r="0.75" fill-opacity="0.48"/><circle cx="528.0" cy="46.8" r="0.65" fill-opacity="0.79"/><circle cx="532.4" cy="82.7" r="0.75" fill-opacity="0.69"/><circle cx="545.5" cy="80.8" r="0.65" fill-opacity="0.81"/><circle cx="548.6" cy="68.1" r="0.65" fill-opacity="0.69"/><circle cx="540.6" cy="79.8" r="0.90" fill-opacity="0.75"/><circle cx="537.3" cy="53.1" r="0.75" fill-opacity="0.75"/><circle cx="542.0" cy="68.8" r="0.90" fill-opacity="0.69"/><circle cx="514.7" cy="57.6" r="0.55" fill-opacity="0.61"/><circle cx="526.1" cy="49.4" r="0.50" fill-opacity="0.62"/><circle cx="528.0" cy="70.5" r="0.45" fill-opacity="0.80"/><circle cx="541.3" cy="51.1" r="0.50" fill-opacity="0.54"/><circle cx="538.2" cy="62.4" r="0.35" fill-opacity="0.78"/><circle cx="519.3" cy="66.8" r="0.35" fill-opacity="0.75"/><circle cx="526.0" cy="77.9" r="0.65" fill-opacity="0.76"/><circle cx="542.9" cy="56.0" r="0.50" fill-opacity="0.83"/><circle cx="550.1" cy="69.0" r="0.55" fill-opacity="0.72"/><circle cx="542.7" cy="79.8" r="0.65" fill-opacity="0.80"/><circle cx="534.1" cy="49.0" r="0.90" fill-opacity="0.61"/><circle cx="536.4" cy="83.3" r="0.50" fill-opacity="0.67"/><circle cx="524.1" cy="66.3" r="0.35" fill-opacity="0.83"/><circle cx="534.5" cy="47.9" r="0.35" fill-opacity="0.49"/><circle cx="527.9" cy="72.1" r="0.75" fill-opacity="0.48"/><circle cx="542.5" cy="67.2" r="0.45" fill-opacity="0.70"/><circle cx="537.0" cy="72.2" r="0.35" fill-opacity="0.66"/><circle cx="520.0" cy="60.8" r="0.65" fill-opacity="0.56"/><circle cx="535.8" cy="64.2" r="0.55" fill-opacity="0.57"/><circle cx="530.5" cy="71.2" r="0.55" fill-opacity="0.53"/><circle cx="542.0" cy="72.4" r="0.50" fill-opacity="0.59"/><circle cx="533.1" cy="46.8" r="0.90" fill-opacity="0.76"/><circle cx="516.8" cy="69.1" r="0.50" fill-opacity="0.58"/><circle cx="521.9" cy="74.6" r="0.35" fill-opacity="0.73"/><circle cx="537.5" cy="78.6" r="0.90" fill-opacity="0.76"/><circle cx="544.7" cy="54.6" r="0.50" fill-opacity="0.48"/><circle cx="545.4" cy="63.5" r="0.75" fill-opacity="0.68"/><circle cx="541.6" cy="55.3" r="0.65" fill-opacity="0.90"/><circle cx="541.7" cy="65.5" r="0.35" fill-opacity="0.84"/><circle cx="528.5" cy="47.8" r="0.40" fill-opacity="0.65"/><circle cx="548.3" cy="53.9" r="0.35" fill-opacity="0.71"/><circle cx="521.2" cy="68.5" r="0.50" fill-opacity="0.75"/><circle cx="520.0" cy="59.2" r="0.35" fill-opacity="0.46"/><circle cx="548.6" cy="57.7" r="0.40" fill-opacity="0.56"/><circle cx="538.8" cy="78.4" r="0.40" fill-opacity="0.89"/><circle cx="537.1" cy="76.9" r="0.50" fill-opacity="0.79"/><circle cx="540.8" cy="67.7" r="0.45" fill-opacity="0.81"/><circle cx="531.5" cy="48.7" r="0.90" fill-opacity="0.74"/><circle cx="539.3" cy="47.4" r="0.45" fill-opacity="0.59"/><circle cx="542.9" cy="66.3" r="0.35" fill-opacity="0.84"/><circle cx="542.6" cy="56.4" r="0.55" fill-opacity="0.62"/><circle cx="517.6" cy="74.7" r="0.35" fill-opacity="0.56"/></g>
</g>
<clipPath id="cp1"><rect x="561.9" y="41.75" width="55.60" height="54.75"/></clipPath>
<linearGradient id="dg1" x1="0" y1="0" x2="0.25" y2="1"><stop offset="0" stop-color="#aaa6d0"/><stop offset="0.5" stop-color="#cdcae4"/><stop offset="1" stop-color="#e4e2f0"/></linearGradient>
<radialGradient id="dr1" cx="0.5" cy="0.5" r="0.5"><stop offset="0.8" stop-color="#7a6fb0" stop-opacity="0"/><stop offset="0.96" stop-color="#7a6fb0" stop-opacity="0.55"/><stop offset="1" stop-color="#6a5fa4" stop-opacity="0.8"/></radialGradient>
<g clip-path="url(#cp1)" filter="url(#sat)">
<rect x="561.9" y="41.75" width="55.60" height="54.75" fill="#bdcecf"/>
<circle cx="590.00" cy="67.60" r="26.0" fill="#bfcad2" stroke="#8a8a9c" stroke-width="1.1"/>
<circle cx="590.00" cy="67.60" r="24.3" fill="none" stroke="#f0f0f4" stroke-width="1.0" opacity="0.75" stroke-dasharray="20,9,14,12"/>
<circle cx="590.00" cy="67.60" r="22.8" fill="none" stroke="#9a98aa" stroke-width="0.6" opacity="0.6"/>
<path d="M567.90,79.30 A23.5,23.5 0 0 0 605.60,86.32" fill="none" stroke="#f4f4f8" stroke-width="2.2" opacity="0.55" filter="url(#bl2)"/>
<circle cx="588.60" cy="66.20" r="21.3" fill="url(#dg1)"/>
<circle cx="588.60" cy="66.20" r="21.3" fill="url(#dr1)"/>
<g fill="#54369a" filter="url(#bl3)"><circle cx="601.0" cy="59.2" r="0.38" fill-opacity="0.48"/><circle cx="582.5" cy="47.3" r="0.71" fill-opacity="0.87"/><circle cx="603.4" cy="66.9" r="0.71" fill-opacity="0.67"/><circle cx="573.2" cy="63.2" r="0.33" fill-opacity="0.50"/><circle cx="576.7" cy="56.5" r="0.62" fill-opacity="0.63"/><circle cx="575.9" cy="50.1" r="0.43" fill-opacity="0.54"/><circle cx="585.6" cy="61.6" r="0.47" fill-opacity="0.65"/><circle cx="580.6" cy="75.3" r="0.62" fill-opacity="0.82"/><circle cx="593.7" cy="61.2" r="0.71" fill-opacity="0.52"/><circle cx="595.4" cy="46.6" r="0.38" fill-opacity="0.55"/><circle cx="576.7" cy="70.0" r="0.71" fill-opacity="0.54"/><circle cx="571.0" cy="65.3" r="0.71" fill-opacity="0.45"/><circle cx="603.2" cy="65.1" r="0.33" fill-opacity="0.54"/><circle cx="603.6" cy="67.1" r="0.71" fill-opacity="0.58"/><circle cx="581.3" cy="53.9" r="0.43" fill-opacity="0.62"/><circle cx="575.5" cy="79.7" r="0.33" fill-opacity="0.57"/><circle cx="589.1" cy="80.7" r="0.38" fill-opacity="0.76"/><circle cx="590.5" cy="46.4" r="0.38" fill-opacity="0.70"/><circle cx="579.1" cy="71.8" r="0.52" fill-opacity="0.90"/><circle cx="577.6" cy="49.8" r="0.43" fill-opacity="0.57"/><circle cx="602.9" cy="75.3" r="0.33" fill-opacity="0.65"/><circle cx="593.2" cy="83.3" r="0.71" fill-opacity="0.54"/><circle cx="598.8" cy="53.4" r="0.33" fill-opacity="0.57"/><circle cx="583.3" cy="51.7" r="0.47" fill-opacity="0.69"/><circle cx="578.4" cy="75.7" r="0.33" fill-opacity="0.50"/><circle cx="575.6" cy="52.8" r="0.52" fill-opacity="0.66"/><circle cx="605.4" cy="69.1" r="0.71" fill-opacity="0.77"/><circle cx="575.2" cy="67.8" r="0.85" fill-opacity="0.84"/><circle cx="582.5" cy="80.8" r="0.85" fill-opacity="0.69"/><circle cx="604.1" cy="57.0" r="0.47" fill-opacity="0.51"/><circle cx="581.5" cy="49.8" r="0.71" fill-opacity="0.64"/><circle cx="587.1" cy="53.7" r="0.62" fill-opacity="0.89"/><circle cx="596.1" cy="51.4" r="0.52" fill-opacity="0.70"/><circle cx="606.6" cy="69.1" r="0.47" fill-opacity="0.50"/><circle cx="599.3" cy="52.0" r="0.43" fill-opacity="0.69"/><circle cx="579.6" cy="59.4" r="0.62" fill-opacity="0.86"/><circle cx="579.5" cy="53.7" r="0.62" fill-opacity="0.85"/><circle cx="573.4" cy="57.6" r="0.33" fill-opacity="0.75"/><circle cx="583.8" cy="86.4" r="0.71" fill-opacity="0.66"/><circle cx="583.3" cy="67.0" r="0.52" fill-opacity="0.67"/><circle cx="598.6" cy="63.6" r="0.52" fill-opacity="0.48"/><circle cx="580.5" cy="47.2" r="0.71" fill-opacity="0.76"/><circle cx="570.2" cy="62.3" r="0.43" fill-opacity="0.65"/><circle cx="581.7" cy="56.7" r="0.52" fill-opacity="0.62"/><circle cx="568.6" cy="68.4" r="0.43" fill-opacity="0.52"/><circle cx="596.4" cy="58.6" r="0.38" fill-opacity="0.70"/><circle cx="605.9" cy="63.6" r="0.62" fill-opacity="0.66"/><circle cx="593.7" cy="46.6" r="0.47" fill-opacity="0.82"/><circle cx="575.9" cy="73.4" r="0.38" fill-opacity="0.64"/><circle cx="577.0" cy="69.3" r="0.43" fill-opacity="0.59"/><circle cx="604.2" cy="55.4" r="0.33" fill-opacity="0.82"/><circle cx="596.2" cy="54.9" r="0.52" fill-opacity="0.56"/><circle cx="589.7" cy="47.1" r="0.62" fill-opacity="0.75"/><circle cx="607.1" cy="58.5" r="0.47" fill-opacity="0.66"/><circle cx="568.9" cy="66.7" r="0.85" fill-opacity="0.61"/><circle cx="595.5" cy="80.0" r="0.47" fill-opacity="0.51"/><circle cx="573.3" cy="55.4" r="0.71" fill-opacity="0.63"/><circle cx="579.3" cy="53.9" r="0.62" fill-opacity="0.66"/><circle cx="586.6" cy="83.6" r="0.43" fill-opacity="0.83"/><circle cx="578.8" cy="53.9" r="0.52" fill-opacity="0.62"/><circle cx="605.9" cy="62.8" r="0.43" fill-opacity="0.86"/><circle cx="581.1" cy="57.3" r="0.38" fill-opacity="0.69"/><circle cx="569.3" cy="67.5" r="0.38" fill-opacity="0.84"/><circle cx="573.5" cy="68.7" r="0.47" fill-opacity="0.81"/><circle cx="595.6" cy="47.0" r="0.52" fill-opacity="0.78"/><circle cx="583.9" cy="60.6" r="0.62" fill-opacity="0.67"/><circle cx="583.8" cy="68.9" r="0.38" fill-opacity="0.81"/><circle cx="606.5" cy="67.9" r="0.85" fill-opacity="0.66"/><circle cx="589.4" cy="48.1" r="0.38" fill-opacity="0.51"/><circle cx="605.1" cy="76.7" r="0.38" fill-opacity="0.68"/><circle cx="579.4" cy="57.9" r="0.52" fill-opacity="0.90"/><circle cx="602.7" cy="55.5" r="0.38" fill-opacity="0.79"/><circle cx="570.6" cy="69.3" r="0.62" fill-opacity="0.75"/><circle cx="576.8" cy="63.9" r="0.71" fill-opacity="0.81"/><circle cx="603.7" cy="54.5" r="0.85" fill-opacity="0.49"/><circle cx="599.8" cy="69.6" r="0.43" fill-opacity="0.88"/><circle cx="577.7" cy="60.7" r="0.62" fill-opacity="0.50"/><circle cx="601.5" cy="57.4" r="0.47" fill-opacity="0.48"/><circle cx="590.3" cy="52.2" r="0.43" fill-opacity="0.64"/><circle cx="582.3" cy="53.8" r="0.38" fill-opacity="0.70"/><circle cx="572.3" cy="58.9" r="0.85" fill-opacity="0.45"/><circle cx="599.2" cy="48.3" r="0.71" fill-opacity="0.73"/><circle cx="579.7" cy="52.1" r="0.85" fill-opacity="0.53"/><circle cx="596.6" cy="48.7" r="0.47" fill-opacity="0.74"/><circle cx="574.7" cy="73.0" r="0.38" fill-opacity="0.86"/><circle cx="580.5" cy="55.3" r="0.62" fill-opacity="0.65"/><circle cx="572.4" cy="69.5" r="0.62" fill-opacity="0.81"/><circle cx="604.8" cy="61.1" r="0.62" fill-opacity="0.89"/><circle cx="604.4" cy="58.6" r="0.38" fill-opacity="0.85"/><circle cx="606.7" cy="73.2" r="0.71" fill-opacity="0.60"/><circle cx="596.1" cy="83.9" r="0.38" fill-opacity="0.54"/><circle cx="573.3" cy="69.1" r="0.38" fill-opacity="0.78"/><circle cx="593.1" cy="50.2" r="0.52" fill-opacity="0.87"/><circle cx="602.9" cy="75.9" r="0.62" fill-opacity="0.54"/><circle cx="597.3" cy="52.4" r="0.62" fill-opacity="0.54"/><circle cx="602.0" cy="51.1" r="0.33" fill-opacity="0.47"/><circle cx="571.6" cy="54.7" r="0.71" fill-opacity="0.48"/><circle cx="587.0" cy="52.6" r="0.62" fill-opacity="0.65"/><circle cx="591.2" cy="49.5" r="0.52" fill-opacity="0.64"/><circle cx="574.5" cy="76.4" r="0.52" fill-opacity="0.62"/><circle cx="604.4" cy="70.8" r="0.71" fill-opacity="0.49"/><circle cx="606.7" cy="67.1" r="0.52" fill-opacity="0.52"/><circle cx="593.1" cy="53.4" r="0.33" fill-opacity="0.78"/><circle cx="595.8" cy="66.5" r="0.43" fill-opacity="0.46"/><circle cx="590.9" cy="56.0" r="0.85" fill-opacity="0.49"/><circle cx="581.9" cy="46.6" r="0.43" fill-opacity="0.75"/><circle cx="572.4" cy="62.8" r="0.33" fill-opacity="0.82"/><circle cx="569.4" cy="61.7" r="0.33" fill-opacity="0.72"/><circle cx="600.0" cy="66.7" r="0.43" fill-opacity="0.85"/><circle cx="599.8" cy="57.7" r="0.85" fill-opacity="0.50"/><circle cx="596.3" cy="49.7" r="0.71" fill-opacity="0.45"/><circle cx="587.2" cy="52.9" r="0.52" fill-opacity="0.88"/><circle cx="573.1" cy="70.0" r="0.33" fill-opacity="0.71"/><circle cx="595.2" cy="78.3" r="0.71" fill-opacity="0.87"/><circle cx="578.1" cy="69.9" r="0.52" fill-opacity="0.70"/><circle cx="571.7" cy="63.5" r="0.43" fill-opacity="0.72"/><circle cx="607.2" cy="57.6" r="0.47" fill-opacity="0.77"/><circle cx="599.6" cy="59.5" r="0.85" fill-opacity="0.72"/><circle cx="603.8" cy="65.4" r="0.52" fill-opacity="0.74"/><circle cx="598.9" cy="61.5" r="0.33" fill-opacity="0.75"/><circle cx="569.5" cy="60.2" r="0.85" fill-opacity="0.89"/><circle cx="584.3" cy="46.0" r="0.85" fill-opacity="0.51"/><circle cx="601.4" cy="57.9" r="0.52" fill-opacity="0.88"/><circle cx="583.1" cy="49.1" r="0.43" fill-opacity="0.52"/><circle cx="608.2" cy="59.8" r="0.71" fill-opacity="0.83"/><circle cx="570.6" cy="58.2" r="0.38" fill-opacity="0.85"/><circle cx="587.8" cy="45.8" r="0.33" fill-opacity="0.47"/><circle cx="587.5" cy="57.2" r="0.85" fill-opacity="0.47"/><circle cx="581.8" cy="49.8" r="0.47" fill-opacity="0.75"/><circle cx="576.0" cy="80.0" r="0.38" fill-opacity="0.79"/><circle cx="585.2" cy="51.0" r="0.71" fill-opacity="0.66"/><circle cx="576.2" cy="70.1" r="0.38" fill-opacity="0.52"/><circle cx="606.8" cy="56.1" r="0.47" fill-opacity="0.51"/><circle cx="597.4" cy="47.5" r="0.43" fill-opacity="0.75"/><circle cx="593.0" cy="61.4" r="0.43" fill-opacity="0.78"/><circle cx="583.7" cy="58.1" r="0.33" fill-opacity="0.83"/><circle cx="603.6" cy="73.7" r="0.85" fill-opacity="0.66"/><circle cx="584.2" cy="62.3" r="0.43" fill-opacity="0.84"/><circle cx="574.6" cy="52.3" r="0.85" fill-opacity="0.72"/><circle cx="591.4" cy="46.5" r="0.47" fill-opacity="0.66"/><circle cx="579.7" cy="78.2" r="0.71" fill-opacity="0.59"/><circle cx="595.1" cy="59.7" r="0.52" fill-opacity="0.78"/><circle cx="603.3" cy="70.5" r="0.47" fill-opacity="0.71"/><circle cx="582.5" cy="51.3" r="0.62" fill-opacity="0.67"/><circle cx="591.1" cy="46.7" r="0.43" fill-opacity="0.84"/><circle cx="598.8" cy="50.0" r="0.43" fill-opacity="0.82"/><circle cx="578.7" cy="70.3" r="0.85" fill-opacity="0.51"/><circle cx="568.0" cy="64.9" r="0.52" fill-opacity="0.48"/><circle cx="595.7" cy="51.5" r="0.33" fill-opacity="0.57"/><circle cx="584.3" cy="78.7" r="0.62" fill-opacity="0.83"/><circle cx="569.4" cy="58.3" r="0.47" fill-opacity="0.85"/><circle cx="588.2" cy="86.6" r="0.38" fill-opacity="0.72"/><circle cx="569.1" cy="68.4" r="0.43" fill-opacity="0.55"/><circle cx="572.3" cy="56.6" r="0.43" fill-opacity="0.48"/><circle cx="597.0" cy="47.9" r="0.85" fill-opacity="0.84"/><circle cx="606.9" cy="66.7" r="0.85" fill-opacity="0.76"/><circle cx="586.6" cy="55.4" r="0.71" fill-opacity="0.60"/><circle cx="571.6" cy="57.0" r="0.71" fill-opacity="0.68"/><circle cx="601.5" cy="51.3" r="0.52" fill-opacity="0.61"/><circle cx="591.4" cy="65.5" r="0.85" fill-opacity="0.48"/><circle cx="600.1" cy="69.9" r="0.62" fill-opacity="0.73"/><circle cx="580.6" cy="85.1" r="0.71" fill-opacity="0.50"/><circle cx="583.0" cy="61.6" r="0.33" fill-opacity="0.56"/><circle cx="583.7" cy="76.3" r="0.47" fill-opacity="0.56"/><circle cx="600.3" cy="63.7" r="0.38" fill-opacity="0.87"/><circle cx="594.5" cy="60.7" r="0.62" fill-opacity="0.84"/><circle cx="607.8" cy="71.9" r="0.47" fill-opacity="0.73"/><circle cx="580.4" cy="69.4" r="0.52" fill-opacity="0.65"/><circle cx="578.7" cy="61.0" r="0.52" fill-opacity="0.45"/><circle cx="571.6" cy="62.2" r="0.85" fill-opacity="0.88"/><circle cx="585.3" cy="82.6" r="0.38" fill-opacity="0.68"/><circle cx="598.3" cy="54.6" r="0.38" fill-opacity="0.47"/><circle cx="570.9" cy="70.4" r="0.71" fill-opacity="0.89"/><circle cx="606.1" cy="65.7" r="0.47" fill-opacity="0.51"/><circle cx="591.9" cy="56.8" r="0.85" fill-opacity="0.64"/><circle cx="609.1" cy="68.1" r="0.52" fill-opacity="0.51"/><circle cx="577.5" cy="52.2" r="0.43" fill-opacity="0.71"/><circle cx="598.4" cy="81.5" r="0.85" fill-opacity="0.85"/><circle cx="576.0" cy="66.8" r="0.47" fill-opacity="0.59"/><circle cx="607.5" cy="62.1" r="0.52" fill-opacity="0.79"/><circle cx="606.4" cy="56.9" r="0.52" fill-opacity="0.59"/><circle cx="606.0" cy="64.9" r="0.43" fill-opacity="0.70"/><circle cx="577.0" cy="79.1" r="0.71" fill-opacity="0.67"/><circle cx="593.4" cy="49.9" r="0.38" fill-opacity="0.71"/><circle cx="599.1" cy="78.5" r="0.38" fill-opacity="0.84"/><circle cx="571.5" cy="56.1" r="0.33" fill-opacity="0.46"/><circle cx="601.1" cy="74.8" r="0.43" fill-opacity="0.72"/><circle cx="601.9" cy="70.2" r="0.62" fill-opacity="0.63"/><circle cx="594.5" cy="67.3" r="0.71" fill-opacity="0.52"/><circle cx="583.3" cy="63.4" r="0.47" fill-opacity="0.53"/><circle cx="601.4" cy="64.4" r="0.52" fill-opacity="0.78"/><circle cx="595.7" cy="48.5" r="0.47" fill-opacity="0.85"/><circle cx="603.2" cy="61.9" r="0.33" fill-opacity="0.57"/><circle cx="582.5" cy="61.1" r="0.47" fill-opacity="0.48"/><circle cx="582.6" cy="55.0" r="0.85" fill-opacity="0.57"/><circle cx="602.6" cy="59.9" r="0.43" fill-opacity="0.72"/><circle cx="573.9" cy="52.0" r="0.62" fill-opacity="0.50"/><circle cx="584.8" cy="83.7" r="0.71" fill-opacity="0.84"/><circle cx="574.5" cy="72.4" r="0.52" fill-opacity="0.68"/><circle cx="571.6" cy="60.3" r="0.43" fill-opacity="0.70"/><circle cx="600.9" cy="55.5" r="0.52" fill-opacity="0.46"/><circle cx="602.8" cy="59.2" r="0.85" fill-opacity="0.53"/><circle cx="578.9" cy="64.8" r="0.43" fill-opacity="0.71"/><circle cx="593.9" cy="48.3" r="0.85" fill-opacity="0.66"/><circle cx="577.0" cy="65.7" r="0.47" fill-opacity="0.57"/><circle cx="598.1" cy="61.9" r="0.52" fill-opacity="0.73"/><circle cx="590.6" cy="48.9" r="0.52" fill-opacity="0.59"/><circle cx="569.4" cy="67.1" r="0.43" fill-opacity="0.61"/><circle cx="576.9" cy="65.9" r="0.62" fill-opacity="0.73"/><circle cx="585.1" cy="48.7" r="0.47" fill-opacity="0.80"/><circle cx="587.8" cy="49.9" r="0.62" fill-opacity="0.75"/><circle cx="603.4" cy="75.7" r="0.33" fill-opacity="0.64"/><circle cx="568.1" cy="68.7" r="0.43" fill-opacity="0.63"/><circle cx="593.0" cy="55.2" r="0.43" fill-opacity="0.53"/><circle cx="605.7" cy="65.9" r="0.38" fill-opacity="0.74"/><circle cx="572.9" cy="61.2" r="0.47" fill-opacity="0.86"/><circle cx="578.0" cy="53.7" r="0.85" fill-opacity="0.89"/><circle cx="573.9" cy="53.5" r="0.85" fill-opacity="0.82"/><circle cx="585.1" cy="64.7" r="0.71" fill-opacity="0.60"/><circle cx="571.9" cy="54.2" r="0.52" fill-opacity="0.60"/><circle cx="574.1" cy="57.1" r="0.47" fill-opacity="0.67"/><circle cx="574.2" cy="73.9" r="0.52" fill-opacity="0.66"/><circle cx="576.6" cy="52.5" r="0.43" fill-opacity="0.56"/><circle cx="568.7" cy="60.2" r="0.62" fill-opacity="0.61"/><circle cx="604.8" cy="64.9" r="0.85" fill-opacity="0.76"/><circle cx="597.5" cy="55.5" r="0.52" fill-opacity="0.62"/><circle cx="598.6" cy="60.2" r="0.71" fill-opacity="0.70"/><circle cx="587.7" cy="45.7" r="0.38" fill-opacity="0.61"/><circle cx="577.6" cy="64.4" r="0.52" fill-opacity="0.89"/><circle cx="606.0" cy="57.6" r="0.38" fill-opacity="0.83"/><circle cx="576.3" cy="49.6" r="0.47" fill-opacity="0.72"/><circle cx="579.2" cy="48.2" r="0.47" fill-opacity="0.66"/><circle cx="585.8" cy="51.1" r="0.71" fill-opacity="0.87"/><circle cx="585.7" cy="85.5" r="0.38" fill-opacity="0.73"/><circle cx="599.1" cy="66.9" r="0.52" fill-opacity="0.79"/><circle cx="578.2" cy="84.3" r="0.85" fill-opacity="0.54"/><circle cx="588.5" cy="84.3" r="0.38" fill-opacity="0.83"/><circle cx="599.0" cy="69.1" r="0.33" fill-opacity="0.54"/><circle cx="590.1" cy="52.3" r="0.85" fill-opacity="0.60"/><circle cx="599.4" cy="53.6" r="0.47" fill-opacity="0.65"/><circle cx="583.5" cy="49.6" r="0.71" fill-opacity="0.80"/><circle cx="591.2" cy="52.7" r="0.38" fill-opacity="0.84"/><circle cx="590.3" cy="75.9" r="0.52" fill-opacity="0.58"/><circle cx="569.9" cy="74.5" r="0.85" fill-opacity="0.57"/><circle cx="593.8" cy="65.6" r="0.52" fill-opacity="0.51"/><circle cx="604.8" cy="57.5" r="0.71" fill-opacity="0.59"/><circle cx="607.9" cy="67.0" r="0.85" fill-opacity="0.59"/><circle cx="569.5" cy="71.3" r="0.71" fill-opacity="0.46"/><circle cx="573.9" cy="64.3" r="0.71" fill-opacity="0.68"/><circle cx="585.1" cy="51.1" r="0.85" fill-opacity="0.67"/><circle cx="584.5" cy="79.4" r="0.85" fill-opacity="0.49"/><circle cx="574.9" cy="59.4" r="0.38" fill-opacity="0.63"/><circle cx="588.6" cy="46.4" r="0.43" fill-opacity="0.86"/><circle cx="578.7" cy="50.0" r="0.33" fill-opacity="0.70"/><circle cx="594.8" cy="50.4" r="0.85" fill-opacity="0.68"/><circle cx="573.1" cy="54.4" r="0.43" fill-opacity="0.55"/><circle cx="584.1" cy="85.0" r="0.85" fill-opacity="0.66"/><circle cx="571.8" cy="59.1" r="0.85" fill-opacity="0.63"/><circle cx="569.2" cy="62.3" r="0.47" fill-opacity="0.89"/><circle cx="591.3" cy="46.7" r="0.47" fill-opacity="0.71"/><circle cx="586.4" cy="75.3" r="0.43" fill-opacity="0.70"/><circle cx="583.8" cy="52.4" r="0.43" fill-opacity="0.59"/><circle cx="589.3" cy="48.0" r="0.71" fill-opacity="0.65"/><circle cx="579.1" cy="52.9" r="0.62" fill-opacity="0.54"/><circle cx="590.1" cy="80.2" r="0.71" fill-opacity="0.61"/><circle cx="602.0" cy="81.8" r="0.38" fill-opacity="0.81"/><circle cx="602.7" cy="67.9" r="0.43" fill-opacity="0.48"/><circle cx="602.1" cy="60.8" r="0.43" fill-opacity="0.86"/><circle cx="589.3" cy="46.0" r="0.47" fill-opacity="0.67"/><circle cx="583.8" cy="85.3" r="0.43" fill-opacity="0.65"/><circle cx="607.8" cy="64.3" r="0.71" fill-opacity="0.67"/><circle cx="602.8" cy="72.7" r="0.43" fill-opacity="0.68"/><circle cx="606.2" cy="73.7" r="0.62" fill-opacity="0.76"/><circle cx="596.4" cy="63.3" r="0.85" fill-opacity="0.55"/><circle cx="568.7" cy="63.9" r="0.43" fill-opacity="0.83"/><circle cx="578.7" cy="79.5" r="0.43" fill-opacity="0.79"/><circle cx="578.9" cy="74.4" r="0.85" fill-opacity="0.78"/><circle cx="601.6" cy="57.0" r="0.62" fill-opacity="0.75"/><circle cx="600.1" cy="57.7" r="0.62" fill-opacity="0.78"/><circle cx="584.0" cy="84.0" r="0.52" fill-opacity="0.77"/><circle cx="604.6" cy="63.6" r="0.38" fill-opacity="0.77"/><circle cx="605.6" cy="56.0" r="0.85" fill-opacity="0.64"/></g>
</g>
<clipPath id="cp2"><rect x="625.2" y="40.2" width="56.80" height="55.60"/></clipPath>
<linearGradient id="dg2" x1="0" y1="0" x2="0.25" y2="1"><stop offset="0" stop-color="#aeaad2"/><stop offset="0.5" stop-color="#d0cde6"/><stop offset="1" stop-color="#e4e2f0"/></linearGradient>
<radialGradient id="dr2" cx="0.5" cy="0.5" r="0.5"><stop offset="0.8" stop-color="#7a6fb0" stop-opacity="0"/><stop offset="0.96" stop-color="#7a6fb0" stop-opacity="0.55"/><stop offset="1" stop-color="#6a5fa4" stop-opacity="0.8"/></radialGradient>
<g clip-path="url(#cp2)" filter="url(#sat)">
<rect x="625.2" y="40.2" width="56.80" height="55.60" fill="#bdcecf"/>
<circle cx="653.50" cy="67.60" r="28.0" fill="#bfcad2" stroke="#8a8a9c" stroke-width="1.1"/>
<circle cx="653.50" cy="67.60" r="26.3" fill="none" stroke="#f0f0f4" stroke-width="1.0" opacity="0.75" stroke-dasharray="20,9,14,12"/>
<circle cx="653.50" cy="67.60" r="24.8" fill="none" stroke="#9a98aa" stroke-width="0.6" opacity="0.6"/>
<path d="M629.70,80.20 A25.5,25.5 0 0 0 670.30,87.76" fill="none" stroke="#f4f4f8" stroke-width="2.2" opacity="0.55" filter="url(#bl2)"/>
<circle cx="647.80" cy="63.80" r="20.7" fill="url(#dg2)"/>
<circle cx="647.80" cy="63.80" r="20.7" fill="url(#dr2)"/>
<g fill="#54369a" filter="url(#bl3)"><circle cx="637.4" cy="53.7" r="0.33" fill-opacity="0.89"/><circle cx="652.4" cy="48.1" r="0.33" fill-opacity="0.67"/><circle cx="634.8" cy="49.6" r="0.43" fill-opacity="0.87"/><circle cx="642.3" cy="50.5" r="0.43" fill-opacity="0.64"/><circle cx="661.6" cy="60.0" r="0.62" fill-opacity="0.60"/><circle cx="647.3" cy="55.0" r="0.38" fill-opacity="0.82"/><circle cx="651.1" cy="46.4" r="0.38" fill-opacity="0.73"/><circle cx="642.5" cy="49.1" r="0.62" fill-opacity="0.46"/><circle cx="648.6" cy="47.1" r="0.43" fill-opacity="0.75"/><circle cx="628.1" cy="65.7" r="0.43" fill-opacity="0.75"/><circle cx="665.5" cy="67.8" r="0.47" fill-opacity="0.82"/><circle cx="658.1" cy="69.0" r="0.52" fill-opacity="0.90"/><circle cx="646.0" cy="47.0" r="0.43" fill-opacity="0.66"/><circle cx="640.3" cy="54.5" r="0.85" fill-opacity="0.90"/><circle cx="664.6" cy="64.6" r="0.38" fill-opacity="0.81"/><circle cx="647.9" cy="49.4" r="0.62" fill-opacity="0.63"/><circle cx="650.7" cy="64.9" r="0.33" fill-opacity="0.62"/><circle cx="641.6" cy="81.6" r="0.33" fill-opacity="0.69"/><circle cx="633.1" cy="73.3" r="0.62" fill-opacity="0.65"/><circle cx="655.9" cy="47.7" r="0.85" fill-opacity="0.64"/><circle cx="632.2" cy="50.9" r="0.71" fill-opacity="0.62"/><circle cx="630.1" cy="69.5" r="0.43" fill-opacity="0.57"/><circle cx="645.9" cy="46.9" r="0.38" fill-opacity="0.68"/><circle cx="663.8" cy="72.5" r="0.85" fill-opacity="0.58"/><circle cx="654.3" cy="58.8" r="0.62" fill-opacity="0.54"/><circle cx="629.0" cy="61.9" r="0.33" fill-opacity="0.83"/><circle cx="633.7" cy="75.5" r="0.85" fill-opacity="0.88"/><circle cx="635.6" cy="63.2" r="0.85" fill-opacity="0.54"/><circle cx="631.8" cy="64.4" r="0.43" fill-opacity="0.59"/><circle cx="638.7" cy="47.7" r="0.85" fill-opacity="0.51"/><circle cx="637.5" cy="60.9" r="0.52" fill-opacity="0.88"/><circle cx="659.7" cy="70.9" r="0.33" fill-opacity="0.50"/><circle cx="656.2" cy="80.4" r="0.43" fill-opacity="0.74"/><circle cx="641.6" cy="70.8" r="0.38" fill-opacity="0.73"/><circle cx="658.7" cy="74.4" r="0.47" fill-opacity="0.57"/><circle cx="660.1" cy="49.6" r="0.71" fill-opacity="0.77"/><circle cx="647.9" cy="51.2" r="0.33" fill-opacity="0.82"/><circle cx="667.5" cy="61.1" r="0.33" fill-opacity="0.78"/><circle cx="636.5" cy="66.9" r="0.38" fill-opacity="0.89"/><circle cx="629.8" cy="55.9" r="0.38" fill-opacity="0.71"/><circle cx="630.7" cy="56.4" r="0.85" fill-opacity="0.68"/><circle cx="652.0" cy="46.6" r="0.85" fill-opacity="0.87"/><circle cx="658.7" cy="55.5" r="0.62" fill-opacity="0.80"/><circle cx="634.1" cy="67.1" r="0.47" fill-opacity="0.53"/><circle cx="638.8" cy="74.3" r="0.38" fill-opacity="0.59"/><circle cx="649.8" cy="55.5" r="0.43" fill-opacity="0.80"/><circle cx="654.1" cy="51.2" r="0.47" fill-opacity="0.73"/><circle cx="634.3" cy="52.2" r="0.38" fill-opacity="0.67"/><circle cx="632.4" cy="56.5" r="0.52" fill-opacity="0.62"/><circle cx="639.9" cy="48.5" r="0.52" fill-opacity="0.54"/><circle cx="636.7" cy="75.0" r="0.71" fill-opacity="0.81"/><circle cx="662.1" cy="55.0" r="0.52" fill-opacity="0.81"/><circle cx="646.3" cy="78.6" r="0.43" fill-opacity="0.89"/><circle cx="638.6" cy="46.3" r="0.71" fill-opacity="0.79"/><circle cx="657.4" cy="50.0" r="0.85" fill-opacity="0.60"/><circle cx="633.1" cy="77.6" r="0.85" fill-opacity="0.83"/><circle cx="661.0" cy="59.5" r="0.62" fill-opacity="0.49"/><circle cx="635.7" cy="51.1" r="0.38" fill-opacity="0.66"/><circle cx="639.6" cy="55.1" r="0.62" fill-opacity="0.49"/><circle cx="629.0" cy="63.0" r="0.47" fill-opacity="0.74"/><circle cx="639.1" cy="67.8" r="0.52" fill-opacity="0.77"/><circle cx="638.7" cy="65.3" r="0.71" fill-opacity="0.55"/><circle cx="632.8" cy="55.0" r="0.71" fill-opacity="0.52"/><circle cx="630.2" cy="57.0" r="0.62" fill-opacity="0.46"/><circle cx="647.2" cy="47.5" r="0.38" fill-opacity="0.64"/><circle cx="661.3" cy="57.7" r="0.85" fill-opacity="0.54"/><circle cx="663.8" cy="65.3" r="0.62" fill-opacity="0.48"/><circle cx="636.6" cy="63.2" r="0.47" fill-opacity="0.67"/><circle cx="633.1" cy="75.5" r="0.85" fill-opacity="0.83"/><circle cx="662.4" cy="73.7" r="0.47" fill-opacity="0.76"/><circle cx="634.8" cy="48.6" r="0.43" fill-opacity="0.88"/><circle cx="660.1" cy="50.4" r="0.47" fill-opacity="0.81"/><circle cx="631.0" cy="57.0" r="0.52" fill-opacity="0.70"/><circle cx="640.3" cy="59.6" r="0.38" fill-opacity="0.74"/><circle cx="633.7" cy="55.1" r="0.71" fill-opacity="0.62"/><circle cx="661.0" cy="65.2" r="0.85" fill-opacity="0.72"/><circle cx="646.3" cy="49.5" r="0.85" fill-opacity="0.85"/><circle cx="653.1" cy="48.2" r="0.62" fill-opacity="0.86"/><circle cx="651.6" cy="53.5" r="0.71" fill-opacity="0.64"/><circle cx="661.6" cy="66.5" r="0.85" fill-opacity="0.67"/><circle cx="632.3" cy="52.8" r="0.38" fill-opacity="0.78"/><circle cx="646.8" cy="45.7" r="0.85" fill-opacity="0.86"/><circle cx="638.6" cy="49.1" r="0.85" fill-opacity="0.69"/><circle cx="641.6" cy="79.1" r="0.85" fill-opacity="0.45"/><circle cx="638.5" cy="55.2" r="0.71" fill-opacity="0.67"/><circle cx="637.3" cy="78.9" r="0.71" fill-opacity="0.89"/><circle cx="640.4" cy="57.2" r="0.43" fill-opacity="0.68"/><circle cx="664.3" cy="62.7" r="0.71" fill-opacity="0.57"/><circle cx="628.8" cy="67.1" r="0.38" fill-opacity="0.89"/><circle cx="642.4" cy="69.1" r="0.47" fill-opacity="0.72"/><circle cx="637.0" cy="47.6" r="0.38" fill-opacity="0.48"/><circle cx="631.5" cy="63.4" r="0.52" fill-opacity="0.86"/><circle cx="666.5" cy="61.0" r="0.38" fill-opacity="0.83"/><circle cx="642.0" cy="81.6" r="0.52" fill-opacity="0.57"/><circle cx="644.0" cy="54.8" r="0.47" fill-opacity="0.51"/><circle cx="664.3" cy="61.7" r="0.62" fill-opacity="0.49"/><circle cx="663.1" cy="73.2" r="0.62" fill-opacity="0.52"/><circle cx="628.1" cy="62.9" r="0.38" fill-opacity="0.81"/><circle cx="659.9" cy="48.0" r="0.47" fill-opacity="0.90"/><circle cx="634.1" cy="54.0" r="0.38" fill-opacity="0.71"/><circle cx="658.5" cy="69.2" r="0.43" fill-opacity="0.68"/><circle cx="654.7" cy="80.7" r="0.43" fill-opacity="0.88"/><circle cx="650.6" cy="80.6" r="0.62" fill-opacity="0.74"/><circle cx="633.9" cy="56.6" r="0.38" fill-opacity="0.57"/><circle cx="663.4" cy="69.7" r="0.38" fill-opacity="0.90"/><circle cx="654.7" cy="58.8" r="0.85" fill-opacity="0.74"/><circle cx="646.8" cy="51.2" r="0.62" fill-opacity="0.47"/><circle cx="634.6" cy="52.0" r="0.47" fill-opacity="0.66"/><circle cx="636.7" cy="58.0" r="0.33" fill-opacity="0.55"/><circle cx="639.5" cy="46.3" r="0.43" fill-opacity="0.76"/><circle cx="633.5" cy="63.0" r="0.43" fill-opacity="0.83"/><circle cx="667.1" cy="65.9" r="0.33" fill-opacity="0.87"/><circle cx="665.2" cy="65.3" r="0.47" fill-opacity="0.64"/><circle cx="641.0" cy="58.3" r="0.62" fill-opacity="0.50"/><circle cx="643.3" cy="44.1" r="0.62" fill-opacity="0.48"/><circle cx="630.3" cy="54.1" r="0.47" fill-opacity="0.69"/><circle cx="639.5" cy="55.0" r="0.47" fill-opacity="0.47"/><circle cx="652.7" cy="66.9" r="0.47" fill-opacity="0.75"/><circle cx="639.8" cy="45.3" r="0.52" fill-opacity="0.75"/><circle cx="653.8" cy="61.3" r="0.52" fill-opacity="0.59"/><circle cx="629.2" cy="64.0" r="0.38" fill-opacity="0.69"/><circle cx="657.9" cy="46.8" r="0.71" fill-opacity="0.73"/><circle cx="659.4" cy="57.2" r="0.62" fill-opacity="0.78"/><circle cx="635.2" cy="49.7" r="0.71" fill-opacity="0.82"/><circle cx="633.9" cy="56.4" r="0.43" fill-opacity="0.68"/><circle cx="637.8" cy="80.1" r="0.85" fill-opacity="0.90"/><circle cx="647.8" cy="50.3" r="0.38" fill-opacity="0.81"/><circle cx="661.4" cy="63.4" r="0.62" fill-opacity="0.82"/><circle cx="661.2" cy="78.0" r="0.62" fill-opacity="0.67"/><circle cx="662.4" cy="57.5" r="0.71" fill-opacity="0.76"/><circle cx="666.9" cy="62.4" r="0.43" fill-opacity="0.77"/><circle cx="660.5" cy="65.5" r="0.52" fill-opacity="0.80"/><circle cx="663.7" cy="74.4" r="0.71" fill-opacity="0.66"/><circle cx="634.3" cy="49.1" r="0.85" fill-opacity="0.54"/><circle cx="666.4" cy="62.8" r="0.47" fill-opacity="0.83"/><circle cx="645.7" cy="43.8" r="0.38" fill-opacity="0.78"/><circle cx="648.0" cy="55.0" r="0.43" fill-opacity="0.62"/><circle cx="661.7" cy="59.1" r="0.43" fill-opacity="0.64"/><circle cx="658.9" cy="67.3" r="0.62" fill-opacity="0.73"/><circle cx="631.4" cy="63.2" r="0.71" fill-opacity="0.57"/><circle cx="643.5" cy="47.1" r="0.85" fill-opacity="0.81"/><circle cx="648.6" cy="49.7" r="0.38" fill-opacity="0.58"/><circle cx="655.0" cy="59.4" r="0.47" fill-opacity="0.61"/><circle cx="634.8" cy="52.8" r="0.85" fill-opacity="0.74"/><circle cx="662.9" cy="61.8" r="0.52" fill-opacity="0.82"/><circle cx="664.7" cy="62.2" r="0.38" fill-opacity="0.50"/><circle cx="640.6" cy="45.5" r="0.85" fill-opacity="0.80"/><circle cx="660.0" cy="51.5" r="0.52" fill-opacity="0.73"/><circle cx="640.3" cy="69.9" r="0.62" fill-opacity="0.73"/><circle cx="639.0" cy="54.2" r="0.62" fill-opacity="0.73"/><circle cx="667.5" cy="63.9" r="0.47" fill-opacity="0.69"/><circle cx="654.2" cy="73.7" r="0.43" fill-opacity="0.86"/><circle cx="655.8" cy="55.6" r="0.47" fill-opacity="0.78"/><circle cx="638.1" cy="49.4" r="0.33" fill-opacity="0.77"/><circle cx="640.5" cy="62.8" r="0.52" fill-opacity="0.70"/><circle cx="655.5" cy="47.1" r="0.38" fill-opacity="0.67"/><circle cx="649.8" cy="77.7" r="0.38" fill-opacity="0.67"/><circle cx="628.2" cy="64.1" r="0.47" fill-opacity="0.78"/><circle cx="635.2" cy="63.0" r="0.33" fill-opacity="0.81"/><circle cx="656.9" cy="47.1" r="0.85" fill-opacity="0.50"/><circle cx="633.2" cy="66.1" r="0.47" fill-opacity="0.69"/><circle cx="654.9" cy="64.1" r="0.47" fill-opacity="0.89"/><circle cx="667.2" cy="65.7" r="0.43" fill-opacity="0.65"/><circle cx="650.7" cy="48.7" r="0.62" fill-opacity="0.49"/><circle cx="632.7" cy="53.3" r="0.33" fill-opacity="0.64"/><circle cx="663.3" cy="56.5" r="0.33" fill-opacity="0.46"/><circle cx="658.8" cy="52.3" r="0.52" fill-opacity="0.67"/><circle cx="648.6" cy="43.9" r="0.47" fill-opacity="0.79"/><circle cx="663.1" cy="51.0" r="0.85" fill-opacity="0.87"/><circle cx="656.9" cy="50.9" r="0.33" fill-opacity="0.50"/><circle cx="652.6" cy="80.9" r="0.43" fill-opacity="0.81"/><circle cx="662.8" cy="54.2" r="0.38" fill-opacity="0.81"/><circle cx="629.4" cy="57.7" r="0.71" fill-opacity="0.90"/><circle cx="628.7" cy="60.1" r="0.38" fill-opacity="0.83"/><circle cx="655.1" cy="47.1" r="0.47" fill-opacity="0.53"/><circle cx="636.4" cy="79.1" r="0.62" fill-opacity="0.73"/><circle cx="657.6" cy="57.4" r="0.47" fill-opacity="0.67"/><circle cx="665.4" cy="66.0" r="0.71" fill-opacity="0.77"/><circle cx="662.4" cy="55.2" r="0.85" fill-opacity="0.74"/><circle cx="664.7" cy="55.2" r="0.38" fill-opacity="0.59"/><circle cx="667.1" cy="68.0" r="0.33" fill-opacity="0.58"/><circle cx="662.2" cy="53.3" r="0.85" fill-opacity="0.67"/><circle cx="653.1" cy="51.9" r="0.33" fill-opacity="0.61"/><circle cx="660.1" cy="74.4" r="0.38" fill-opacity="0.84"/><circle cx="647.1" cy="50.6" r="0.62" fill-opacity="0.63"/><circle cx="638.0" cy="51.5" r="0.38" fill-opacity="0.66"/><circle cx="632.6" cy="67.8" r="0.85" fill-opacity="0.76"/><circle cx="632.5" cy="61.9" r="0.33" fill-opacity="0.76"/><circle cx="632.6" cy="76.8" r="0.85" fill-opacity="0.76"/><circle cx="647.3" cy="48.8" r="0.43" fill-opacity="0.84"/><circle cx="635.6" cy="60.6" r="0.47" fill-opacity="0.80"/><circle cx="641.4" cy="61.1" r="0.85" fill-opacity="0.57"/><circle cx="658.6" cy="54.8" r="0.47" fill-opacity="0.84"/><circle cx="663.9" cy="61.6" r="0.38" fill-opacity="0.52"/><circle cx="642.6" cy="52.9" r="0.71" fill-opacity="0.83"/><circle cx="628.0" cy="63.3" r="0.52" fill-opacity="0.72"/><circle cx="639.6" cy="64.0" r="0.52" fill-opacity="0.83"/><circle cx="646.9" cy="52.9" r="0.62" fill-opacity="0.68"/><circle cx="646.5" cy="53.3" r="0.47" fill-opacity="0.77"/><circle cx="663.4" cy="64.3" r="0.33" fill-opacity="0.84"/><circle cx="664.5" cy="60.9" r="0.33" fill-opacity="0.58"/><circle cx="632.2" cy="58.8" r="0.43" fill-opacity="0.74"/><circle cx="663.9" cy="57.4" r="0.85" fill-opacity="0.46"/><circle cx="636.0" cy="51.6" r="0.52" fill-opacity="0.75"/><circle cx="665.9" cy="66.8" r="0.71" fill-opacity="0.72"/><circle cx="655.7" cy="50.0" r="0.47" fill-opacity="0.89"/><circle cx="629.5" cy="58.7" r="0.71" fill-opacity="0.61"/><circle cx="648.1" cy="45.1" r="0.85" fill-opacity="0.61"/><circle cx="631.4" cy="72.6" r="0.71" fill-opacity="0.86"/><circle cx="628.4" cy="66.2" r="0.71" fill-opacity="0.48"/><circle cx="652.8" cy="47.6" r="0.43" fill-opacity="0.58"/><circle cx="659.0" cy="50.9" r="0.33" fill-opacity="0.74"/><circle cx="652.6" cy="81.0" r="0.33" fill-opacity="0.85"/><circle cx="655.5" cy="59.3" r="0.47" fill-opacity="0.76"/><circle cx="650.2" cy="54.6" r="0.52" fill-opacity="0.69"/><circle cx="635.5" cy="52.7" r="0.71" fill-opacity="0.77"/><circle cx="629.0" cy="67.4" r="0.52" fill-opacity="0.50"/><circle cx="638.7" cy="66.6" r="0.38" fill-opacity="0.56"/><circle cx="663.7" cy="60.9" r="0.43" fill-opacity="0.61"/><circle cx="629.8" cy="57.7" r="0.43" fill-opacity="0.60"/><circle cx="657.4" cy="58.3" r="0.85" fill-opacity="0.57"/><circle cx="643.3" cy="57.2" r="0.52" fill-opacity="0.50"/><circle cx="661.6" cy="59.4" r="0.85" fill-opacity="0.74"/><circle cx="658.3" cy="48.3" r="0.85" fill-opacity="0.89"/><circle cx="662.4" cy="67.4" r="0.52" fill-opacity="0.53"/></g>
</g>
<clipPath id="cp3"><rect x="503.1" y="144.25" width="54.65" height="53.25"/></clipPath>
<linearGradient id="dg3" x1="0" y1="0" x2="0.25" y2="1"><stop offset="0" stop-color="#aaa3c2"/><stop offset="0.5" stop-color="#c2bcd2"/><stop offset="1" stop-color="#e4e2f0"/></linearGradient>
<radialGradient id="dr3" cx="0.5" cy="0.5" r="0.5"><stop offset="0.8" stop-color="#7a6fb0" stop-opacity="0"/><stop offset="0.96" stop-color="#7a6fb0" stop-opacity="0.55"/><stop offset="1" stop-color="#6a5fa4" stop-opacity="0.8"/></radialGradient>
<g clip-path="url(#cp3)" filter="url(#sat)">
<rect x="503.1" y="144.25" width="54.65" height="53.25" fill="#cdcbae"/>
<circle cx="530.60" cy="171.40" r="25.8" fill="#c9c5cb" stroke="#8a8a9c" stroke-width="1.1"/>
<circle cx="530.60" cy="171.40" r="24.1" fill="none" stroke="#f0f0f4" stroke-width="1.0" opacity="0.75" stroke-dasharray="20,9,14,12"/>
<circle cx="530.60" cy="171.40" r="22.6" fill="none" stroke="#9a98aa" stroke-width="0.6" opacity="0.6"/>
<path d="M508.67,183.01 A23.3,23.3 0 0 0 546.08,189.98" fill="none" stroke="#f4f4f8" stroke-width="2.2" opacity="0.55" filter="url(#bl2)"/>
<circle cx="535.60" cy="168.90" r="19.6" fill="url(#dg3)"/>
<circle cx="535.60" cy="168.90" r="19.6" fill="url(#dr3)"/>
<g fill="#54369a" filter="url(#bl3)"><circle cx="545.3" cy="154.3" r="0.68" fill-opacity="0.66"/><circle cx="521.0" cy="161.6" r="0.54" fill-opacity="0.55"/><circle cx="525.5" cy="166.1" r="1.22" fill-opacity="0.87"/><circle cx="525.9" cy="171.5" r="0.74" fill-opacity="0.87"/><circle cx="546.2" cy="157.5" r="0.54" fill-opacity="0.84"/><circle cx="547.2" cy="171.2" r="0.74" fill-opacity="0.64"/><circle cx="518.4" cy="167.1" r="0.54" fill-opacity="0.65"/><circle cx="539.9" cy="165.9" r="0.68" fill-opacity="0.47"/><circle cx="521.9" cy="164.5" r="1.01" fill-opacity="0.54"/><circle cx="550.0" cy="159.1" r="0.74" fill-opacity="0.79"/><circle cx="551.4" cy="169.6" r="0.47" fill-opacity="0.66"/><circle cx="525.3" cy="170.9" r="0.61" fill-opacity="0.46"/><circle cx="536.2" cy="178.7" r="0.54" fill-opacity="0.85"/><circle cx="537.1" cy="179.9" r="0.74" fill-opacity="0.59"/><circle cx="523.0" cy="155.2" r="0.68" fill-opacity="0.58"/><circle cx="523.6" cy="155.1" r="0.74" fill-opacity="0.56"/><circle cx="525.0" cy="154.6" r="0.61" fill-opacity="0.46"/><circle cx="547.4" cy="182.7" r="0.68" fill-opacity="0.68"/><circle cx="522.2" cy="162.9" r="1.22" fill-opacity="0.79"/><circle cx="547.0" cy="158.7" r="1.34" fill-opacity="0.80"/><circle cx="527.8" cy="153.9" r="0.61" fill-opacity="0.64"/><circle cx="532.2" cy="185.0" r="1.22" fill-opacity="0.55"/><circle cx="546.2" cy="158.4" r="0.88" fill-opacity="0.87"/><circle cx="519.8" cy="165.4" r="0.88" fill-opacity="0.46"/><circle cx="550.2" cy="157.7" r="0.54" fill-opacity="0.75"/><circle cx="522.2" cy="180.8" r="0.74" fill-opacity="0.57"/><circle cx="531.4" cy="184.4" r="0.74" fill-opacity="0.69"/><circle cx="540.3" cy="157.4" r="0.61" fill-opacity="0.57"/><circle cx="523.0" cy="165.7" r="0.68" fill-opacity="0.57"/><circle cx="520.8" cy="162.3" r="0.54" fill-opacity="0.84"/><circle cx="518.9" cy="159.8" r="1.01" fill-opacity="0.75"/><circle cx="543.4" cy="153.3" r="0.54" fill-opacity="0.52"/><circle cx="520.8" cy="179.3" r="0.61" fill-opacity="0.78"/><circle cx="519.6" cy="176.3" r="0.68" fill-opacity="0.84"/><circle cx="551.5" cy="170.2" r="1.01" fill-opacity="0.78"/><circle cx="519.5" cy="165.2" r="0.68" fill-opacity="0.79"/><circle cx="525.7" cy="182.6" r="0.88" fill-opacity="0.89"/><circle cx="522.1" cy="160.1" r="0.74" fill-opacity="0.89"/><circle cx="547.3" cy="181.4" r="1.22" fill-opacity="0.66"/><circle cx="543.5" cy="177.7" r="1.01" fill-opacity="0.78"/><circle cx="521.7" cy="164.4" r="0.74" fill-opacity="0.68"/><circle cx="542.9" cy="152.0" r="1.01" fill-opacity="0.49"/><circle cx="524.8" cy="179.1" r="0.47" fill-opacity="0.65"/><circle cx="528.3" cy="177.1" r="0.61" fill-opacity="0.68"/><circle cx="542.0" cy="156.0" r="0.74" fill-opacity="0.78"/><circle cx="532.1" cy="186.0" r="0.88" fill-opacity="0.55"/><circle cx="521.2" cy="156.6" r="0.74" fill-opacity="0.79"/><circle cx="532.0" cy="162.3" r="1.01" fill-opacity="0.78"/><circle cx="518.4" cy="168.7" r="0.88" fill-opacity="0.50"/><circle cx="535.9" cy="153.1" r="0.61" fill-opacity="0.50"/><circle cx="527.8" cy="184.6" r="0.88" fill-opacity="0.71"/><circle cx="531.4" cy="152.5" r="1.01" fill-opacity="0.89"/><circle cx="541.4" cy="165.8" r="0.54" fill-opacity="0.86"/><circle cx="542.4" cy="177.7" r="0.47" fill-opacity="0.87"/><circle cx="523.4" cy="154.7" r="0.68" fill-opacity="0.50"/><circle cx="529.7" cy="153.1" r="0.68" fill-opacity="0.48"/><circle cx="542.4" cy="156.5" r="0.74" fill-opacity="0.47"/><circle cx="545.5" cy="154.0" r="0.47" fill-opacity="0.86"/><circle cx="547.3" cy="154.0" r="1.22" fill-opacity="0.87"/><circle cx="534.8" cy="157.7" r="0.88" fill-opacity="0.81"/><circle cx="535.8" cy="153.3" r="0.85" fill-opacity="0.58"/><circle cx="537.7" cy="155.6" r="0.74" fill-opacity="0.52"/><circle cx="535.8" cy="156.9" r="0.47" fill-opacity="0.71"/><circle cx="529.7" cy="151.5" r="2.19" fill-opacity="0.75"/><circle cx="526.6" cy="162.3" r="0.74" fill-opacity="0.52"/><circle cx="552.6" cy="166.2" r="0.54" fill-opacity="0.88"/><circle cx="549.9" cy="164.3" r="0.88" fill-opacity="0.89"/><circle cx="526.0" cy="181.3" r="0.61" fill-opacity="0.54"/><circle cx="547.7" cy="158.6" r="0.97" fill-opacity="0.59"/><circle cx="545.6" cy="165.8" r="0.88" fill-opacity="0.65"/><circle cx="521.5" cy="170.2" r="0.61" fill-opacity="0.55"/><circle cx="523.6" cy="165.0" r="0.61" fill-opacity="0.68"/><circle cx="541.8" cy="155.1" r="1.09" fill-opacity="0.82"/><circle cx="528.0" cy="168.0" r="0.61" fill-opacity="0.51"/><circle cx="538.1" cy="181.4" r="0.97" fill-opacity="0.51"/><circle cx="528.3" cy="169.6" r="1.01" fill-opacity="0.74"/><circle cx="520.0" cy="169.1" r="0.68" fill-opacity="0.85"/><circle cx="554.1" cy="164.3" r="0.68" fill-opacity="0.54"/><circle cx="542.5" cy="186.3" r="0.74" fill-opacity="0.60"/><circle cx="532.1" cy="158.6" r="1.22" fill-opacity="0.64"/><circle cx="526.9" cy="163.9" r="0.61" fill-opacity="0.54"/><circle cx="518.7" cy="170.5" r="0.47" fill-opacity="0.64"/><circle cx="532.6" cy="153.9" r="0.47" fill-opacity="0.51"/><circle cx="525.5" cy="154.6" r="0.74" fill-opacity="0.85"/><circle cx="524.2" cy="160.0" r="0.61" fill-opacity="0.79"/><circle cx="535.1" cy="183.5" r="0.54" fill-opacity="0.63"/><circle cx="545.2" cy="167.3" r="0.47" fill-opacity="0.45"/><circle cx="521.5" cy="161.7" r="0.68" fill-opacity="0.90"/><circle cx="552.3" cy="161.1" r="1.01" fill-opacity="0.46"/><circle cx="539.7" cy="161.5" r="0.74" fill-opacity="0.87"/><circle cx="549.7" cy="180.1" r="0.47" fill-opacity="0.58"/><circle cx="542.6" cy="151.5" r="1.22" fill-opacity="0.88"/><circle cx="530.6" cy="157.9" r="0.88" fill-opacity="0.49"/><circle cx="544.1" cy="164.6" r="0.54" fill-opacity="0.65"/><circle cx="539.1" cy="158.1" r="1.22" fill-opacity="0.72"/><circle cx="552.0" cy="166.6" r="0.88" fill-opacity="0.80"/><circle cx="520.6" cy="165.8" r="0.47" fill-opacity="0.77"/><circle cx="537.4" cy="156.0" r="1.22" fill-opacity="0.47"/><circle cx="553.9" cy="169.2" r="0.74" fill-opacity="0.61"/><circle cx="549.9" cy="167.8" r="1.22" fill-opacity="0.51"/></g>
</g>
<clipPath id="cp4"><rect x="563.6" y="143.4" width="55.20" height="55.40"/></clipPath>
<linearGradient id="dg4" x1="0" y1="0" x2="0.25" y2="1"><stop offset="0" stop-color="#b8b3cc"/><stop offset="0.5" stop-color="#cdc9da"/><stop offset="1" stop-color="#e4e2f0"/></linearGradient>
<radialGradient id="dr4" cx="0.5" cy="0.5" r="0.5"><stop offset="0.8" stop-color="#7a6fb0" stop-opacity="0"/><stop offset="0.96" stop-color="#7a6fb0" stop-opacity="0.55"/><stop offset="1" stop-color="#6a5fa4" stop-opacity="0.8"/></radialGradient>
<g clip-path="url(#cp4)" filter="url(#sat)">
<rect x="563.6" y="143.4" width="55.20" height="55.40" fill="#cdcbae"/>
<circle cx="590.60" cy="170.60" r="26.5" fill="#c9c5cb" stroke="#8a8a9c" stroke-width="1.1"/>
<circle cx="590.60" cy="170.60" r="24.8" fill="none" stroke="#f0f0f4" stroke-width="1.0" opacity="0.75" stroke-dasharray="20,9,14,12"/>
<circle cx="590.60" cy="170.60" r="23.3" fill="none" stroke="#9a98aa" stroke-width="0.6" opacity="0.6"/>
<path d="M568.08,182.53 A24.0,24.0 0 0 0 606.50,189.68" fill="none" stroke="#f4f4f8" stroke-width="2.2" opacity="0.55" filter="url(#bl2)"/>
<circle cx="590.40" cy="168.40" r="22.4" fill="url(#dg4)"/>
<circle cx="590.40" cy="168.40" r="22.4" fill="url(#dr4)"/>
<g fill="#54369a" filter="url(#bl3)"><circle cx="607.2" cy="171.7" r="0.72" fill-opacity="0.53"/><circle cx="572.6" cy="160.7" r="0.58" fill-opacity="0.90"/><circle cx="602.4" cy="151.2" r="0.72" fill-opacity="0.57"/><circle cx="604.5" cy="167.7" r="0.72" fill-opacity="0.57"/><circle cx="576.2" cy="159.0" r="1.30" fill-opacity="0.54"/><circle cx="606.0" cy="165.2" r="0.65" fill-opacity="0.56"/><circle cx="569.0" cy="167.6" r="0.58" fill-opacity="0.55"/><circle cx="606.9" cy="179.7" r="0.80" fill-opacity="0.59"/><circle cx="585.3" cy="180.0" r="0.94" fill-opacity="0.80"/><circle cx="576.6" cy="165.5" r="0.80" fill-opacity="0.48"/><circle cx="590.8" cy="188.5" r="0.91" fill-opacity="0.58"/><circle cx="569.8" cy="171.6" r="0.65" fill-opacity="0.72"/><circle cx="585.3" cy="151.9" r="1.44" fill-opacity="0.55"/><circle cx="609.2" cy="163.5" r="0.58" fill-opacity="0.75"/><circle cx="595.6" cy="154.2" r="0.94" fill-opacity="0.70"/><circle cx="582.7" cy="150.5" r="0.51" fill-opacity="0.77"/><circle cx="606.0" cy="167.9" r="1.30" fill-opacity="0.74"/><circle cx="600.8" cy="149.3" r="0.94" fill-opacity="0.66"/><circle cx="588.8" cy="157.2" r="0.94" fill-opacity="0.65"/><circle cx="604.0" cy="170.0" r="1.17" fill-opacity="0.57"/><circle cx="594.5" cy="159.0" r="0.72" fill-opacity="0.52"/><circle cx="601.6" cy="170.3" r="0.58" fill-opacity="0.80"/><circle cx="594.9" cy="155.2" r="2.35" fill-opacity="0.50"/><circle cx="610.3" cy="163.1" r="0.72" fill-opacity="0.52"/><circle cx="603.4" cy="156.8" r="0.94" fill-opacity="0.54"/><circle cx="574.7" cy="176.6" r="0.65" fill-opacity="0.80"/><circle cx="594.4" cy="176.4" r="0.58" fill-opacity="0.66"/><circle cx="575.7" cy="166.6" r="1.30" fill-opacity="0.56"/><circle cx="590.2" cy="152.8" r="0.72" fill-opacity="0.75"/><circle cx="572.7" cy="181.2" r="1.30" fill-opacity="0.63"/><circle cx="597.7" cy="183.1" r="0.94" fill-opacity="0.55"/><circle cx="593.2" cy="162.1" r="0.94" fill-opacity="0.82"/><circle cx="604.0" cy="166.6" r="2.35" fill-opacity="0.45"/><circle cx="572.7" cy="173.6" r="0.65" fill-opacity="0.89"/><circle cx="573.3" cy="171.6" r="0.65" fill-opacity="0.70"/><circle cx="607.4" cy="173.0" r="0.80" fill-opacity="0.52"/><circle cx="579.9" cy="173.1" r="1.09" fill-opacity="0.47"/><circle cx="575.3" cy="169.7" r="2.35" fill-opacity="0.69"/><circle cx="601.2" cy="157.6" r="0.80" fill-opacity="0.81"/><circle cx="601.1" cy="160.2" r="1.30" fill-opacity="0.48"/><circle cx="584.9" cy="161.1" r="0.94" fill-opacity="0.72"/><circle cx="586.7" cy="185.8" r="0.80" fill-opacity="0.65"/><circle cx="581.7" cy="151.2" r="1.30" fill-opacity="0.48"/><circle cx="569.5" cy="164.8" r="0.51" fill-opacity="0.48"/><circle cx="607.0" cy="159.4" r="1.30" fill-opacity="0.82"/><circle cx="605.6" cy="154.5" r="0.58" fill-opacity="0.53"/><circle cx="583.6" cy="148.7" r="0.58" fill-opacity="0.81"/><circle cx="606.9" cy="162.6" r="0.94" fill-opacity="0.83"/><circle cx="585.8" cy="156.3" r="1.96" fill-opacity="0.66"/><circle cx="601.1" cy="177.8" r="1.30" fill-opacity="0.45"/><circle cx="584.3" cy="151.9" r="0.94" fill-opacity="0.55"/></g>
</g>
<clipPath id="cp5"><rect x="626.1" y="142.9" width="56.60" height="56.80"/></clipPath>
<linearGradient id="dg5" x1="0" y1="0" x2="0.25" y2="1"><stop offset="0" stop-color="#bab5cb"/><stop offset="0.5" stop-color="#cfcbdb"/><stop offset="1" stop-color="#e4e2f0"/></linearGradient>
<radialGradient id="dr5" cx="0.5" cy="0.5" r="0.5"><stop offset="0.8" stop-color="#7a6fb0" stop-opacity="0"/><stop offset="0.96" stop-color="#7a6fb0" stop-opacity="0.55"/><stop offset="1" stop-color="#6a5fa4" stop-opacity="0.8"/></radialGradient>
<g clip-path="url(#cp5)" filter="url(#sat)">
<rect x="626.1" y="142.9" width="56.60" height="56.80" fill="#cdcbae"/>
<circle cx="655.00" cy="170.70" r="27.8" fill="#c9c5cb" stroke="#8a8a9c" stroke-width="1.1"/>
<circle cx="655.00" cy="170.70" r="26.1" fill="none" stroke="#f0f0f4" stroke-width="1.0" opacity="0.75" stroke-dasharray="20,9,14,12"/>
<circle cx="655.00" cy="170.70" r="24.6" fill="none" stroke="#9a98aa" stroke-width="0.6" opacity="0.6"/>
<path d="M631.37,183.21 A25.3,25.3 0 0 0 671.68,190.72" fill="none" stroke="#f4f4f8" stroke-width="2.2" opacity="0.55" filter="url(#bl2)"/>
<circle cx="648.50" cy="173.90" r="20.7" fill="url(#dg5)"/>
<circle cx="648.50" cy="173.90" r="20.7" fill="url(#dr5)"/>
<g fill="#54369a" filter="url(#bl3)"><circle cx="668.0" cy="170.1" r="0.47" fill-opacity="0.54"/><circle cx="637.0" cy="189.8" r="0.47" fill-opacity="0.58"/><circle cx="649.5" cy="155.7" r="0.74" fill-opacity="0.59"/><circle cx="652.4" cy="169.6" r="1.82" fill-opacity="0.48"/><circle cx="637.5" cy="161.6" r="0.54" fill-opacity="0.76"/><circle cx="629.5" cy="169.8" r="1.22" fill-opacity="0.52"/><circle cx="665.6" cy="166.9" r="0.68" fill-opacity="0.54"/><circle cx="664.3" cy="163.0" r="0.61" fill-opacity="0.56"/><circle cx="653.0" cy="161.6" r="2.19" fill-opacity="0.51"/><circle cx="652.2" cy="155.3" r="0.74" fill-opacity="0.50"/><circle cx="666.8" cy="176.8" r="0.54" fill-opacity="0.70"/><circle cx="663.0" cy="173.9" r="0.88" fill-opacity="0.80"/><circle cx="632.8" cy="168.8" r="0.54" fill-opacity="0.48"/><circle cx="639.2" cy="159.4" r="0.74" fill-opacity="0.79"/><circle cx="634.4" cy="165.7" r="0.61" fill-opacity="0.63"/><circle cx="666.1" cy="176.5" r="0.68" fill-opacity="0.61"/><circle cx="644.9" cy="182.0" r="0.68" fill-opacity="0.46"/><circle cx="662.6" cy="180.8" r="0.74" fill-opacity="0.47"/><circle cx="630.5" cy="182.4" r="0.47" fill-opacity="0.76"/><circle cx="645.1" cy="162.6" r="0.47" fill-opacity="0.54"/><circle cx="632.5" cy="184.8" r="0.68" fill-opacity="0.81"/><circle cx="637.1" cy="176.0" r="1.34" fill-opacity="0.70"/><circle cx="665.3" cy="184.2" r="1.01" fill-opacity="0.72"/><circle cx="633.4" cy="179.9" r="0.88" fill-opacity="0.66"/><circle cx="666.3" cy="175.7" r="0.68" fill-opacity="0.47"/><circle cx="640.1" cy="180.8" r="1.22" fill-opacity="0.51"/></g>
</g>
<clipPath id="cp6"><rect x="502.25" y="244.75" width="56.25" height="53.50"/></clipPath>
<radialGradient id="dg6" cx="0.5" cy="0.5" r="0.5"><stop offset="0" stop-color="#dedbe6"/><stop offset="0.6" stop-color="#ccc8de"/><stop offset="1" stop-color="#a49ec8"/></radialGradient>
<radialGradient id="dr6" cx="0.5" cy="0.5" r="0.5"><stop offset="0.8" stop-color="#7a6fb0" stop-opacity="0"/><stop offset="0.96" stop-color="#7a6fb0" stop-opacity="0.55"/><stop offset="1" stop-color="#6a5fa4" stop-opacity="0.8"/></radialGradient>
<g clip-path="url(#cp6)" filter="url(#sat)">
<rect x="502.25" y="244.75" width="56.25" height="53.50" fill="#c9c9b6"/>
<circle cx="531.00" cy="272.00" r="26.5" fill="#c9c6ce" stroke="#8a8a9c" stroke-width="1.1"/>
<circle cx="531.00" cy="272.00" r="24.8" fill="none" stroke="#f0f0f4" stroke-width="1.0" opacity="0.75" stroke-dasharray="20,9,14,12"/>
<circle cx="531.00" cy="272.00" r="23.3" fill="none" stroke="#9a98aa" stroke-width="0.6" opacity="0.6"/>
<path d="M508.48,283.93 A24.0,24.0 0 0 0 546.90,291.08" fill="none" stroke="#f4f4f8" stroke-width="2.2" opacity="0.55" filter="url(#bl2)"/>
<circle cx="537.50" cy="270.10" r="20.6" fill="url(#dg6)"/>
<circle cx="537.50" cy="270.10" r="20.6" fill="url(#dr6)"/>
<g fill="#54369a" filter="url(#bl3)"><circle cx="549.7" cy="282.1" r="0.38" fill-opacity="0.59"/><circle cx="552.5" cy="283.2" r="0.47" fill-opacity="0.55"/><circle cx="550.4" cy="267.6" r="0.30" fill-opacity="0.90"/><circle cx="537.8" cy="287.9" r="0.38" fill-opacity="0.85"/><circle cx="540.9" cy="269.4" r="0.64" fill-opacity="0.55"/><circle cx="532.4" cy="285.4" r="0.64" fill-opacity="0.61"/><circle cx="528.0" cy="258.1" r="0.77" fill-opacity="0.53"/><circle cx="549.9" cy="283.3" r="0.77" fill-opacity="0.47"/><circle cx="546.7" cy="283.8" r="0.30" fill-opacity="0.56"/><circle cx="529.3" cy="255.2" r="0.42" fill-opacity="0.80"/><circle cx="532.8" cy="281.0" r="0.38" fill-opacity="0.68"/><circle cx="521.6" cy="281.1" r="0.47" fill-opacity="0.75"/><circle cx="517.6" cy="267.5" r="0.77" fill-opacity="0.57"/><circle cx="549.1" cy="258.3" r="0.34" fill-opacity="0.54"/><circle cx="556.5" cy="273.3" r="0.42" fill-opacity="0.74"/><circle cx="553.5" cy="262.8" r="0.30" fill-opacity="0.70"/><circle cx="535.6" cy="283.6" r="0.42" fill-opacity="0.50"/><circle cx="541.2" cy="287.8" r="0.30" fill-opacity="0.56"/><circle cx="538.1" cy="286.0" r="0.42" fill-opacity="0.54"/><circle cx="547.0" cy="259.8" r="0.30" fill-opacity="0.48"/><circle cx="528.8" cy="259.4" r="0.38" fill-opacity="0.53"/><circle cx="553.6" cy="273.1" r="0.30" fill-opacity="0.49"/><circle cx="528.8" cy="255.3" r="0.64" fill-opacity="0.70"/><circle cx="535.1" cy="288.4" r="0.42" fill-opacity="0.76"/><circle cx="552.5" cy="277.9" r="0.30" fill-opacity="0.48"/><circle cx="529.9" cy="269.9" r="0.77" fill-opacity="0.64"/><circle cx="550.3" cy="260.3" r="0.77" fill-opacity="0.89"/><circle cx="545.3" cy="262.2" r="0.77" fill-opacity="0.56"/><circle cx="539.5" cy="263.1" r="0.34" fill-opacity="0.55"/><circle cx="537.0" cy="283.9" r="0.30" fill-opacity="0.76"/><circle cx="534.9" cy="289.1" r="0.55" fill-opacity="0.59"/><circle cx="532.7" cy="261.0" r="0.30" fill-opacity="0.58"/><circle cx="527.4" cy="284.0" r="0.64" fill-opacity="0.82"/><circle cx="527.2" cy="283.6" r="0.34" fill-opacity="0.52"/><circle cx="546.1" cy="252.7" r="0.42" fill-opacity="0.81"/><circle cx="548.4" cy="265.9" r="0.34" fill-opacity="0.85"/><circle cx="542.3" cy="278.8" r="0.38" fill-opacity="0.78"/><circle cx="552.3" cy="276.8" r="0.64" fill-opacity="0.62"/><circle cx="545.3" cy="253.1" r="0.34" fill-opacity="0.61"/><circle cx="542.6" cy="282.2" r="0.38" fill-opacity="0.77"/><circle cx="537.0" cy="257.2" r="0.47" fill-opacity="0.64"/><circle cx="531.9" cy="268.8" r="0.77" fill-opacity="0.85"/><circle cx="525.5" cy="254.1" r="0.38" fill-opacity="0.57"/><circle cx="524.6" cy="258.2" r="0.34" fill-opacity="0.48"/><circle cx="520.4" cy="269.4" r="0.77" fill-opacity="0.86"/><circle cx="534.3" cy="288.6" r="0.47" fill-opacity="0.49"/><circle cx="536.2" cy="257.6" r="0.42" fill-opacity="0.73"/><circle cx="542.3" cy="255.7" r="0.47" fill-opacity="0.87"/><circle cx="533.1" cy="251.2" r="0.30" fill-opacity="0.66"/><circle cx="545.4" cy="278.9" r="0.30" fill-opacity="0.76"/><circle cx="520.4" cy="278.8" r="0.34" fill-opacity="0.48"/><circle cx="525.5" cy="274.9" r="0.47" fill-opacity="0.79"/><circle cx="525.7" cy="258.7" r="0.77" fill-opacity="0.77"/><circle cx="553.0" cy="282.8" r="0.30" fill-opacity="0.89"/><circle cx="543.7" cy="251.4" r="0.34" fill-opacity="0.85"/><circle cx="541.0" cy="252.0" r="0.38" fill-opacity="0.54"/><circle cx="541.0" cy="266.3" r="0.77" fill-opacity="0.60"/><circle cx="524.5" cy="281.5" r="0.64" fill-opacity="0.79"/><circle cx="539.6" cy="255.7" r="0.55" fill-opacity="0.73"/><circle cx="521.0" cy="262.8" r="0.64" fill-opacity="0.68"/><circle cx="556.8" cy="266.2" r="0.30" fill-opacity="0.79"/><circle cx="522.6" cy="283.1" r="0.47" fill-opacity="0.49"/><circle cx="531.4" cy="254.1" r="0.55" fill-opacity="0.53"/><circle cx="525.3" cy="280.6" r="0.47" fill-opacity="0.72"/><circle cx="518.1" cy="273.6" r="0.64" fill-opacity="0.70"/><circle cx="538.8" cy="289.3" r="0.34" fill-opacity="0.73"/><circle cx="519.7" cy="271.9" r="0.30" fill-opacity="0.58"/><circle cx="556.2" cy="277.6" r="0.77" fill-opacity="0.81"/><circle cx="545.8" cy="252.4" r="0.38" fill-opacity="0.64"/><circle cx="543.9" cy="285.9" r="0.55" fill-opacity="0.69"/><circle cx="530.4" cy="267.1" r="0.77" fill-opacity="0.60"/><circle cx="536.0" cy="250.0" r="0.30" fill-opacity="0.62"/><circle cx="531.2" cy="279.4" r="0.38" fill-opacity="0.54"/><circle cx="552.3" cy="270.6" r="0.55" fill-opacity="0.81"/><circle cx="535.7" cy="285.9" r="0.64" fill-opacity="0.57"/><circle cx="538.3" cy="289.1" r="0.42" fill-opacity="0.62"/><circle cx="540.9" cy="261.9" r="0.42" fill-opacity="0.50"/><circle cx="556.1" cy="265.6" r="0.47" fill-opacity="0.86"/><circle cx="523.4" cy="262.3" r="0.34" fill-opacity="0.82"/><circle cx="550.3" cy="278.1" r="0.34" fill-opacity="0.52"/><circle cx="533.8" cy="285.9" r="0.47" fill-opacity="0.51"/><circle cx="520.0" cy="272.5" r="0.42" fill-opacity="0.50"/><circle cx="519.7" cy="276.2" r="0.42" fill-opacity="0.75"/><circle cx="542.6" cy="282.5" r="0.64" fill-opacity="0.60"/><circle cx="535.2" cy="287.4" r="0.30" fill-opacity="0.72"/><circle cx="550.2" cy="265.8" r="0.42" fill-opacity="0.81"/><circle cx="524.3" cy="263.0" r="0.47" fill-opacity="0.57"/><circle cx="529.7" cy="287.2" r="0.38" fill-opacity="0.51"/><circle cx="549.1" cy="260.0" r="0.30" fill-opacity="0.48"/><circle cx="517.9" cy="273.4" r="0.47" fill-opacity="0.76"/><circle cx="534.1" cy="252.4" r="0.38" fill-opacity="0.73"/><circle cx="544.2" cy="265.0" r="0.42" fill-opacity="0.89"/><circle cx="538.5" cy="254.1" r="0.30" fill-opacity="0.53"/><circle cx="527.6" cy="256.1" r="0.47" fill-opacity="0.76"/><circle cx="542.2" cy="283.2" r="0.47" fill-opacity="0.83"/><circle cx="520.7" cy="273.6" r="0.55" fill-opacity="0.82"/><circle cx="546.6" cy="260.7" r="0.55" fill-opacity="0.64"/><circle cx="527.9" cy="285.4" r="0.42" fill-opacity="0.47"/><circle cx="552.8" cy="282.0" r="0.47" fill-opacity="0.84"/><circle cx="537.6" cy="251.3" r="0.38" fill-opacity="0.46"/><circle cx="554.5" cy="270.1" r="0.30" fill-opacity="0.54"/><circle cx="550.8" cy="278.6" r="0.30" fill-opacity="0.84"/><circle cx="555.3" cy="262.8" r="0.47" fill-opacity="0.85"/><circle cx="528.2" cy="279.0" r="0.30" fill-opacity="0.54"/><circle cx="519.8" cy="277.7" r="0.34" fill-opacity="0.69"/><circle cx="530.6" cy="254.7" r="0.30" fill-opacity="0.60"/><circle cx="555.7" cy="269.2" r="0.34" fill-opacity="0.74"/><circle cx="543.1" cy="276.8" r="0.77" fill-opacity="0.78"/><circle cx="521.3" cy="259.2" r="0.47" fill-opacity="0.55"/><circle cx="524.9" cy="269.1" r="0.77" fill-opacity="0.55"/><circle cx="533.1" cy="287.2" r="0.55" fill-opacity="0.79"/><circle cx="552.7" cy="269.6" r="0.77" fill-opacity="0.80"/><circle cx="520.6" cy="274.0" r="0.30" fill-opacity="0.82"/><circle cx="538.7" cy="283.2" r="0.30" fill-opacity="0.80"/><circle cx="536.8" cy="284.6" r="0.55" fill-opacity="0.78"/><circle cx="552.8" cy="280.4" r="0.55" fill-opacity="0.47"/><circle cx="542.1" cy="251.9" r="0.64" fill-opacity="0.71"/><circle cx="532.9" cy="260.9" r="0.77" fill-opacity="0.66"/><circle cx="542.7" cy="283.9" r="0.38" fill-opacity="0.85"/><circle cx="552.7" cy="256.9" r="0.47" fill-opacity="0.56"/><circle cx="534.2" cy="285.2" r="0.34" fill-opacity="0.67"/><circle cx="538.7" cy="281.8" r="0.77" fill-opacity="0.85"/><circle cx="518.1" cy="268.3" r="0.30" fill-opacity="0.89"/><circle cx="533.3" cy="267.4" r="0.47" fill-opacity="0.57"/><circle cx="542.3" cy="256.4" r="0.34" fill-opacity="0.72"/><circle cx="518.1" cy="268.0" r="0.38" fill-opacity="0.65"/><circle cx="551.8" cy="267.3" r="0.64" fill-opacity="0.67"/><circle cx="531.2" cy="262.6" r="0.30" fill-opacity="0.69"/><circle cx="540.2" cy="283.1" r="0.42" fill-opacity="0.76"/><circle cx="521.2" cy="266.2" r="0.47" fill-opacity="0.56"/><circle cx="552.2" cy="281.0" r="0.64" fill-opacity="0.73"/><circle cx="537.7" cy="255.1" r="0.55" fill-opacity="0.73"/><circle cx="539.3" cy="256.1" r="0.64" fill-opacity="0.67"/><circle cx="524.2" cy="261.7" r="0.34" fill-opacity="0.46"/><circle cx="524.3" cy="257.5" r="0.55" fill-opacity="0.86"/><circle cx="521.4" cy="277.7" r="0.38" fill-opacity="0.80"/><circle cx="533.8" cy="289.0" r="0.42" fill-opacity="0.88"/><circle cx="547.9" cy="277.0" r="0.34" fill-opacity="0.69"/><circle cx="540.5" cy="254.3" r="0.47" fill-opacity="0.52"/><circle cx="543.3" cy="257.7" r="0.38" fill-opacity="0.56"/><circle cx="523.0" cy="272.9" r="0.47" fill-opacity="0.86"/><circle cx="553.2" cy="258.9" r="0.47" fill-opacity="0.85"/><circle cx="527.8" cy="283.2" r="0.34" fill-opacity="0.64"/><circle cx="551.2" cy="273.0" r="0.47" fill-opacity="0.45"/><circle cx="527.1" cy="282.8" r="0.55" fill-opacity="0.68"/><circle cx="526.1" cy="262.0" r="0.55" fill-opacity="0.84"/><circle cx="523.6" cy="279.5" r="0.42" fill-opacity="0.80"/><circle cx="536.2" cy="280.8" r="0.42" fill-opacity="0.85"/><circle cx="552.2" cy="276.0" r="0.34" fill-opacity="0.51"/><circle cx="520.6" cy="264.4" r="0.55" fill-opacity="0.47"/><circle cx="555.5" cy="277.9" r="0.55" fill-opacity="0.86"/><circle cx="545.7" cy="278.3" r="0.64" fill-opacity="0.88"/><circle cx="544.5" cy="255.9" r="0.64" fill-opacity="0.56"/><circle cx="546.6" cy="286.1" r="0.47" fill-opacity="0.71"/><circle cx="554.4" cy="266.6" r="0.64" fill-opacity="0.57"/><circle cx="527.0" cy="266.4" r="0.38" fill-opacity="0.51"/><circle cx="550.8" cy="277.3" r="0.42" fill-opacity="0.74"/><circle cx="536.2" cy="254.3" r="0.55" fill-opacity="0.80"/><circle cx="525.0" cy="284.2" r="0.42" fill-opacity="0.86"/><circle cx="529.0" cy="279.0" r="0.77" fill-opacity="0.74"/><circle cx="551.1" cy="273.2" r="0.38" fill-opacity="0.57"/><circle cx="518.4" cy="276.4" r="0.64" fill-opacity="0.57"/><circle cx="527.1" cy="261.8" r="0.34" fill-opacity="0.87"/><circle cx="528.5" cy="285.2" r="0.47" fill-opacity="0.78"/><circle cx="547.5" cy="283.6" r="0.55" fill-opacity="0.51"/><circle cx="539.8" cy="253.9" r="0.42" fill-opacity="0.83"/><circle cx="535.3" cy="283.2" r="0.38" fill-opacity="0.85"/><circle cx="556.5" cy="272.1" r="0.64" fill-opacity="0.60"/><circle cx="536.0" cy="280.9" r="0.38" fill-opacity="0.80"/><circle cx="542.6" cy="286.1" r="0.30" fill-opacity="0.83"/><circle cx="538.0" cy="258.8" r="0.34" fill-opacity="0.68"/><circle cx="524.0" cy="262.5" r="0.30" fill-opacity="0.48"/><circle cx="542.8" cy="283.0" r="0.47" fill-opacity="0.83"/><circle cx="528.2" cy="284.6" r="0.30" fill-opacity="0.81"/><circle cx="557.6" cy="268.6" r="0.42" fill-opacity="0.51"/><circle cx="556.7" cy="265.4" r="0.55" fill-opacity="0.68"/><circle cx="531.3" cy="287.3" r="0.64" fill-opacity="0.53"/><circle cx="537.7" cy="252.8" r="0.38" fill-opacity="0.54"/><circle cx="551.2" cy="273.4" r="0.55" fill-opacity="0.66"/><circle cx="522.7" cy="264.9" r="0.64" fill-opacity="0.63"/><circle cx="556.5" cy="264.8" r="0.47" fill-opacity="0.73"/><circle cx="554.1" cy="265.4" r="0.77" fill-opacity="0.49"/><circle cx="529.0" cy="257.4" r="0.42" fill-opacity="0.54"/><circle cx="519.6" cy="261.0" r="0.42" fill-opacity="0.59"/><circle cx="535.5" cy="252.1" r="0.38" fill-opacity="0.59"/><circle cx="524.9" cy="262.8" r="0.77" fill-opacity="0.89"/><circle cx="526.2" cy="283.4" r="0.55" fill-opacity="0.51"/><circle cx="546.4" cy="279.1" r="0.55" fill-opacity="0.54"/><circle cx="542.9" cy="289.1" r="0.77" fill-opacity="0.54"/><circle cx="522.9" cy="262.3" r="0.42" fill-opacity="0.89"/><circle cx="534.7" cy="277.6" r="0.38" fill-opacity="0.60"/><circle cx="544.6" cy="260.9" r="0.77" fill-opacity="0.58"/><circle cx="527.3" cy="269.7" r="0.38" fill-opacity="0.62"/><circle cx="523.0" cy="256.2" r="0.55" fill-opacity="0.90"/><circle cx="526.6" cy="283.2" r="0.77" fill-opacity="0.63"/><circle cx="526.9" cy="285.3" r="0.30" fill-opacity="0.72"/><circle cx="531.9" cy="257.2" r="0.47" fill-opacity="0.85"/><circle cx="556.5" cy="263.7" r="0.30" fill-opacity="0.50"/><circle cx="531.3" cy="271.3" r="0.38" fill-opacity="0.54"/><circle cx="553.4" cy="258.4" r="0.47" fill-opacity="0.74"/><circle cx="547.6" cy="275.3" r="0.34" fill-opacity="0.62"/><circle cx="557.3" cy="272.2" r="0.55" fill-opacity="0.77"/><circle cx="555.4" cy="268.3" r="0.64" fill-opacity="0.69"/><circle cx="519.1" cy="273.2" r="0.30" fill-opacity="0.77"/><circle cx="547.1" cy="287.4" r="0.64" fill-opacity="0.80"/><circle cx="550.2" cy="262.7" r="0.38" fill-opacity="0.77"/><circle cx="546.4" cy="282.0" r="0.55" fill-opacity="0.84"/><circle cx="528.3" cy="257.8" r="0.77" fill-opacity="0.71"/><circle cx="531.4" cy="280.6" r="0.42" fill-opacity="0.51"/><circle cx="551.0" cy="284.8" r="0.42" fill-opacity="0.53"/><circle cx="554.3" cy="271.6" r="0.64" fill-opacity="0.74"/><circle cx="526.9" cy="262.2" r="0.55" fill-opacity="0.70"/><circle cx="521.2" cy="264.7" r="0.38" fill-opacity="0.89"/><circle cx="520.2" cy="265.9" r="0.38" fill-opacity="0.57"/><circle cx="522.4" cy="263.7" r="0.77" fill-opacity="0.53"/><circle cx="543.4" cy="286.6" r="0.55" fill-opacity="0.73"/><circle cx="554.0" cy="273.0" r="0.77" fill-opacity="0.76"/><circle cx="530.8" cy="279.3" r="0.55" fill-opacity="0.54"/><circle cx="525.7" cy="271.7" r="0.38" fill-opacity="0.73"/><circle cx="540.7" cy="281.6" r="0.34" fill-opacity="0.79"/><circle cx="530.7" cy="279.9" r="0.77" fill-opacity="0.53"/><circle cx="551.4" cy="276.7" r="0.47" fill-opacity="0.74"/><circle cx="537.9" cy="254.5" r="0.77" fill-opacity="0.66"/><circle cx="532.9" cy="260.0" r="0.77" fill-opacity="0.49"/><circle cx="543.8" cy="280.8" r="0.34" fill-opacity="0.69"/><circle cx="550.4" cy="257.5" r="0.42" fill-opacity="0.64"/><circle cx="528.2" cy="282.6" r="0.77" fill-opacity="0.79"/><circle cx="555.4" cy="263.2" r="0.47" fill-opacity="0.78"/><circle cx="518.4" cy="268.8" r="0.64" fill-opacity="0.47"/><circle cx="523.6" cy="276.7" r="0.34" fill-opacity="0.49"/><circle cx="528.8" cy="253.2" r="0.55" fill-opacity="0.79"/><circle cx="532.8" cy="258.0" r="0.64" fill-opacity="0.72"/><circle cx="521.6" cy="275.7" r="0.42" fill-opacity="0.60"/><circle cx="527.2" cy="264.0" r="0.30" fill-opacity="0.86"/><circle cx="542.4" cy="286.8" r="0.38" fill-opacity="0.89"/><circle cx="533.3" cy="286.4" r="0.55" fill-opacity="0.60"/><circle cx="519.6" cy="277.7" r="0.34" fill-opacity="0.47"/><circle cx="519.4" cy="271.2" r="0.55" fill-opacity="0.54"/><circle cx="525.4" cy="267.9" r="0.42" fill-opacity="0.66"/><circle cx="541.9" cy="250.9" r="0.34" fill-opacity="0.64"/><circle cx="554.6" cy="261.6" r="0.30" fill-opacity="0.47"/><circle cx="517.9" cy="268.1" r="0.47" fill-opacity="0.78"/><circle cx="542.2" cy="287.3" r="0.42" fill-opacity="0.88"/><circle cx="551.7" cy="279.0" r="0.34" fill-opacity="0.51"/><circle cx="533.9" cy="266.9" r="0.42" fill-opacity="0.86"/><circle cx="535.0" cy="276.5" r="0.34" fill-opacity="0.50"/><circle cx="539.1" cy="254.1" r="0.38" fill-opacity="0.66"/><circle cx="524.3" cy="257.7" r="0.77" fill-opacity="0.73"/><circle cx="535.9" cy="283.7" r="0.38" fill-opacity="0.65"/><circle cx="539.8" cy="250.1" r="0.30" fill-opacity="0.58"/><circle cx="534.2" cy="265.7" r="0.77" fill-opacity="0.82"/><circle cx="551.3" cy="261.1" r="0.55" fill-opacity="0.57"/><circle cx="541.7" cy="285.2" r="0.30" fill-opacity="0.62"/><circle cx="526.8" cy="282.0" r="0.38" fill-opacity="0.77"/><circle cx="541.9" cy="259.3" r="0.38" fill-opacity="0.45"/><circle cx="521.0" cy="258.5" r="0.38" fill-opacity="0.82"/><circle cx="539.1" cy="250.3" r="0.34" fill-opacity="0.70"/><circle cx="542.0" cy="286.0" r="0.55" fill-opacity="0.63"/><circle cx="521.6" cy="259.7" r="0.38" fill-opacity="0.89"/><circle cx="527.8" cy="285.2" r="0.47" fill-opacity="0.78"/><circle cx="554.2" cy="259.6" r="0.34" fill-opacity="0.79"/><circle cx="554.1" cy="266.0" r="0.55" fill-opacity="0.51"/><circle cx="540.2" cy="275.8" r="0.47" fill-opacity="0.85"/><circle cx="548.8" cy="270.4" r="0.34" fill-opacity="0.75"/><circle cx="543.8" cy="277.8" r="0.64" fill-opacity="0.61"/><circle cx="527.2" cy="258.4" r="0.34" fill-opacity="0.62"/><circle cx="537.2" cy="252.6" r="0.64" fill-opacity="0.73"/><circle cx="551.1" cy="272.4" r="0.42" fill-opacity="0.84"/><circle cx="552.9" cy="268.5" r="0.64" fill-opacity="0.73"/><circle cx="524.2" cy="257.0" r="0.30" fill-opacity="0.74"/><circle cx="537.1" cy="286.8" r="0.30" fill-opacity="0.48"/><circle cx="551.3" cy="263.0" r="0.64" fill-opacity="0.83"/><circle cx="546.7" cy="277.3" r="0.47" fill-opacity="0.76"/><circle cx="554.1" cy="264.7" r="0.55" fill-opacity="0.51"/><circle cx="554.1" cy="261.7" r="0.30" fill-opacity="0.77"/><circle cx="546.6" cy="253.1" r="0.30" fill-opacity="0.52"/><circle cx="541.6" cy="286.7" r="0.77" fill-opacity="0.80"/><circle cx="544.4" cy="287.7" r="0.55" fill-opacity="0.71"/><circle cx="528.6" cy="262.5" r="0.34" fill-opacity="0.78"/><circle cx="544.3" cy="284.5" r="0.77" fill-opacity="0.77"/><circle cx="528.9" cy="282.1" r="0.30" fill-opacity="0.47"/><circle cx="550.5" cy="277.7" r="0.42" fill-opacity="0.54"/><circle cx="538.1" cy="288.0" r="0.42" fill-opacity="0.58"/><circle cx="536.4" cy="250.8" r="0.47" fill-opacity="0.77"/><circle cx="544.3" cy="278.3" r="0.30" fill-opacity="0.61"/><circle cx="527.3" cy="260.5" r="0.64" fill-opacity="0.58"/><circle cx="555.8" cy="276.0" r="0.55" fill-opacity="0.51"/><circle cx="537.8" cy="253.9" r="0.77" fill-opacity="0.73"/><circle cx="553.1" cy="262.7" r="0.34" fill-opacity="0.75"/><circle cx="549.1" cy="281.5" r="0.77" fill-opacity="0.46"/><circle cx="520.3" cy="267.2" r="0.47" fill-opacity="0.56"/><circle cx="537.4" cy="257.7" r="0.55" fill-opacity="0.80"/><circle cx="525.9" cy="274.2" r="0.34" fill-opacity="0.67"/><circle cx="548.5" cy="263.4" r="0.47" fill-opacity="0.88"/><circle cx="527.2" cy="269.3" r="0.34" fill-opacity="0.73"/><circle cx="519.6" cy="273.9" r="0.55" fill-opacity="0.75"/><circle cx="525.4" cy="260.6" r="0.34" fill-opacity="0.48"/><circle cx="522.4" cy="282.6" r="0.30" fill-opacity="0.74"/><circle cx="554.2" cy="277.4" r="0.38" fill-opacity="0.84"/><circle cx="554.2" cy="261.4" r="0.55" fill-opacity="0.67"/><circle cx="536.3" cy="288.3" r="0.55" fill-opacity="0.76"/><circle cx="537.5" cy="259.7" r="0.77" fill-opacity="0.66"/><circle cx="549.8" cy="257.3" r="0.64" fill-opacity="0.59"/><circle cx="522.6" cy="264.7" r="0.30" fill-opacity="0.83"/><circle cx="541.8" cy="280.6" r="0.77" fill-opacity="0.61"/><circle cx="551.5" cy="270.1" r="0.77" fill-opacity="0.71"/><circle cx="541.4" cy="258.6" r="0.55" fill-opacity="0.64"/><circle cx="554.6" cy="266.5" r="0.64" fill-opacity="0.69"/><circle cx="532.4" cy="256.1" r="0.38" fill-opacity="0.56"/><circle cx="553.6" cy="262.9" r="0.34" fill-opacity="0.74"/><circle cx="543.6" cy="286.3" r="0.38" fill-opacity="0.62"/><circle cx="544.8" cy="261.9" r="0.77" fill-opacity="0.68"/><circle cx="546.5" cy="267.1" r="0.42" fill-opacity="0.63"/><circle cx="532.3" cy="260.3" r="0.55" fill-opacity="0.83"/><circle cx="528.9" cy="267.1" r="0.34" fill-opacity="0.61"/><circle cx="518.0" cy="274.7" r="0.34" fill-opacity="0.81"/><circle cx="522.9" cy="281.4" r="0.47" fill-opacity="0.55"/><circle cx="528.4" cy="254.3" r="0.77" fill-opacity="0.64"/><circle cx="536.9" cy="255.2" r="0.64" fill-opacity="0.88"/><circle cx="552.6" cy="261.5" r="0.42" fill-opacity="0.70"/><circle cx="548.2" cy="258.8" r="0.34" fill-opacity="0.52"/><circle cx="523.7" cy="258.9" r="0.42" fill-opacity="0.52"/><circle cx="550.8" cy="281.0" r="0.64" fill-opacity="0.70"/><circle cx="549.3" cy="281.5" r="0.34" fill-opacity="0.50"/><circle cx="552.3" cy="277.7" r="0.30" fill-opacity="0.72"/><circle cx="545.0" cy="252.6" r="0.55" fill-opacity="0.87"/><circle cx="519.7" cy="275.2" r="0.77" fill-opacity="0.64"/><circle cx="551.4" cy="282.0" r="0.77" fill-opacity="0.54"/><circle cx="536.9" cy="279.6" r="0.38" fill-opacity="0.89"/><circle cx="531.7" cy="284.2" r="0.47" fill-opacity="0.55"/><circle cx="530.3" cy="285.6" r="0.38" fill-opacity="0.45"/><circle cx="538.3" cy="255.6" r="0.55" fill-opacity="0.72"/><circle cx="530.8" cy="278.4" r="0.55" fill-opacity="0.79"/><circle cx="522.0" cy="272.1" r="0.34" fill-opacity="0.70"/><circle cx="549.3" cy="255.5" r="0.38" fill-opacity="0.79"/><circle cx="527.5" cy="258.0" r="0.55" fill-opacity="0.90"/><circle cx="532.4" cy="287.0" r="0.64" fill-opacity="0.67"/><circle cx="522.7" cy="282.9" r="0.47" fill-opacity="0.83"/><circle cx="530.9" cy="265.1" r="0.34" fill-opacity="0.78"/><circle cx="537.9" cy="280.9" r="0.64" fill-opacity="0.59"/><circle cx="526.7" cy="253.9" r="0.55" fill-opacity="0.73"/><circle cx="527.6" cy="260.5" r="0.38" fill-opacity="0.58"/><circle cx="525.8" cy="264.8" r="0.34" fill-opacity="0.85"/><circle cx="519.1" cy="274.6" r="0.77" fill-opacity="0.57"/><circle cx="537.7" cy="289.6" r="0.64" fill-opacity="0.80"/><circle cx="556.4" cy="265.2" r="0.38" fill-opacity="0.74"/><circle cx="530.5" cy="274.8" r="0.30" fill-opacity="0.59"/><circle cx="531.0" cy="260.6" r="0.55" fill-opacity="0.77"/><circle cx="542.5" cy="276.6" r="0.64" fill-opacity="0.55"/><circle cx="553.7" cy="263.0" r="0.77" fill-opacity="0.73"/><circle cx="540.3" cy="289.7" r="0.55" fill-opacity="0.68"/><circle cx="519.0" cy="272.5" r="0.42" fill-opacity="0.74"/><circle cx="525.1" cy="265.4" r="0.47" fill-opacity="0.62"/><circle cx="524.3" cy="285.2" r="0.55" fill-opacity="0.82"/><circle cx="538.7" cy="257.8" r="0.64" fill-opacity="0.69"/><circle cx="532.0" cy="264.4" r="0.64" fill-opacity="0.72"/><circle cx="524.8" cy="285.2" r="0.42" fill-opacity="0.63"/><circle cx="527.5" cy="266.9" r="0.47" fill-opacity="0.89"/><circle cx="518.2" cy="268.1" r="0.64" fill-opacity="0.69"/><circle cx="545.6" cy="279.3" r="0.38" fill-opacity="0.55"/><circle cx="527.1" cy="266.4" r="0.34" fill-opacity="0.66"/><circle cx="518.6" cy="271.8" r="0.42" fill-opacity="0.47"/><circle cx="522.4" cy="264.0" r="0.38" fill-opacity="0.90"/><circle cx="555.0" cy="274.1" r="0.64" fill-opacity="0.84"/><circle cx="528.5" cy="283.0" r="0.77" fill-opacity="0.63"/><circle cx="537.8" cy="286.0" r="0.38" fill-opacity="0.85"/><circle cx="535.7" cy="289.5" r="0.47" fill-opacity="0.71"/><circle cx="540.0" cy="289.2" r="0.64" fill-opacity="0.61"/><circle cx="542.5" cy="284.2" r="0.64" fill-opacity="0.54"/><circle cx="557.2" cy="273.0" r="0.64" fill-opacity="0.58"/><circle cx="526.1" cy="258.1" r="0.42" fill-opacity="0.86"/><circle cx="521.6" cy="265.5" r="0.55" fill-opacity="0.75"/><circle cx="551.6" cy="283.1" r="0.47" fill-opacity="0.55"/><circle cx="523.6" cy="273.8" r="0.42" fill-opacity="0.54"/><circle cx="524.9" cy="278.7" r="0.55" fill-opacity="0.85"/><circle cx="533.5" cy="251.3" r="0.42" fill-opacity="0.61"/><circle cx="547.2" cy="253.6" r="0.64" fill-opacity="0.68"/><circle cx="530.2" cy="265.5" r="0.38" fill-opacity="0.70"/><circle cx="540.1" cy="289.3" r="0.47" fill-opacity="0.90"/><circle cx="554.1" cy="265.9" r="0.64" fill-opacity="0.83"/><circle cx="536.3" cy="253.6" r="0.47" fill-opacity="0.55"/><circle cx="525.7" cy="269.4" r="0.77" fill-opacity="0.55"/><circle cx="519.6" cy="266.0" r="0.38" fill-opacity="0.47"/><circle cx="545.7" cy="271.7" r="0.77" fill-opacity="0.78"/><circle cx="542.8" cy="255.5" r="0.64" fill-opacity="0.59"/><circle cx="550.9" cy="263.2" r="0.38" fill-opacity="0.84"/><circle cx="534.9" cy="257.1" r="0.38" fill-opacity="0.81"/><circle cx="528.4" cy="281.6" r="0.34" fill-opacity="0.46"/><circle cx="529.7" cy="252.8" r="0.42" fill-opacity="0.59"/><circle cx="524.1" cy="259.4" r="0.34" fill-opacity="0.46"/><circle cx="538.4" cy="251.1" r="0.42" fill-opacity="0.54"/><circle cx="522.5" cy="259.0" r="0.77" fill-opacity="0.47"/><circle cx="522.6" cy="261.2" r="0.77" fill-opacity="0.52"/><circle cx="555.9" cy="264.4" r="0.34" fill-opacity="0.48"/><circle cx="551.5" cy="276.7" r="0.47" fill-opacity="0.63"/><circle cx="542.0" cy="289.6" r="0.55" fill-opacity="0.46"/><circle cx="552.7" cy="281.5" r="0.47" fill-opacity="0.49"/><circle cx="524.4" cy="270.0" r="0.42" fill-opacity="0.81"/><circle cx="534.7" cy="254.1" r="0.47" fill-opacity="0.84"/><circle cx="524.3" cy="268.1" r="0.55" fill-opacity="0.89"/><circle cx="541.2" cy="251.2" r="0.77" fill-opacity="0.53"/><circle cx="526.7" cy="277.2" r="0.38" fill-opacity="0.59"/><circle cx="532.3" cy="288.3" r="0.34" fill-opacity="0.90"/><circle cx="523.4" cy="260.4" r="0.38" fill-opacity="0.50"/><circle cx="552.6" cy="283.1" r="0.77" fill-opacity="0.69"/><circle cx="543.3" cy="285.0" r="0.38" fill-opacity="0.84"/><circle cx="522.4" cy="271.9" r="0.34" fill-opacity="0.78"/><circle cx="555.3" cy="273.7" r="0.55" fill-opacity="0.83"/><circle cx="528.4" cy="253.9" r="0.42" fill-opacity="0.57"/><circle cx="545.7" cy="279.6" r="0.77" fill-opacity="0.68"/><circle cx="530.5" cy="252.2" r="0.42" fill-opacity="0.49"/><circle cx="554.9" cy="264.7" r="0.30" fill-opacity="0.58"/><circle cx="519.8" cy="263.2" r="0.64" fill-opacity="0.72"/><circle cx="555.6" cy="271.6" r="0.64" fill-opacity="0.57"/><circle cx="527.3" cy="283.1" r="0.42" fill-opacity="0.51"/><circle cx="522.3" cy="283.3" r="0.64" fill-opacity="0.73"/><circle cx="553.7" cy="281.5" r="0.42" fill-opacity="0.73"/><circle cx="539.1" cy="253.1" r="0.77" fill-opacity="0.81"/><circle cx="535.2" cy="287.0" r="0.64" fill-opacity="0.61"/><circle cx="533.1" cy="263.1" r="0.38" fill-opacity="0.46"/><circle cx="529.2" cy="280.4" r="0.47" fill-opacity="0.57"/><circle cx="532.6" cy="286.4" r="0.55" fill-opacity="0.76"/><circle cx="522.5" cy="282.4" r="0.38" fill-opacity="0.57"/><circle cx="548.0" cy="262.9" r="0.64" fill-opacity="0.84"/><circle cx="526.9" cy="256.7" r="0.30" fill-opacity="0.63"/><circle cx="524.7" cy="256.4" r="0.47" fill-opacity="0.69"/><circle cx="528.7" cy="270.4" r="0.38" fill-opacity="0.77"/><circle cx="518.2" cy="270.0" r="0.34" fill-opacity="0.73"/><circle cx="526.8" cy="275.6" r="0.34" fill-opacity="0.73"/><circle cx="548.8" cy="272.3" r="0.47" fill-opacity="0.52"/><circle cx="527.8" cy="285.7" r="0.30" fill-opacity="0.59"/><circle cx="525.5" cy="283.8" r="0.38" fill-opacity="0.48"/><circle cx="537.8" cy="290.2" r="0.55" fill-opacity="0.83"/><circle cx="530.8" cy="256.3" r="0.42" fill-opacity="0.55"/><circle cx="527.3" cy="282.3" r="0.47" fill-opacity="0.77"/><circle cx="544.3" cy="265.5" r="0.38" fill-opacity="0.79"/><circle cx="536.4" cy="274.3" r="0.42" fill-opacity="0.58"/><circle cx="540.7" cy="274.8" r="0.34" fill-opacity="0.54"/><circle cx="550.8" cy="282.8" r="0.77" fill-opacity="0.82"/><circle cx="527.0" cy="259.2" r="0.42" fill-opacity="0.86"/><circle cx="550.1" cy="262.0" r="0.30" fill-opacity="0.73"/><circle cx="524.4" cy="257.8" r="0.42" fill-opacity="0.72"/><circle cx="523.4" cy="261.3" r="0.55" fill-opacity="0.85"/><circle cx="552.1" cy="256.4" r="0.55" fill-opacity="0.58"/><circle cx="526.8" cy="274.0" r="0.30" fill-opacity="0.74"/><circle cx="520.2" cy="260.8" r="0.64" fill-opacity="0.89"/><circle cx="556.2" cy="268.3" r="0.55" fill-opacity="0.71"/><circle cx="524.0" cy="268.6" r="0.64" fill-opacity="0.78"/><circle cx="533.1" cy="265.0" r="0.30" fill-opacity="0.48"/><circle cx="524.5" cy="262.5" r="0.64" fill-opacity="0.57"/><circle cx="547.1" cy="253.5" r="0.34" fill-opacity="0.79"/><circle cx="529.2" cy="270.8" r="0.30" fill-opacity="0.62"/><circle cx="554.5" cy="259.6" r="0.38" fill-opacity="0.59"/><circle cx="551.9" cy="276.7" r="0.30" fill-opacity="0.45"/><circle cx="545.6" cy="288.3" r="0.34" fill-opacity="0.63"/><circle cx="557.4" cy="272.1" r="0.77" fill-opacity="0.71"/><circle cx="557.3" cy="269.6" r="0.38" fill-opacity="0.83"/><circle cx="521.6" cy="281.8" r="0.55" fill-opacity="0.82"/><circle cx="546.7" cy="255.5" r="0.38" fill-opacity="0.87"/><circle cx="551.2" cy="256.1" r="0.38" fill-opacity="0.80"/><circle cx="536.0" cy="258.0" r="0.77" fill-opacity="0.58"/><circle cx="556.6" cy="267.1" r="0.77" fill-opacity="0.64"/><circle cx="547.6" cy="270.9" r="0.47" fill-opacity="0.51"/><circle cx="536.7" cy="272.1" r="0.38" fill-opacity="0.64"/><circle cx="545.5" cy="286.5" r="0.55" fill-opacity="0.70"/><circle cx="543.6" cy="254.4" r="0.55" fill-opacity="0.63"/><circle cx="527.0" cy="269.2" r="0.47" fill-opacity="0.55"/><circle cx="548.5" cy="254.6" r="0.55" fill-opacity="0.76"/><circle cx="518.3" cy="276.2" r="0.77" fill-opacity="0.60"/><circle cx="555.7" cy="277.8" r="0.30" fill-opacity="0.78"/><circle cx="541.7" cy="277.8" r="0.77" fill-opacity="0.87"/><circle cx="530.1" cy="263.3" r="0.42" fill-opacity="0.87"/><circle cx="546.1" cy="287.5" r="0.34" fill-opacity="0.89"/><circle cx="547.7" cy="272.3" r="0.30" fill-opacity="0.88"/><circle cx="539.1" cy="255.0" r="0.42" fill-opacity="0.52"/><circle cx="546.4" cy="261.7" r="0.55" fill-opacity="0.51"/><circle cx="552.9" cy="272.5" r="0.38" fill-opacity="0.60"/><circle cx="540.2" cy="257.5" r="0.77" fill-opacity="0.48"/><circle cx="520.6" cy="280.5" r="0.30" fill-opacity="0.66"/><circle cx="542.9" cy="288.5" r="0.30" fill-opacity="0.61"/><circle cx="528.8" cy="253.3" r="0.42" fill-opacity="0.50"/><circle cx="523.0" cy="277.3" r="0.47" fill-opacity="0.88"/><circle cx="520.6" cy="262.4" r="0.77" fill-opacity="0.61"/><circle cx="527.8" cy="282.0" r="0.77" fill-opacity="0.66"/><circle cx="517.8" cy="267.6" r="0.42" fill-opacity="0.53"/><circle cx="554.2" cy="261.8" r="0.47" fill-opacity="0.59"/><circle cx="545.7" cy="265.9" r="0.47" fill-opacity="0.78"/><circle cx="523.6" cy="281.4" r="0.55" fill-opacity="0.61"/><circle cx="550.7" cy="274.4" r="0.55" fill-opacity="0.72"/><circle cx="533.2" cy="261.5" r="0.47" fill-opacity="0.88"/><circle cx="548.1" cy="254.4" r="0.30" fill-opacity="0.50"/><circle cx="553.9" cy="260.0" r="0.34" fill-opacity="0.83"/><circle cx="537.9" cy="286.5" r="0.77" fill-opacity="0.89"/><circle cx="531.2" cy="283.7" r="0.34" fill-opacity="0.86"/><circle cx="539.8" cy="252.5" r="0.30" fill-opacity="0.79"/><circle cx="541.5" cy="256.5" r="0.47" fill-opacity="0.80"/><circle cx="542.8" cy="260.1" r="0.30" fill-opacity="0.49"/><circle cx="551.9" cy="276.6" r="0.77" fill-opacity="0.63"/><circle cx="525.9" cy="269.4" r="0.64" fill-opacity="0.81"/><circle cx="529.0" cy="270.9" r="0.64" fill-opacity="0.66"/><circle cx="526.1" cy="258.6" r="0.64" fill-opacity="0.84"/><circle cx="551.7" cy="273.1" r="0.42" fill-opacity="0.69"/><circle cx="544.1" cy="251.3" r="0.77" fill-opacity="0.69"/><circle cx="542.9" cy="251.5" r="0.30" fill-opacity="0.59"/><circle cx="548.0" cy="255.8" r="0.42" fill-opacity="0.73"/><circle cx="536.0" cy="258.5" r="0.77" fill-opacity="0.66"/><circle cx="537.3" cy="277.7" r="0.77" fill-opacity="0.52"/><circle cx="525.4" cy="277.9" r="0.38" fill-opacity="0.72"/><circle cx="534.7" cy="277.1" r="0.30" fill-opacity="0.77"/><circle cx="529.6" cy="276.5" r="0.30" fill-opacity="0.52"/><circle cx="556.7" cy="264.1" r="0.30" fill-opacity="0.81"/><circle cx="552.4" cy="266.0" r="0.34" fill-opacity="0.57"/><circle cx="534.7" cy="257.7" r="0.55" fill-opacity="0.58"/><circle cx="522.3" cy="274.3" r="0.34" fill-opacity="0.81"/><circle cx="519.7" cy="261.8" r="0.34" fill-opacity="0.64"/><circle cx="536.1" cy="282.7" r="0.30" fill-opacity="0.85"/><circle cx="527.7" cy="275.3" r="0.30" fill-opacity="0.49"/><circle cx="527.4" cy="281.9" r="0.64" fill-opacity="0.85"/><circle cx="528.4" cy="267.7" r="0.77" fill-opacity="0.80"/><circle cx="554.1" cy="278.1" r="0.55" fill-opacity="0.50"/></g>
</g>
<clipPath id="cp7"><rect x="563.2" y="244.9" width="52.60" height="54.00"/></clipPath>
<radialGradient id="dg7" cx="0.5" cy="0.5" r="0.5"><stop offset="0" stop-color="#dedbe6"/><stop offset="0.6" stop-color="#d4d0e2"/><stop offset="1" stop-color="#b6b2d0"/></radialGradient>
<radialGradient id="dr7" cx="0.5" cy="0.5" r="0.5"><stop offset="0.8" stop-color="#7a6fb0" stop-opacity="0"/><stop offset="0.96" stop-color="#7a6fb0" stop-opacity="0.55"/><stop offset="1" stop-color="#6a5fa4" stop-opacity="0.8"/></radialGradient>
<g clip-path="url(#cp7)" filter="url(#sat)">
<rect x="563.2" y="244.9" width="52.60" height="54.00" fill="#c9c9b6"/>
<circle cx="589.50" cy="271.50" r="26.5" fill="#c9c6ce" stroke="#8a8a9c" stroke-width="1.1"/>
<circle cx="589.50" cy="271.50" r="24.8" fill="none" stroke="#f0f0f4" stroke-width="1.0" opacity="0.75" stroke-dasharray="20,9,14,12"/>
<circle cx="589.50" cy="271.50" r="23.3" fill="none" stroke="#9a98aa" stroke-width="0.6" opacity="0.6"/>
<path d="M566.98,283.43 A24.0,24.0 0 0 0 605.40,290.58" fill="none" stroke="#f4f4f8" stroke-width="2.2" opacity="0.55" filter="url(#bl2)"/>
<circle cx="590.40" cy="275.00" r="23.0" fill="url(#dg7)"/>
<circle cx="590.40" cy="275.00" r="23.0" fill="url(#dr7)"/>
<g fill="#54369a" filter="url(#bl3)"><circle cx="584.9" cy="294.3" r="0.28" fill-opacity="0.56"/><circle cx="595.8" cy="288.1" r="0.60" fill-opacity="0.83"/><circle cx="568.9" cy="272.9" r="0.44" fill-opacity="0.61"/><circle cx="604.6" cy="287.2" r="0.28" fill-opacity="0.64"/><circle cx="604.8" cy="285.9" r="0.44" fill-opacity="0.54"/><circle cx="610.4" cy="285.1" r="0.52" fill-opacity="0.64"/><circle cx="602.7" cy="270.9" r="0.32" fill-opacity="0.45"/><circle cx="584.7" cy="253.3" r="0.52" fill-opacity="0.53"/><circle cx="600.8" cy="292.2" r="0.36" fill-opacity="0.70"/><circle cx="572.6" cy="274.2" r="0.28" fill-opacity="0.72"/><circle cx="602.6" cy="269.0" r="0.72" fill-opacity="0.60"/><circle cx="585.5" cy="254.5" r="0.40" fill-opacity="0.63"/><circle cx="580.9" cy="254.9" r="0.44" fill-opacity="0.84"/><circle cx="572.1" cy="271.6" r="0.72" fill-opacity="0.53"/><circle cx="582.1" cy="281.4" r="0.36" fill-opacity="0.68"/><circle cx="602.0" cy="260.0" r="0.32" fill-opacity="0.60"/><circle cx="605.7" cy="258.9" r="0.44" fill-opacity="0.49"/><circle cx="583.3" cy="295.0" r="0.52" fill-opacity="0.51"/><circle cx="575.0" cy="280.6" r="0.72" fill-opacity="0.49"/><circle cx="607.2" cy="268.9" r="0.32" fill-opacity="0.64"/><circle cx="597.4" cy="259.1" r="0.32" fill-opacity="0.55"/><circle cx="593.9" cy="283.2" r="0.60" fill-opacity="0.51"/><circle cx="601.9" cy="271.9" r="0.28" fill-opacity="0.57"/><circle cx="572.2" cy="264.9" r="0.44" fill-opacity="0.79"/><circle cx="589.6" cy="262.2" r="0.32" fill-opacity="0.54"/><circle cx="580.4" cy="263.0" r="0.32" fill-opacity="0.72"/><circle cx="577.5" cy="283.7" r="0.44" fill-opacity="0.82"/><circle cx="586.0" cy="293.7" r="0.36" fill-opacity="0.89"/><circle cx="603.0" cy="285.9" r="0.28" fill-opacity="0.68"/><circle cx="574.2" cy="290.0" r="0.40" fill-opacity="0.76"/><circle cx="580.0" cy="285.1" r="0.40" fill-opacity="0.74"/><circle cx="569.5" cy="279.4" r="0.44" fill-opacity="0.68"/><circle cx="580.0" cy="265.3" r="0.72" fill-opacity="0.79"/><circle cx="603.5" cy="265.1" r="0.28" fill-opacity="0.73"/><circle cx="593.7" cy="263.4" r="0.72" fill-opacity="0.67"/><circle cx="571.7" cy="276.1" r="0.40" fill-opacity="0.79"/><circle cx="607.7" cy="265.5" r="0.60" fill-opacity="0.55"/><circle cx="605.3" cy="290.9" r="0.32" fill-opacity="0.58"/><circle cx="594.7" cy="257.3" r="0.52" fill-opacity="0.89"/><circle cx="586.4" cy="261.1" r="0.44" fill-opacity="0.68"/><circle cx="599.5" cy="290.5" r="0.60" fill-opacity="0.74"/><circle cx="577.0" cy="262.5" r="0.28" fill-opacity="0.61"/><circle cx="608.1" cy="283.8" r="0.32" fill-opacity="0.83"/><circle cx="584.9" cy="276.6" r="0.44" fill-opacity="0.47"/><circle cx="611.7" cy="270.7" r="0.32" fill-opacity="0.67"/><circle cx="607.5" cy="278.8" r="0.32" fill-opacity="0.78"/><circle cx="611.5" cy="275.5" r="0.72" fill-opacity="0.83"/><circle cx="589.4" cy="286.2" r="0.28" fill-opacity="0.88"/><circle cx="596.6" cy="293.0" r="0.40" fill-opacity="0.82"/><circle cx="575.9" cy="289.1" r="0.60" fill-opacity="0.66"/><circle cx="583.6" cy="285.2" r="0.72" fill-opacity="0.52"/><circle cx="571.9" cy="271.3" r="0.52" fill-opacity="0.59"/><circle cx="584.6" cy="258.9" r="0.52" fill-opacity="0.67"/><circle cx="593.0" cy="294.2" r="0.32" fill-opacity="0.77"/><circle cx="578.2" cy="290.9" r="0.36" fill-opacity="0.63"/><circle cx="606.1" cy="270.8" r="0.40" fill-opacity="0.68"/><circle cx="575.1" cy="271.7" r="0.32" fill-opacity="0.81"/><circle cx="607.3" cy="267.2" r="0.60" fill-opacity="0.70"/><circle cx="609.9" cy="273.0" r="0.40" fill-opacity="0.88"/><circle cx="570.1" cy="280.7" r="0.40" fill-opacity="0.46"/><circle cx="596.1" cy="294.5" r="0.60" fill-opacity="0.59"/><circle cx="608.0" cy="278.7" r="0.60" fill-opacity="0.82"/><circle cx="571.6" cy="272.0" r="0.72" fill-opacity="0.70"/><circle cx="572.7" cy="278.5" r="0.60" fill-opacity="0.61"/><circle cx="600.4" cy="290.4" r="0.32" fill-opacity="0.69"/><circle cx="594.8" cy="255.6" r="0.72" fill-opacity="0.59"/><circle cx="606.6" cy="273.8" r="0.28" fill-opacity="0.72"/><circle cx="597.6" cy="282.7" r="0.52" fill-opacity="0.77"/><circle cx="575.8" cy="268.3" r="0.32" fill-opacity="0.68"/><circle cx="598.4" cy="283.4" r="0.40" fill-opacity="0.66"/><circle cx="598.9" cy="289.6" r="0.40" fill-opacity="0.54"/><circle cx="576.9" cy="272.4" r="0.40" fill-opacity="0.68"/><circle cx="597.1" cy="256.0" r="0.36" fill-opacity="0.74"/><circle cx="606.9" cy="283.2" r="0.72" fill-opacity="0.74"/><circle cx="606.8" cy="288.4" r="0.36" fill-opacity="0.88"/><circle cx="574.8" cy="261.6" r="0.32" fill-opacity="0.69"/><circle cx="601.5" cy="263.5" r="0.72" fill-opacity="0.57"/><circle cx="572.2" cy="272.8" r="0.72" fill-opacity="0.74"/><circle cx="570.2" cy="276.7" r="0.40" fill-opacity="0.58"/><circle cx="592.7" cy="297.1" r="0.40" fill-opacity="0.83"/><circle cx="587.4" cy="257.4" r="0.44" fill-opacity="0.48"/><circle cx="590.6" cy="252.9" r="0.32" fill-opacity="0.66"/><circle cx="589.9" cy="253.6" r="0.36" fill-opacity="0.78"/><circle cx="592.3" cy="256.3" r="0.44" fill-opacity="0.60"/><circle cx="603.7" cy="284.5" r="0.60" fill-opacity="0.58"/><circle cx="596.6" cy="287.4" r="0.44" fill-opacity="0.81"/><circle cx="596.1" cy="261.3" r="0.40" fill-opacity="0.72"/><circle cx="606.1" cy="262.8" r="0.40" fill-opacity="0.65"/><circle cx="571.1" cy="284.7" r="0.72" fill-opacity="0.59"/><circle cx="577.3" cy="273.9" r="0.52" fill-opacity="0.56"/><circle cx="585.9" cy="293.3" r="0.28" fill-opacity="0.49"/><circle cx="607.6" cy="261.4" r="0.28" fill-opacity="0.61"/><circle cx="584.5" cy="258.9" r="0.40" fill-opacity="0.80"/><circle cx="584.0" cy="289.6" r="0.28" fill-opacity="0.76"/><circle cx="580.5" cy="264.9" r="0.28" fill-opacity="0.86"/><circle cx="609.4" cy="286.8" r="0.72" fill-opacity="0.89"/><circle cx="582.6" cy="295.1" r="0.72" fill-opacity="0.73"/><circle cx="573.4" cy="285.0" r="0.52" fill-opacity="0.60"/><circle cx="596.6" cy="295.9" r="0.36" fill-opacity="0.54"/><circle cx="583.7" cy="288.1" r="0.60" fill-opacity="0.64"/><circle cx="597.6" cy="266.9" r="0.36" fill-opacity="0.57"/><circle cx="601.8" cy="289.4" r="0.72" fill-opacity="0.65"/><circle cx="571.3" cy="273.6" r="0.28" fill-opacity="0.86"/><circle cx="569.7" cy="270.8" r="0.40" fill-opacity="0.83"/><circle cx="593.3" cy="253.7" r="0.28" fill-opacity="0.60"/><circle cx="584.6" cy="296.4" r="0.32" fill-opacity="0.47"/><circle cx="608.2" cy="288.8" r="0.52" fill-opacity="0.60"/><circle cx="592.0" cy="258.6" r="0.72" fill-opacity="0.71"/><circle cx="607.7" cy="281.7" r="0.32" fill-opacity="0.86"/><circle cx="602.3" cy="278.7" r="0.36" fill-opacity="0.59"/><circle cx="590.4" cy="289.8" r="0.44" fill-opacity="0.66"/><circle cx="595.6" cy="287.5" r="0.40" fill-opacity="0.69"/><circle cx="579.5" cy="256.3" r="0.72" fill-opacity="0.46"/><circle cx="587.7" cy="288.7" r="0.52" fill-opacity="0.62"/><circle cx="584.4" cy="293.1" r="0.72" fill-opacity="0.66"/><circle cx="598.4" cy="293.2" r="0.36" fill-opacity="0.86"/><circle cx="595.6" cy="290.4" r="0.52" fill-opacity="0.55"/><circle cx="581.1" cy="294.2" r="0.72" fill-opacity="0.85"/><circle cx="598.9" cy="257.5" r="0.72" fill-opacity="0.49"/><circle cx="591.5" cy="288.3" r="0.32" fill-opacity="0.47"/><circle cx="570.2" cy="265.5" r="0.32" fill-opacity="0.65"/><circle cx="578.6" cy="260.4" r="0.28" fill-opacity="0.64"/><circle cx="573.9" cy="272.8" r="0.52" fill-opacity="0.51"/><circle cx="572.5" cy="274.8" r="0.44" fill-opacity="0.62"/><circle cx="576.6" cy="257.3" r="0.36" fill-opacity="0.68"/><circle cx="580.1" cy="293.1" r="0.32" fill-opacity="0.61"/><circle cx="571.7" cy="263.2" r="0.32" fill-opacity="0.58"/><circle cx="607.5" cy="273.6" r="0.52" fill-opacity="0.51"/><circle cx="587.9" cy="292.6" r="0.44" fill-opacity="0.84"/><circle cx="608.3" cy="284.3" r="0.52" fill-opacity="0.86"/><circle cx="595.3" cy="264.7" r="0.44" fill-opacity="0.83"/><circle cx="582.6" cy="295.7" r="0.32" fill-opacity="0.80"/><circle cx="573.4" cy="262.1" r="0.60" fill-opacity="0.48"/><circle cx="584.4" cy="293.3" r="0.36" fill-opacity="0.86"/><circle cx="595.0" cy="258.9" r="0.52" fill-opacity="0.71"/><circle cx="587.2" cy="258.5" r="0.52" fill-opacity="0.63"/><circle cx="577.6" cy="268.8" r="0.28" fill-opacity="0.80"/><circle cx="582.1" cy="258.0" r="0.32" fill-opacity="0.56"/><circle cx="574.6" cy="260.1" r="0.52" fill-opacity="0.53"/><circle cx="607.2" cy="276.7" r="0.52" fill-opacity="0.58"/><circle cx="602.6" cy="277.3" r="0.28" fill-opacity="0.77"/><circle cx="588.1" cy="288.7" r="0.72" fill-opacity="0.59"/><circle cx="596.7" cy="284.6" r="0.60" fill-opacity="0.74"/><circle cx="577.9" cy="274.0" r="0.36" fill-opacity="0.58"/><circle cx="590.1" cy="292.5" r="0.32" fill-opacity="0.49"/><circle cx="572.3" cy="286.2" r="0.40" fill-opacity="0.48"/><circle cx="592.0" cy="286.3" r="0.40" fill-opacity="0.65"/><circle cx="601.4" cy="294.0" r="0.60" fill-opacity="0.65"/><circle cx="588.8" cy="293.4" r="0.60" fill-opacity="0.86"/><circle cx="573.2" cy="269.8" r="0.72" fill-opacity="0.49"/><circle cx="599.5" cy="257.1" r="0.32" fill-opacity="0.53"/><circle cx="585.1" cy="281.5" r="0.28" fill-opacity="0.66"/><circle cx="578.8" cy="272.5" r="0.44" fill-opacity="0.49"/><circle cx="579.1" cy="294.1" r="0.28" fill-opacity="0.75"/><circle cx="571.5" cy="281.3" r="0.32" fill-opacity="0.81"/><circle cx="611.6" cy="280.0" r="0.72" fill-opacity="0.72"/><circle cx="580.1" cy="293.3" r="0.44" fill-opacity="0.84"/><circle cx="573.7" cy="268.8" r="0.28" fill-opacity="0.80"/><circle cx="611.4" cy="279.9" r="0.32" fill-opacity="0.60"/><circle cx="597.4" cy="289.2" r="0.40" fill-opacity="0.61"/><circle cx="590.8" cy="287.4" r="0.36" fill-opacity="0.54"/><circle cx="600.7" cy="267.8" r="0.32" fill-opacity="0.79"/><circle cx="595.9" cy="291.0" r="0.32" fill-opacity="0.65"/><circle cx="605.4" cy="260.6" r="0.44" fill-opacity="0.88"/><circle cx="612.7" cy="275.8" r="0.36" fill-opacity="0.59"/><circle cx="588.8" cy="288.9" r="0.40" fill-opacity="0.84"/><circle cx="577.9" cy="283.5" r="0.40" fill-opacity="0.64"/><circle cx="588.1" cy="254.5" r="0.44" fill-opacity="0.83"/><circle cx="597.2" cy="270.6" r="0.44" fill-opacity="0.75"/><circle cx="597.7" cy="267.0" r="0.60" fill-opacity="0.79"/><circle cx="582.3" cy="289.0" r="0.28" fill-opacity="0.67"/><circle cx="597.2" cy="290.5" r="0.60" fill-opacity="0.68"/><circle cx="588.3" cy="261.6" r="0.32" fill-opacity="0.85"/><circle cx="583.1" cy="287.6" r="0.40" fill-opacity="0.52"/><circle cx="608.7" cy="279.2" r="0.36" fill-opacity="0.80"/><circle cx="591.6" cy="282.1" r="0.52" fill-opacity="0.48"/><circle cx="584.6" cy="281.3" r="0.44" fill-opacity="0.71"/><circle cx="586.6" cy="270.6" r="0.36" fill-opacity="0.72"/><circle cx="581.4" cy="255.4" r="0.52" fill-opacity="0.71"/><circle cx="603.2" cy="282.7" r="0.52" fill-opacity="0.61"/><circle cx="584.4" cy="263.8" r="0.72" fill-opacity="0.72"/><circle cx="593.5" cy="269.9" r="0.44" fill-opacity="0.81"/><circle cx="594.2" cy="295.7" r="0.40" fill-opacity="0.57"/><circle cx="607.8" cy="271.0" r="0.28" fill-opacity="0.68"/><circle cx="586.0" cy="278.4" r="0.36" fill-opacity="0.81"/><circle cx="592.6" cy="277.8" r="0.36" fill-opacity="0.55"/><circle cx="569.1" cy="280.6" r="0.72" fill-opacity="0.51"/><circle cx="603.8" cy="260.9" r="0.44" fill-opacity="0.64"/><circle cx="602.6" cy="287.6" r="0.60" fill-opacity="0.58"/><circle cx="577.6" cy="278.5" r="0.28" fill-opacity="0.64"/><circle cx="583.2" cy="295.1" r="0.60" fill-opacity="0.89"/><circle cx="572.5" cy="262.7" r="0.52" fill-opacity="0.47"/><circle cx="573.9" cy="277.7" r="0.36" fill-opacity="0.73"/><circle cx="601.8" cy="256.2" r="0.36" fill-opacity="0.47"/><circle cx="600.5" cy="262.4" r="0.72" fill-opacity="0.62"/><circle cx="594.7" cy="270.4" r="0.36" fill-opacity="0.47"/><circle cx="578.4" cy="288.9" r="0.36" fill-opacity="0.71"/><circle cx="571.3" cy="285.9" r="0.52" fill-opacity="0.89"/><circle cx="603.4" cy="293.3" r="0.52" fill-opacity="0.70"/><circle cx="569.4" cy="274.7" r="0.52" fill-opacity="0.77"/><circle cx="593.5" cy="294.1" r="0.44" fill-opacity="0.70"/><circle cx="594.4" cy="289.5" r="0.36" fill-opacity="0.64"/><circle cx="584.7" cy="295.6" r="0.52" fill-opacity="0.83"/><circle cx="606.3" cy="286.2" r="0.72" fill-opacity="0.60"/><circle cx="572.5" cy="280.4" r="0.72" fill-opacity="0.80"/><circle cx="584.6" cy="259.2" r="0.72" fill-opacity="0.64"/><circle cx="602.5" cy="288.1" r="0.44" fill-opacity="0.57"/><circle cx="605.6" cy="267.8" r="0.44" fill-opacity="0.53"/><circle cx="602.4" cy="258.2" r="0.36" fill-opacity="0.51"/><circle cx="597.2" cy="288.5" r="0.36" fill-opacity="0.59"/><circle cx="605.7" cy="284.1" r="0.40" fill-opacity="0.68"/><circle cx="607.3" cy="266.1" r="0.36" fill-opacity="0.57"/><circle cx="596.2" cy="262.0" r="0.72" fill-opacity="0.82"/><circle cx="575.6" cy="258.1" r="0.40" fill-opacity="0.75"/><circle cx="578.9" cy="279.0" r="0.60" fill-opacity="0.66"/><circle cx="578.5" cy="262.8" r="0.40" fill-opacity="0.60"/><circle cx="581.3" cy="291.7" r="0.28" fill-opacity="0.73"/><circle cx="569.6" cy="279.7" r="0.32" fill-opacity="0.68"/><circle cx="587.1" cy="295.6" r="0.32" fill-opacity="0.89"/><circle cx="609.6" cy="267.1" r="0.72" fill-opacity="0.71"/><circle cx="585.9" cy="287.1" r="0.44" fill-opacity="0.64"/><circle cx="575.6" cy="286.8" r="0.36" fill-opacity="0.89"/><circle cx="578.4" cy="266.7" r="0.28" fill-opacity="0.50"/><circle cx="602.1" cy="272.9" r="0.52" fill-opacity="0.57"/><circle cx="592.0" cy="271.2" r="0.52" fill-opacity="0.89"/><circle cx="591.0" cy="292.3" r="0.52" fill-opacity="0.63"/><circle cx="599.4" cy="273.2" r="0.36" fill-opacity="0.59"/><circle cx="610.7" cy="278.4" r="0.72" fill-opacity="0.73"/><circle cx="595.2" cy="295.1" r="0.52" fill-opacity="0.65"/><circle cx="591.9" cy="296.5" r="0.40" fill-opacity="0.74"/><circle cx="568.1" cy="277.3" r="0.32" fill-opacity="0.89"/><circle cx="611.9" cy="269.5" r="0.60" fill-opacity="0.81"/><circle cx="593.1" cy="266.1" r="0.36" fill-opacity="0.53"/><circle cx="599.9" cy="268.3" r="0.36" fill-opacity="0.65"/><circle cx="591.5" cy="257.1" r="0.44" fill-opacity="0.88"/><circle cx="609.2" cy="285.8" r="0.28" fill-opacity="0.47"/><circle cx="607.2" cy="268.3" r="0.28" fill-opacity="0.63"/><circle cx="593.8" cy="293.1" r="0.60" fill-opacity="0.84"/><circle cx="612.3" cy="274.5" r="0.28" fill-opacity="0.82"/><circle cx="606.0" cy="277.0" r="0.32" fill-opacity="0.77"/><circle cx="576.5" cy="288.5" r="0.28" fill-opacity="0.49"/><circle cx="586.0" cy="268.8" r="0.44" fill-opacity="0.85"/><circle cx="583.3" cy="284.4" r="0.60" fill-opacity="0.77"/><circle cx="603.4" cy="273.9" r="0.32" fill-opacity="0.64"/><circle cx="593.8" cy="257.4" r="0.28" fill-opacity="0.59"/><circle cx="576.3" cy="265.0" r="0.28" fill-opacity="0.49"/><circle cx="599.2" cy="295.4" r="0.32" fill-opacity="0.64"/><circle cx="586.2" cy="261.6" r="0.28" fill-opacity="0.73"/><circle cx="601.8" cy="280.2" r="0.36" fill-opacity="0.53"/><circle cx="577.9" cy="278.7" r="0.44" fill-opacity="0.81"/></g>
</g>
<clipPath id="cp8"><rect x="627.2" y="244.1" width="55.50" height="54.00"/></clipPath>
<radialGradient id="dg8" cx="0.5" cy="0.5" r="0.5"><stop offset="0" stop-color="#dedbe6"/><stop offset="0.6" stop-color="#d4d0e2"/><stop offset="1" stop-color="#b6b2d0"/></radialGradient>
<radialGradient id="dr8" cx="0.5" cy="0.5" r="0.5"><stop offset="0.8" stop-color="#7a6fb0" stop-opacity="0"/><stop offset="0.96" stop-color="#7a6fb0" stop-opacity="0.55"/><stop offset="1" stop-color="#6a5fa4" stop-opacity="0.8"/></radialGradient>
<g clip-path="url(#cp8)" filter="url(#sat)">
<rect x="627.2" y="244.1" width="55.50" height="54.00" fill="#c9c9b6"/>
<circle cx="655.00" cy="271.00" r="27.0" fill="#c9c6ce" stroke="#8a8a9c" stroke-width="1.1"/>
<circle cx="655.00" cy="271.00" r="25.3" fill="none" stroke="#f0f0f4" stroke-width="1.0" opacity="0.75" stroke-dasharray="20,9,14,12"/>
<circle cx="655.00" cy="271.00" r="23.8" fill="none" stroke="#9a98aa" stroke-width="0.6" opacity="0.6"/>
<path d="M632.05,283.15 A24.5,24.5 0 0 0 671.20,290.44" fill="none" stroke="#f4f4f8" stroke-width="2.2" opacity="0.55" filter="url(#bl2)"/>
<circle cx="647.80" cy="275.50" r="20.7" fill="url(#dg8)"/>
<circle cx="647.80" cy="275.50" r="20.7" fill="url(#dr8)"/>
<g fill="#54369a" filter="url(#bl3)"><circle cx="638.9" cy="288.1" r="0.79" fill-opacity="0.48"/><circle cx="639.7" cy="263.7" r="0.40" fill-opacity="0.49"/><circle cx="656.1" cy="267.1" r="0.60" fill-opacity="0.86"/><circle cx="639.3" cy="266.5" r="0.60" fill-opacity="0.86"/><circle cx="628.2" cy="274.8" r="0.40" fill-opacity="0.78"/><circle cx="665.5" cy="267.6" r="0.36" fill-opacity="0.58"/><circle cx="629.9" cy="271.8" r="0.40" fill-opacity="0.84"/><circle cx="664.3" cy="280.7" r="0.28" fill-opacity="0.55"/><circle cx="645.1" cy="260.8" r="0.50" fill-opacity="0.65"/><circle cx="664.3" cy="265.1" r="1.30" fill-opacity="0.88"/><circle cx="661.4" cy="270.6" r="0.44" fill-opacity="0.72"/><circle cx="650.7" cy="291.5" r="0.40" fill-opacity="0.49"/><circle cx="641.4" cy="256.6" r="0.40" fill-opacity="0.62"/><circle cx="658.2" cy="259.5" r="0.52" fill-opacity="0.75"/><circle cx="661.1" cy="263.2" r="0.40" fill-opacity="0.60"/><circle cx="654.7" cy="283.4" r="0.52" fill-opacity="0.61"/><circle cx="628.9" cy="281.3" r="0.72" fill-opacity="0.45"/><circle cx="633.9" cy="272.0" r="0.28" fill-opacity="0.48"/><circle cx="651.1" cy="275.6" r="0.40" fill-opacity="0.62"/><circle cx="653.1" cy="271.1" r="0.72" fill-opacity="0.56"/><circle cx="635.6" cy="279.1" r="0.60" fill-opacity="0.46"/><circle cx="657.3" cy="281.5" r="0.28" fill-opacity="0.58"/><circle cx="637.5" cy="281.9" r="0.36" fill-opacity="0.70"/><circle cx="641.4" cy="292.9" r="0.72" fill-opacity="0.71"/><circle cx="643.4" cy="291.6" r="0.72" fill-opacity="0.56"/><circle cx="642.9" cy="257.3" r="0.44" fill-opacity="0.82"/><circle cx="667.9" cy="275.8" r="0.28" fill-opacity="0.64"/><circle cx="650.2" cy="259.1" r="0.94" fill-opacity="0.85"/><circle cx="634.1" cy="289.9" r="0.94" fill-opacity="0.50"/><circle cx="633.8" cy="262.8" r="0.72" fill-opacity="0.82"/><circle cx="638.1" cy="275.7" r="1.30" fill-opacity="0.52"/><circle cx="641.4" cy="266.5" r="1.30" fill-opacity="0.56"/><circle cx="634.4" cy="270.5" r="0.32" fill-opacity="0.84"/><circle cx="656.1" cy="262.4" r="0.40" fill-opacity="0.52"/><circle cx="663.4" cy="264.3" r="0.32" fill-opacity="0.58"/><circle cx="635.6" cy="261.6" r="0.32" fill-opacity="0.48"/><circle cx="664.4" cy="285.9" r="0.52" fill-opacity="0.87"/><circle cx="656.3" cy="286.6" r="0.72" fill-opacity="0.83"/><circle cx="659.7" cy="269.6" r="0.72" fill-opacity="0.52"/><circle cx="660.2" cy="272.5" r="0.72" fill-opacity="0.55"/><circle cx="654.4" cy="288.4" r="0.52" fill-opacity="0.60"/><circle cx="632.0" cy="287.1" r="0.44" fill-opacity="0.60"/><circle cx="637.6" cy="281.4" r="0.32" fill-opacity="0.84"/><circle cx="666.1" cy="277.4" r="0.72" fill-opacity="0.57"/><circle cx="665.9" cy="277.5" r="0.36" fill-opacity="0.64"/><circle cx="633.1" cy="289.1" r="0.72" fill-opacity="0.58"/><circle cx="658.8" cy="276.3" r="0.32" fill-opacity="0.85"/><circle cx="650.0" cy="295.5" r="0.40" fill-opacity="0.74"/><circle cx="642.0" cy="294.7" r="1.08" fill-opacity="0.66"/><circle cx="637.4" cy="263.5" r="0.28" fill-opacity="0.57"/><circle cx="632.5" cy="264.3" r="0.40" fill-opacity="0.61"/><circle cx="655.1" cy="267.1" r="0.36" fill-opacity="0.61"/><circle cx="645.1" cy="262.4" r="0.72" fill-opacity="0.88"/><circle cx="656.4" cy="278.9" r="0.36" fill-opacity="0.60"/><circle cx="664.4" cy="271.9" r="0.28" fill-opacity="0.47"/><circle cx="653.9" cy="280.5" r="0.72" fill-opacity="0.61"/><circle cx="628.4" cy="271.0" r="0.32" fill-opacity="0.50"/><circle cx="654.8" cy="259.2" r="0.36" fill-opacity="0.89"/><circle cx="655.3" cy="283.3" r="0.40" fill-opacity="0.71"/><circle cx="634.2" cy="268.1" r="0.36" fill-opacity="0.58"/><circle cx="643.5" cy="295.2" r="0.52" fill-opacity="0.53"/><circle cx="650.5" cy="265.2" r="0.60" fill-opacity="0.67"/><circle cx="648.0" cy="259.7" r="0.28" fill-opacity="0.60"/><circle cx="630.5" cy="270.6" r="0.28" fill-opacity="0.88"/><circle cx="644.7" cy="260.5" r="0.40" fill-opacity="0.64"/><circle cx="657.7" cy="262.1" r="0.50" fill-opacity="0.51"/><circle cx="653.4" cy="280.0" r="0.60" fill-opacity="0.70"/><circle cx="644.3" cy="258.7" r="0.50" fill-opacity="0.62"/><circle cx="638.2" cy="284.7" r="1.30" fill-opacity="0.73"/><circle cx="634.2" cy="282.9" r="0.36" fill-opacity="0.48"/><circle cx="639.3" cy="287.5" r="0.44" fill-opacity="0.61"/><circle cx="637.5" cy="268.4" r="0.40" fill-opacity="0.48"/><circle cx="664.9" cy="272.5" r="0.50" fill-opacity="0.56"/><circle cx="630.3" cy="283.7" r="0.52" fill-opacity="0.46"/><circle cx="658.7" cy="260.8" r="0.52" fill-opacity="0.83"/><circle cx="658.6" cy="278.9" r="0.44" fill-opacity="0.77"/><circle cx="641.3" cy="263.1" r="0.72" fill-opacity="0.72"/><circle cx="646.0" cy="264.4" r="0.72" fill-opacity="0.85"/><circle cx="655.8" cy="257.4" r="0.72" fill-opacity="0.80"/><circle cx="633.9" cy="263.7" r="0.28" fill-opacity="0.47"/><circle cx="667.8" cy="275.8" r="0.44" fill-opacity="0.58"/><circle cx="643.6" cy="267.3" r="0.72" fill-opacity="0.89"/><circle cx="644.2" cy="269.6" r="0.32" fill-opacity="0.74"/><circle cx="658.5" cy="288.6" r="0.36" fill-opacity="0.82"/><circle cx="642.0" cy="290.4" r="0.32" fill-opacity="0.66"/><circle cx="643.9" cy="261.1" r="0.40" fill-opacity="0.61"/><circle cx="643.2" cy="256.0" r="0.40" fill-opacity="0.58"/><circle cx="629.6" cy="283.4" r="0.60" fill-opacity="0.75"/><circle cx="631.7" cy="285.9" r="0.72" fill-opacity="0.72"/><circle cx="663.7" cy="280.6" r="0.28" fill-opacity="0.48"/><circle cx="631.1" cy="279.8" r="0.36" fill-opacity="0.63"/><circle cx="638.5" cy="262.2" r="0.36" fill-opacity="0.50"/><circle cx="631.6" cy="263.9" r="0.60" fill-opacity="0.86"/><circle cx="650.5" cy="292.9" r="0.40" fill-opacity="0.53"/><circle cx="653.8" cy="281.8" r="0.28" fill-opacity="0.73"/><circle cx="633.3" cy="272.2" r="0.32" fill-opacity="0.46"/><circle cx="628.8" cy="280.5" r="0.50" fill-opacity="0.86"/><circle cx="653.0" cy="264.1" r="0.65" fill-opacity="0.56"/><circle cx="637.3" cy="277.4" r="0.72" fill-opacity="0.60"/><circle cx="663.5" cy="276.1" r="0.60" fill-opacity="0.85"/><circle cx="660.4" cy="271.9" r="0.60" fill-opacity="0.87"/><circle cx="637.5" cy="263.6" r="0.52" fill-opacity="0.57"/><circle cx="662.9" cy="274.1" r="0.58" fill-opacity="0.53"/><circle cx="631.3" cy="266.0" r="0.72" fill-opacity="0.80"/><circle cx="630.8" cy="277.9" r="0.52" fill-opacity="0.62"/><circle cx="644.3" cy="282.0" r="0.28" fill-opacity="0.46"/><circle cx="655.3" cy="260.0" r="0.40" fill-opacity="0.67"/><circle cx="655.7" cy="261.0" r="0.65" fill-opacity="0.89"/><circle cx="635.7" cy="263.6" r="0.40" fill-opacity="0.74"/><circle cx="635.8" cy="269.8" r="0.36" fill-opacity="0.68"/><circle cx="667.2" cy="270.1" r="0.44" fill-opacity="0.53"/><circle cx="663.7" cy="284.9" r="1.08" fill-opacity="0.60"/><circle cx="637.7" cy="277.9" r="0.40" fill-opacity="0.53"/><circle cx="640.9" cy="260.0" r="0.28" fill-opacity="0.85"/><circle cx="638.5" cy="263.7" r="0.32" fill-opacity="0.73"/><circle cx="628.4" cy="275.6" r="0.28" fill-opacity="0.72"/><circle cx="630.8" cy="285.4" r="0.28" fill-opacity="0.64"/><circle cx="664.2" cy="286.1" r="0.72" fill-opacity="0.51"/><circle cx="655.8" cy="289.8" r="0.72" fill-opacity="0.58"/><circle cx="637.8" cy="282.5" r="0.72" fill-opacity="0.58"/><circle cx="655.8" cy="261.3" r="0.32" fill-opacity="0.53"/><circle cx="655.6" cy="267.4" r="0.44" fill-opacity="0.73"/><circle cx="631.8" cy="266.1" r="0.28" fill-opacity="0.79"/><circle cx="644.8" cy="294.3" r="0.40" fill-opacity="0.59"/><circle cx="665.9" cy="266.5" r="0.60" fill-opacity="0.85"/><circle cx="657.3" cy="284.5" r="1.08" fill-opacity="0.86"/><circle cx="664.1" cy="281.0" r="0.44" fill-opacity="0.69"/><circle cx="630.9" cy="265.8" r="0.28" fill-opacity="0.71"/><circle cx="655.6" cy="275.2" r="0.36" fill-opacity="0.50"/><circle cx="646.5" cy="286.8" r="0.28" fill-opacity="0.74"/><circle cx="633.3" cy="273.3" r="0.28" fill-opacity="0.71"/><circle cx="637.0" cy="280.7" r="0.32" fill-opacity="0.67"/><circle cx="643.6" cy="257.2" r="0.40" fill-opacity="0.62"/><circle cx="630.2" cy="283.8" r="0.36" fill-opacity="0.84"/><circle cx="658.8" cy="289.4" r="0.36" fill-opacity="0.79"/><circle cx="645.1" cy="281.4" r="0.32" fill-opacity="0.88"/><circle cx="658.5" cy="264.5" r="0.36" fill-opacity="0.46"/><circle cx="632.0" cy="271.0" r="0.52" fill-opacity="0.72"/><circle cx="642.2" cy="294.6" r="0.52" fill-opacity="0.61"/><circle cx="634.5" cy="261.7" r="0.44" fill-opacity="0.78"/><circle cx="634.4" cy="288.7" r="0.50" fill-opacity="0.64"/><circle cx="638.9" cy="265.6" r="0.72" fill-opacity="0.89"/><circle cx="663.0" cy="263.5" r="0.44" fill-opacity="0.75"/><circle cx="652.8" cy="256.4" r="0.60" fill-opacity="0.78"/><circle cx="643.0" cy="257.6" r="0.28" fill-opacity="0.59"/><circle cx="634.9" cy="274.7" r="0.32" fill-opacity="0.58"/><circle cx="648.9" cy="284.7" r="0.72" fill-opacity="0.51"/><circle cx="635.0" cy="282.5" r="0.72" fill-opacity="0.58"/><circle cx="646.4" cy="294.1" r="0.32" fill-opacity="0.45"/><circle cx="631.7" cy="285.6" r="0.40" fill-opacity="0.88"/><circle cx="642.3" cy="293.7" r="0.52" fill-opacity="0.72"/><circle cx="628.6" cy="277.5" r="0.79" fill-opacity="0.55"/><circle cx="655.2" cy="282.6" r="0.52" fill-opacity="0.84"/><circle cx="662.1" cy="288.9" r="0.32" fill-opacity="0.54"/><circle cx="629.4" cy="278.0" r="0.60" fill-opacity="0.71"/><circle cx="650.6" cy="290.2" r="0.52" fill-opacity="0.47"/><circle cx="649.6" cy="291.0" r="0.72" fill-opacity="0.48"/><circle cx="633.4" cy="266.2" r="0.60" fill-opacity="0.81"/><circle cx="639.9" cy="288.2" r="0.58" fill-opacity="0.61"/><circle cx="638.9" cy="286.8" r="0.60" fill-opacity="0.64"/><circle cx="656.1" cy="292.1" r="0.36" fill-opacity="0.87"/><circle cx="628.6" cy="272.8" r="0.40" fill-opacity="0.62"/><circle cx="658.9" cy="277.3" r="0.72" fill-opacity="0.47"/><circle cx="640.6" cy="257.0" r="0.28" fill-opacity="0.75"/><circle cx="650.0" cy="271.2" r="0.72" fill-opacity="0.72"/><circle cx="657.9" cy="266.3" r="0.60" fill-opacity="0.53"/><circle cx="638.4" cy="257.9" r="0.36" fill-opacity="0.71"/><circle cx="656.9" cy="262.6" r="0.79" fill-opacity="0.85"/><circle cx="648.4" cy="287.8" r="0.32" fill-opacity="0.81"/><circle cx="657.8" cy="271.2" r="0.36" fill-opacity="0.51"/><circle cx="664.9" cy="267.4" r="0.52" fill-opacity="0.79"/><circle cx="639.4" cy="290.7" r="0.52" fill-opacity="0.69"/><circle cx="647.3" cy="292.0" r="0.60" fill-opacity="0.65"/><circle cx="667.3" cy="271.8" r="0.44" fill-opacity="0.48"/><circle cx="648.0" cy="286.7" r="0.36" fill-opacity="0.62"/><circle cx="666.8" cy="273.7" r="0.52" fill-opacity="0.60"/><circle cx="637.6" cy="258.2" r="0.72" fill-opacity="0.88"/><circle cx="645.3" cy="291.2" r="0.28" fill-opacity="0.56"/><circle cx="666.3" cy="281.7" r="0.32" fill-opacity="0.60"/><circle cx="628.6" cy="270.0" r="0.40" fill-opacity="0.59"/><circle cx="646.4" cy="289.1" r="0.32" fill-opacity="0.88"/><circle cx="639.4" cy="289.6" r="0.72" fill-opacity="0.62"/><circle cx="648.7" cy="256.0" r="0.72" fill-opacity="0.70"/><circle cx="632.3" cy="282.5" r="0.28" fill-opacity="0.54"/><circle cx="658.1" cy="289.9" r="0.36" fill-opacity="0.81"/><circle cx="636.8" cy="290.8" r="0.40" fill-opacity="0.88"/><circle cx="640.9" cy="267.5" r="0.44" fill-opacity="0.68"/><circle cx="640.6" cy="273.5" r="0.32" fill-opacity="0.72"/><circle cx="661.9" cy="282.8" r="0.28" fill-opacity="0.74"/><circle cx="658.1" cy="287.4" r="0.44" fill-opacity="0.77"/></g>
</g>
<text x="522.41" y="38.41" font-family="'Liberation Serif', serif" font-weight="normal" font-size="12.40" textLength="14.22" lengthAdjust="spacingAndGlyphs" fill="#111">NC</text>
<text x="574.33" y="38.41" font-family="'Liberation Serif', serif" font-weight="normal" font-size="11.79" textLength="37.27" lengthAdjust="spacingAndGlyphs" fill="#111">shRNA-1</text>
<text x="640.57" y="37.67" font-family="'Liberation Serif', serif" font-weight="normal" font-size="11.43" textLength="38.50" lengthAdjust="spacingAndGlyphs" fill="#111">shRNA-2</text>
<line x1="500.75" y1="101.75" x2="680" y2="101.75" stroke="#000" stroke-width="1.5"/>
<text x="566.35" y="117.14" font-family="'Liberation Serif', serif" font-weight="normal" font-size="14.27" textLength="32.95" lengthAdjust="spacingAndGlyphs" fill="#111">ACHN</text>
<text x="524.91" y="140.16" font-family="'Liberation Serif', serif" font-weight="normal" font-size="12.03" textLength="14.22" lengthAdjust="spacingAndGlyphs" fill="#111">NC</text>
<text x="574.33" y="139.17" font-family="'Liberation Serif', serif" font-weight="normal" font-size="11.08" textLength="37.78" lengthAdjust="spacingAndGlyphs" fill="#111">shRNA-1</text>
<text x="637.32" y="139.17" font-family="'Liberation Serif', serif" font-weight="normal" font-size="11.08" textLength="38.50" lengthAdjust="spacingAndGlyphs" fill="#111">shRNA-2</text>
<line x1="503" y1="203.75" x2="682" y2="203.75" stroke="#000" stroke-width="1.5"/>
<text x="569.95" y="218.88" font-family="'Liberation Serif', serif" font-weight="normal" font-size="14.90" textLength="30.31" lengthAdjust="spacingAndGlyphs" fill="#111">786-O</text>
<text x="520.67" y="240.90" font-family="'Liberation Serif', serif" font-weight="normal" font-size="13.15" textLength="13.96" lengthAdjust="spacingAndGlyphs" fill="#111">NC</text>
<text x="571.07" y="241.66" font-family="'Liberation Serif', serif" font-weight="normal" font-size="12.14" textLength="38.55" lengthAdjust="spacingAndGlyphs" fill="#111">shRNA-1</text>
<text x="637.82" y="240.92" font-family="'Liberation Serif', serif" font-weight="normal" font-size="11.08" textLength="38.76" lengthAdjust="spacingAndGlyphs" fill="#111">shRNA-2</text>
<line x1="502" y1="305" x2="680.5" y2="305" stroke="#000" stroke-width="1.5"/>
<text x="572.48" y="322.12" font-family="'Liberation Serif', serif" font-weight="normal" font-size="16.13" textLength="27.25" lengthAdjust="spacingAndGlyphs" fill="#111">769-P</text>
<line x1="533.25" y1="371.95" x2="533.25" y2="462.9" stroke="#000" stroke-width="1.3"/>
<line x1="532.6" y1="462.25" x2="668" y2="462.25" stroke="#000" stroke-width="1.3"/>
<line x1="530.25" y1="462.25" x2="533.25" y2="462.25" stroke="#000" stroke-width="1.1"/>
<text x="520.15" y="464.49" font-family="'Liberation Sans', sans-serif" font-weight="bold" font-size="6.48" textLength="8.81" lengthAdjust="spacingAndGlyphs" fill="#000">0.0</text>
<line x1="530.25" y1="439.80" x2="533.25" y2="439.80" stroke="#000" stroke-width="1.1"/>
<text x="520.15" y="442.04" font-family="'Liberation Sans', sans-serif" font-weight="bold" font-size="6.48" textLength="8.71" lengthAdjust="spacingAndGlyphs" fill="#000">0.5</text>
<line x1="530.25" y1="417.35" x2="533.25" y2="417.35" stroke="#000" stroke-width="1.1"/>
<text x="520.01" y="419.59" font-family="'Liberation Sans', sans-serif" font-weight="bold" font-size="6.48" textLength="8.94" lengthAdjust="spacingAndGlyphs" fill="#000">1.0</text>
<line x1="530.25" y1="394.90" x2="533.25" y2="394.90" stroke="#000" stroke-width="1.1"/>
<text x="520.02" y="397.13" font-family="'Liberation Sans', sans-serif" font-weight="bold" font-size="6.57" textLength="8.84" lengthAdjust="spacingAndGlyphs" fill="#000">1.5</text>
<line x1="530.25" y1="372.45" x2="533.25" y2="372.45" stroke="#000" stroke-width="1.1"/>
<text x="520.18" y="374.69" font-family="'Liberation Sans', sans-serif" font-weight="bold" font-size="6.48" textLength="8.77" lengthAdjust="spacingAndGlyphs" fill="#000">2.0</text>
<line x1="541.88" y1="384.12" x2="541.88" y2="378.02" stroke="#000" stroke-width="1.1"/>
<line x1="539.27" y1="378.52" x2="544.48" y2="378.52" stroke="#000" stroke-width="1.1"/>
<rect x="538.10" y="384.72" width="7.55" height="78.13" fill="#fff" stroke="#000" stroke-width="1.2"/>
<line x1="554.62" y1="418.25" x2="554.62" y2="410.75" stroke="#000" stroke-width="1.1"/>
<line x1="552.02" y1="411.25" x2="557.23" y2="411.25" stroke="#000" stroke-width="1.1"/>
<rect x="550.85" y="418.85" width="7.55" height="44.00" fill="#ff8208" stroke="#000" stroke-width="1.2"/>
<text x="551.30" y="412.37" font-family="'Liberation Sans', sans-serif" font-weight="normal" font-size="8.29" textLength="6.64" lengthAdjust="spacingAndGlyphs" fill="#000">**</text>
<line x1="567.38" y1="426.33" x2="567.38" y2="421.97" stroke="#000" stroke-width="1.1"/>
<line x1="564.77" y1="422.47" x2="569.98" y2="422.47" stroke="#000" stroke-width="1.1"/>
<rect x="563.60" y="426.93" width="7.55" height="35.92" fill="#fdcd6a" stroke="#000" stroke-width="1.2"/>
<text x="564.05" y="423.59" font-family="'Liberation Sans', sans-serif" font-weight="normal" font-size="8.29" textLength="6.64" lengthAdjust="spacingAndGlyphs" fill="#000">**</text>
<line x1="554.75" y1="462.25" x2="554.75" y2="465.25" stroke="#000" stroke-width="1.1"/>
<line x1="588.12" y1="420.49" x2="588.12" y2="415.55" stroke="#000" stroke-width="1.1"/>
<line x1="585.52" y1="416.05" x2="590.73" y2="416.05" stroke="#000" stroke-width="1.1"/>
<rect x="584.35" y="421.09" width="7.55" height="41.76" fill="#fff" stroke="#000" stroke-width="1.2"/>
<line x1="600.88" y1="440.70" x2="600.88" y2="437.02" stroke="#000" stroke-width="1.1"/>
<line x1="598.27" y1="437.52" x2="603.48" y2="437.52" stroke="#000" stroke-width="1.1"/>
<rect x="597.10" y="441.30" width="7.55" height="21.55" fill="#ff8208" stroke="#000" stroke-width="1.2"/>
<text x="597.55" y="438.63" font-family="'Liberation Sans', sans-serif" font-weight="normal" font-size="8.29" textLength="6.64" lengthAdjust="spacingAndGlyphs" fill="#000">**</text>
<line x1="613.62" y1="443.39" x2="613.62" y2="439.49" stroke="#000" stroke-width="1.1"/>
<line x1="611.02" y1="439.99" x2="616.23" y2="439.99" stroke="#000" stroke-width="1.1"/>
<rect x="609.85" y="443.99" width="7.55" height="18.86" fill="#fdcd6a" stroke="#000" stroke-width="1.2"/>
<text x="610.30" y="441.10" font-family="'Liberation Sans', sans-serif" font-weight="normal" font-size="8.29" textLength="6.64" lengthAdjust="spacingAndGlyphs" fill="#000">**</text>
<line x1="601.00" y1="462.25" x2="601.00" y2="465.25" stroke="#000" stroke-width="1.1"/>
<line x1="634.38" y1="392.21" x2="634.38" y2="386.37" stroke="#000" stroke-width="1.1"/>
<line x1="631.77" y1="386.87" x2="636.98" y2="386.87" stroke="#000" stroke-width="1.1"/>
<rect x="630.60" y="392.81" width="7.55" height="70.04" fill="#fff" stroke="#000" stroke-width="1.2"/>
<line x1="647.12" y1="428.13" x2="647.12" y2="423.01" stroke="#000" stroke-width="1.1"/>
<line x1="644.52" y1="423.51" x2="649.73" y2="423.51" stroke="#000" stroke-width="1.1"/>
<rect x="643.35" y="428.73" width="7.55" height="34.12" fill="#ff8208" stroke="#000" stroke-width="1.2"/>
<text x="643.80" y="424.62" font-family="'Liberation Sans', sans-serif" font-weight="normal" font-size="8.29" textLength="6.64" lengthAdjust="spacingAndGlyphs" fill="#000">**</text>
<line x1="659.88" y1="433.06" x2="659.88" y2="427.00" stroke="#000" stroke-width="1.1"/>
<line x1="657.27" y1="427.50" x2="662.48" y2="427.50" stroke="#000" stroke-width="1.1"/>
<rect x="656.10" y="433.67" width="7.55" height="29.19" fill="#fdcd6a" stroke="#000" stroke-width="1.2"/>
<text x="656.55" y="428.62" font-family="'Liberation Sans', sans-serif" font-weight="normal" font-size="8.29" textLength="6.64" lengthAdjust="spacingAndGlyphs" fill="#000">**</text>
<line x1="647.25" y1="462.25" x2="647.25" y2="465.25" stroke="#000" stroke-width="1.1"/>
<text x="544.55" y="472.21" font-family="'Liberation Sans', sans-serif" font-weight="bold" font-size="7.13" textLength="19.96" lengthAdjust="spacingAndGlyphs" fill="#000">ACHN</text>
<text x="589.93" y="472.21" font-family="'Liberation Sans', sans-serif" font-weight="bold" font-size="7.13" textLength="20.17" lengthAdjust="spacingAndGlyphs" fill="#000">786-O</text>
<text x="637.89" y="472.21" font-family="'Liberation Sans', sans-serif" font-weight="bold" font-size="7.13" textLength="22.17" lengthAdjust="spacingAndGlyphs" fill="#000">769-P</text>
<text transform="translate(515.96,432.57) rotate(-90)" font-family="'Liberation Sans', sans-serif" font-weight="bold" font-size="7.22" textLength="31.35" lengthAdjust="spacingAndGlyphs" fill="#000">OD value</text>
<rect x="537.6" y="351.85" width="9.3" height="4.55" fill="#fff" stroke="#000" stroke-width="1.2"/>
<rect x="537.6" y="360.1" width="9.3" height="4.55" fill="#ff8208" stroke="#000" stroke-width="1.2"/>
<rect x="537.6" y="367.6" width="9.3" height="4.55" fill="#fdcd6a" stroke="#000" stroke-width="1.2"/>
<text x="552.17" y="356.46" font-family="'Liberation Sans', sans-serif" font-weight="normal" font-size="7.13" textLength="9.88" lengthAdjust="spacingAndGlyphs" fill="#000">NC</text>
<text x="552.51" y="364.71" font-family="'Liberation Sans', sans-serif" font-weight="normal" font-size="6.88" textLength="28.86" lengthAdjust="spacingAndGlyphs" fill="#000">shRNA-1</text>
<text x="552.50" y="372.21" font-family="'Liberation Sans', sans-serif" font-weight="normal" font-size="6.88" textLength="29.15" lengthAdjust="spacingAndGlyphs" fill="#000">shRNA-2</text>
</svg>
</body></html>
